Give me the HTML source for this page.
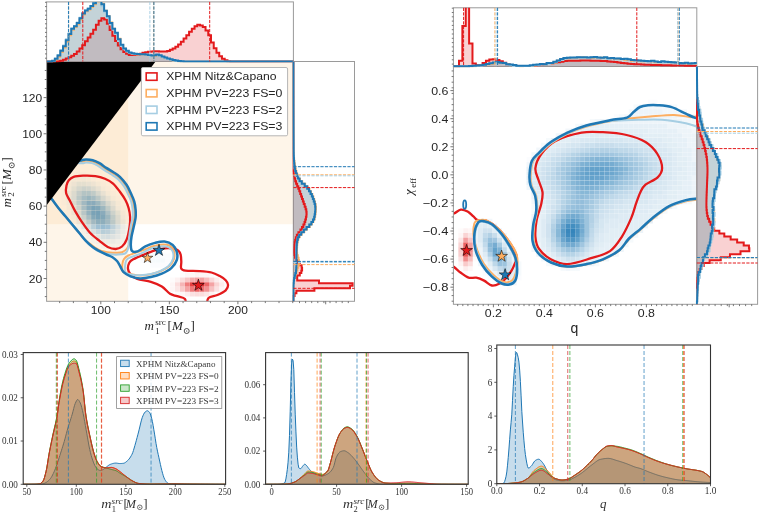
<!DOCTYPE html><html><head><meta charset="utf-8"><style>html,body{margin:0;padding:0;background:#fff;overflow:hidden}svg{display:block;will-change:transform;filter:blur(0.35px)}text{font-family:"Liberation Sans",sans-serif}.sf{font-family:"Liberation Serif",serif}</style></head><body>
<svg width="760" height="514" viewBox="0 0 760 514">
<defs>
<clipPath id="cA"><rect x="46.6" y="61.5" width="246.79999999999998" height="239.8"/></clipPath>
<clipPath id="cAt"><rect x="46.6" y="1.9" width="246.79999999999998" height="60.6"/></clipPath>
<clipPath id="cAr"><rect x="292.4" y="61.5" width="62.10000000000002" height="239.8"/></clipPath>
<clipPath id="cB"><rect x="453.4" y="66.5" width="243.39999999999998" height="237.8"/></clipPath>
<clipPath id="cBt"><rect x="453.4" y="7.8" width="243.39999999999998" height="59.7"/></clipPath>
<clipPath id="cBr"><rect x="695.8" y="66.5" width="61.80000000000007" height="237.8"/></clipPath>
</defs>
<rect clip-path="url(#cA)" x="46.6" y="61.5" width="81.62" height="239.8" fill="#fbb96a" fill-opacity="0.15"/>
<g clip-path="url(#cA)" fill="#1f78b4">
<path fill-opacity="0.02" d="M61.48,181.47h4.8v4.66h-4.8zM61.48,186.27h4.8v4.66h-4.8zM61.48,191.06h4.8v4.66h-4.8zM61.48,195.86h4.8v4.66h-4.8zM61.48,200.65h4.8v4.66h-4.8zM66.41,176.67h4.8v4.66h-4.8zM66.41,210.25h4.8v4.66h-4.8zM66.41,215.04h4.8v4.66h-4.8zM71.35,219.84h4.8v4.66h-4.8zM76.29,171.88h4.8v4.66h-4.8zM76.29,229.43h4.8v4.66h-4.8zM81.22,171.88h4.8v4.66h-4.8zM81.22,234.23h4.8v4.66h-4.8zM86.16,239.02h4.8v4.66h-4.8zM91.09,176.67h4.8v4.66h-4.8zM96.03,243.82h4.8v4.66h-4.8zM100.97,181.47h4.8v4.66h-4.8zM105.9,186.27h4.8v4.66h-4.8zM110.84,191.06h4.8v4.66h-4.8zM110.84,248.61h4.8v4.66h-4.8zM115.77,195.86h4.8v4.66h-4.8zM120.71,205.45h4.8v4.66h-4.8zM120.71,243.82h4.8v4.66h-4.8zM125.65,215.04h4.8v4.66h-4.8zM125.65,219.84h4.8v4.66h-4.8zM125.65,234.23h4.8v4.66h-4.8zM125.65,239.02h4.8v4.66h-4.8zM140.45,248.61h4.8v4.66h-4.8zM140.45,253.41h4.8v4.66h-4.8zM140.45,258.21h4.8v4.66h-4.8zM145.39,248.61h4.8v4.66h-4.8zM150.33,248.61h4.8v4.66h-4.8zM150.33,263h4.8v4.66h-4.8zM155.26,248.61h4.8v4.66h-4.8zM155.26,263h4.8v4.66h-4.8zM160.2,253.41h4.8v4.66h-4.8zM160.2,263h4.8v4.66h-4.8zM165.13,253.41h4.8v4.66h-4.8zM165.13,258.21h4.8v4.66h-4.8zM165.13,263h4.8v4.66h-4.8z"/>
<path fill-opacity="0.04" d="M66.41,181.47h4.8v4.66h-4.8zM66.41,205.45h4.8v4.66h-4.8zM71.35,176.67h4.8v4.66h-4.8zM71.35,215.04h4.8v4.66h-4.8zM76.29,176.67h4.8v4.66h-4.8zM76.29,224.63h4.8v4.66h-4.8zM81.22,229.43h4.8v4.66h-4.8zM86.16,176.67h4.8v4.66h-4.8zM86.16,234.23h4.8v4.66h-4.8zM91.09,239.02h4.8v4.66h-4.8zM96.03,181.47h4.8v4.66h-4.8zM100.97,186.27h4.8v4.66h-4.8zM100.97,243.82h4.8v4.66h-4.8zM105.9,191.06h4.8v4.66h-4.8zM105.9,243.82h4.8v4.66h-4.8zM110.84,195.86h4.8v4.66h-4.8zM110.84,243.82h4.8v4.66h-4.8zM115.77,200.65h4.8v4.66h-4.8zM115.77,243.82h4.8v4.66h-4.8zM120.71,210.25h4.8v4.66h-4.8zM120.71,239.02h4.8v4.66h-4.8zM125.65,224.63h4.8v4.66h-4.8zM125.65,229.43h4.8v4.66h-4.8zM145.39,253.41h4.8v4.66h-4.8zM145.39,258.21h4.8v4.66h-4.8zM150.33,253.41h4.8v4.66h-4.8zM150.33,258.21h4.8v4.66h-4.8zM155.26,253.41h4.8v4.66h-4.8zM155.26,258.21h4.8v4.66h-4.8zM160.2,258.21h4.8v4.66h-4.8z"/>
<path fill-opacity="0.06" d="M66.41,186.27h4.8v4.66h-4.8zM66.41,200.65h4.8v4.66h-4.8zM81.22,176.67h4.8v4.66h-4.8zM96.03,239.02h4.8v4.66h-4.8zM115.77,205.45h4.8v4.66h-4.8zM115.77,239.02h4.8v4.66h-4.8zM120.71,215.04h4.8v4.66h-4.8zM120.71,234.23h4.8v4.66h-4.8z"/>
<path fill-opacity="0.08" d="M66.41,191.06h4.8v4.66h-4.8zM66.41,195.86h4.8v4.66h-4.8zM71.35,181.47h4.8v4.66h-4.8zM71.35,210.25h4.8v4.66h-4.8zM76.29,219.84h4.8v4.66h-4.8zM91.09,181.47h4.8v4.66h-4.8zM91.09,234.23h4.8v4.66h-4.8zM100.97,239.02h4.8v4.66h-4.8zM105.9,239.02h4.8v4.66h-4.8zM110.84,239.02h4.8v4.66h-4.8zM120.71,219.84h4.8v4.66h-4.8zM120.71,224.63h4.8v4.66h-4.8zM120.71,229.43h4.8v4.66h-4.8z"/>
<path fill-opacity="0.11" d="M81.22,224.63h4.8v4.66h-4.8zM86.16,181.47h4.8v4.66h-4.8zM86.16,229.43h4.8v4.66h-4.8zM96.03,186.27h4.8v4.66h-4.8zM100.97,191.06h4.8v4.66h-4.8zM105.9,195.86h4.8v4.66h-4.8zM110.84,200.65h4.8v4.66h-4.8zM115.77,234.23h4.8v4.66h-4.8z"/>
<path fill-opacity="0.13" d="M71.35,186.27h4.8v4.66h-4.8zM71.35,205.45h4.8v4.66h-4.8zM76.29,181.47h4.8v4.66h-4.8zM76.29,215.04h4.8v4.66h-4.8zM81.22,181.47h4.8v4.66h-4.8zM96.03,234.23h4.8v4.66h-4.8zM115.77,210.25h4.8v4.66h-4.8z"/>
<path fill-opacity="0.15" d="M110.84,234.23h4.8v4.66h-4.8zM115.77,229.43h4.8v4.66h-4.8z"/>
<path fill-opacity="0.17" d="M71.35,191.06h4.8v4.66h-4.8zM71.35,200.65h4.8v4.66h-4.8zM81.22,219.84h4.8v4.66h-4.8zM91.09,186.27h4.8v4.66h-4.8zM91.09,229.43h4.8v4.66h-4.8zM100.97,234.23h4.8v4.66h-4.8zM110.84,205.45h4.8v4.66h-4.8zM115.77,215.04h4.8v4.66h-4.8z"/>
<path fill-opacity="0.19" d="M71.35,195.86h4.8v4.66h-4.8zM76.29,210.25h4.8v4.66h-4.8zM86.16,224.63h4.8v4.66h-4.8zM105.9,234.23h4.8v4.66h-4.8zM115.77,219.84h4.8v4.66h-4.8zM115.77,224.63h4.8v4.66h-4.8z"/>
<path fill-opacity="0.21" d="M76.29,186.27h4.8v4.66h-4.8zM96.03,191.06h4.8v4.66h-4.8zM100.97,195.86h4.8v4.66h-4.8zM105.9,200.65h4.8v4.66h-4.8z"/>
<path fill-opacity="0.23" d="M86.16,186.27h4.8v4.66h-4.8zM110.84,229.43h4.8v4.66h-4.8z"/>
<path fill-opacity="0.25" d="M76.29,205.45h4.8v4.66h-4.8zM81.22,186.27h4.8v4.66h-4.8zM96.03,229.43h4.8v4.66h-4.8zM110.84,210.25h4.8v4.66h-4.8z"/>
<path fill-opacity="0.27" d="M81.22,215.04h4.8v4.66h-4.8z"/>
<path fill-opacity="0.29" d="M76.29,191.06h4.8v4.66h-4.8zM105.9,229.43h4.8v4.66h-4.8zM110.84,224.63h4.8v4.66h-4.8z"/>
<path fill-opacity="0.32" d="M76.29,200.65h4.8v4.66h-4.8zM86.16,219.84h4.8v4.66h-4.8zM91.09,191.06h4.8v4.66h-4.8zM91.09,224.63h4.8v4.66h-4.8zM100.97,229.43h4.8v4.66h-4.8zM105.9,205.45h4.8v4.66h-4.8zM110.84,215.04h4.8v4.66h-4.8z"/>
<path fill-opacity="0.34" d="M76.29,195.86h4.8v4.66h-4.8zM96.03,195.86h4.8v4.66h-4.8zM110.84,219.84h4.8v4.66h-4.8z"/>
<path fill-opacity="0.36" d="M81.22,210.25h4.8v4.66h-4.8zM100.97,200.65h4.8v4.66h-4.8z"/>
<path fill-opacity="0.38" d="M81.22,191.06h4.8v4.66h-4.8zM86.16,191.06h4.8v4.66h-4.8z"/>
<path fill-opacity="0.42" d="M96.03,224.63h4.8v4.66h-4.8zM105.9,210.25h4.8v4.66h-4.8zM105.9,224.63h4.8v4.66h-4.8z"/>
<path fill-opacity="0.44" d="M81.22,205.45h4.8v4.66h-4.8zM86.16,215.04h4.8v4.66h-4.8z"/>
<path fill-opacity="0.46" d="M81.22,195.86h4.8v4.66h-4.8zM91.09,195.86h4.8v4.66h-4.8zM100.97,224.63h4.8v4.66h-4.8z"/>
<path fill-opacity="0.48" d="M81.22,200.65h4.8v4.66h-4.8zM91.09,219.84h4.8v4.66h-4.8zM105.9,219.84h4.8v4.66h-4.8z"/>
<path fill-opacity="0.5" d="M96.03,200.65h4.8v4.66h-4.8zM100.97,205.45h4.8v4.66h-4.8zM105.9,215.04h4.8v4.66h-4.8z"/>
<path fill-opacity="0.53" d="M86.16,195.86h4.8v4.66h-4.8z"/>
<path fill-opacity="0.55" d="M86.16,210.25h4.8v4.66h-4.8z"/>
<path fill-opacity="0.59" d="M96.03,219.84h4.8v4.66h-4.8zM100.97,219.84h4.8v4.66h-4.8z"/>
<path fill-opacity="0.61" d="M86.16,200.65h4.8v4.66h-4.8zM86.16,205.45h4.8v4.66h-4.8zM91.09,200.65h4.8v4.66h-4.8zM100.97,210.25h4.8v4.66h-4.8z"/>
<path fill-opacity="0.63" d="M91.09,215.04h4.8v4.66h-4.8z"/>
<path fill-opacity="0.65" d="M96.03,205.45h4.8v4.66h-4.8zM100.97,215.04h4.8v4.66h-4.8z"/>
<path fill-opacity="0.69" d="M91.09,205.45h4.8v4.66h-4.8zM91.09,210.25h4.8v4.66h-4.8zM96.03,215.04h4.8v4.66h-4.8z"/>
<path fill-opacity="0.71" d="M96.03,210.25h4.8v4.66h-4.8z"/>
</g>
<g clip-path="url(#cA)" fill="#e31a1c">
<path fill-opacity="0.02" d="M170.07,277.39h4.8v4.66h-4.8zM175.01,291.78h4.8v4.66h-4.8zM179.94,272.59h4.8v4.66h-4.8zM209.56,272.59h4.8v4.66h-4.8zM214.49,291.78h4.8v4.66h-4.8zM224.37,282.19h4.8v4.66h-4.8zM224.37,286.98h4.8v4.66h-4.8z"/>
<path fill-opacity="0.04" d="M170.07,282.19h4.8v4.66h-4.8zM170.07,286.98h4.8v4.66h-4.8zM179.94,291.78h4.8v4.66h-4.8zM184.88,272.59h4.8v4.66h-4.8zM189.81,272.59h4.8v4.66h-4.8zM199.69,272.59h4.8v4.66h-4.8zM204.62,272.59h4.8v4.66h-4.8zM219.43,277.39h4.8v4.66h-4.8zM219.43,286.98h4.8v4.66h-4.8z"/>
<path fill-opacity="0.06" d="M175.01,277.39h4.8v4.66h-4.8zM194.75,272.59h4.8v4.66h-4.8zM209.56,291.78h4.8v4.66h-4.8z"/>
<path fill-opacity="0.08" d="M184.88,291.78h4.8v4.66h-4.8zM214.49,277.39h4.8v4.66h-4.8zM219.43,282.19h4.8v4.66h-4.8z"/>
<path fill-opacity="0.11" d="M175.01,286.98h4.8v4.66h-4.8zM204.62,291.78h4.8v4.66h-4.8z"/>
<path fill-opacity="0.13" d="M189.81,291.78h4.8v4.66h-4.8zM214.49,286.98h4.8v4.66h-4.8z"/>
<path fill-opacity="0.15" d="M175.01,282.19h4.8v4.66h-4.8zM179.94,277.39h4.8v4.66h-4.8zM194.75,291.78h4.8v4.66h-4.8zM199.69,291.78h4.8v4.66h-4.8z"/>
<path fill-opacity="0.17" d="M209.56,277.39h4.8v4.66h-4.8z"/>
<path fill-opacity="0.19" d="M214.49,282.19h4.8v4.66h-4.8z"/>
<path fill-opacity="0.23" d="M179.94,286.98h4.8v4.66h-4.8z"/>
<path fill-opacity="0.25" d="M184.88,277.39h4.8v4.66h-4.8z"/>
<path fill-opacity="0.27" d="M209.56,286.98h4.8v4.66h-4.8z"/>
<path fill-opacity="0.29" d="M204.62,277.39h4.8v4.66h-4.8z"/>
<path fill-opacity="0.32" d="M179.94,282.19h4.8v4.66h-4.8z"/>
<path fill-opacity="0.36" d="M189.81,277.39h4.8v4.66h-4.8z"/>
<path fill-opacity="0.4" d="M184.88,286.98h4.8v4.66h-4.8zM199.69,277.39h4.8v4.66h-4.8zM209.56,282.19h4.8v4.66h-4.8z"/>
<path fill-opacity="0.42" d="M194.75,277.39h4.8v4.66h-4.8z"/>
<path fill-opacity="0.48" d="M204.62,286.98h4.8v4.66h-4.8z"/>
<path fill-opacity="0.57" d="M184.88,282.19h4.8v4.66h-4.8z"/>
<path fill-opacity="0.59" d="M189.81,286.98h4.8v4.66h-4.8z"/>
<path fill-opacity="0.63" d="M199.69,286.98h4.8v4.66h-4.8z"/>
<path fill-opacity="0.67" d="M204.62,282.19h4.8v4.66h-4.8z"/>
<path fill-opacity="0.69" d="M194.75,286.98h4.8v4.66h-4.8z"/>
<path fill-opacity="0.84" d="M189.81,282.19h4.8v4.66h-4.8z"/>
<path fill-opacity="0.9" d="M199.69,282.19h4.8v4.66h-4.8z"/>
<path fill-opacity="0.97" d="M194.75,282.19h4.8v4.66h-4.8z"/>
</g>
<rect clip-path="url(#cA)" x="46.6" y="61.5" width="246.79999999999998" height="162.73000000000002" fill="#fbb96a" fill-opacity="0.15"/>
<path clip-path="url(#cA)" d="M68.8,180.2C69.98,178.75 71.22,177.55 73.6,176.8C75.98,176.05 79.47,175.82 83.1,175.7C86.73,175.58 91.75,175.58 95.4,176.1C99.05,176.62 102.05,177.55 105,178.8C107.95,180.05 110.62,181.43 113.1,183.6C115.58,185.77 117.85,189.07 119.9,191.8C121.95,194.53 123.95,197.3 125.4,200C126.85,202.7 127.82,205.17 128.6,208C129.38,210.83 129.95,213.8 130.1,217C130.25,220.2 130.07,223.45 129.5,227.2C128.93,230.95 127.95,236.28 126.7,239.5C125.45,242.72 123.82,244.92 122,246.5C120.18,248.08 118.18,248.92 115.8,249C113.42,249.08 110.42,248.35 107.7,247C104.98,245.65 102.45,243.28 99.5,240.9C96.55,238.52 92.95,235.88 90,232.7C87.05,229.52 84.3,225.43 81.8,221.8C79.3,218.17 77.05,214.53 75,210.9C72.95,207.27 70.98,202.98 69.5,200C68.02,197.02 66.6,195.42 66.1,193C65.6,190.58 66.05,187.63 66.5,185.5C66.95,183.37 67.62,181.65 68.8,180.2Z" fill="none" stroke="#e31a1c" stroke-width="2.3" stroke-linejoin="round"/>
<path clip-path="url(#cA)" d="M185.4,306C185.33,304.83 186.38,300.63 185,299C183.62,297.37 179.6,297.07 177.1,296.2C174.6,295.33 172.55,295.42 170,293.8C167.45,292.18 164.98,288.5 161.8,286.5C158.62,284.5 155,283.05 150.9,281.8C146.8,280.55 140.58,280.22 137.2,279C133.82,277.78 132.13,276.17 130.6,274.5C129.07,272.83 128.22,270.97 128,269C127.78,267.03 128.43,264.32 129.3,262.7C130.17,261.08 130.73,260.67 133.2,259.3C135.67,257.93 140.47,255.98 144.1,254.5C147.73,253.02 151.6,251.42 155,250.4C158.4,249.38 161.42,248.7 164.5,248.4C167.58,248.1 171.2,248.23 173.5,248.6C175.8,248.97 177.1,249.58 178.3,250.6C179.5,251.62 180.2,252.83 180.7,254.7C181.2,256.57 181.22,259.5 181.3,261.8C181.38,264.1 180.52,267.02 181.2,268.5C181.88,269.98 182.33,270.27 185.4,270.7C188.47,271.13 195.25,270.8 199.6,271.1C203.95,271.4 208.13,271.67 211.5,272.5C214.87,273.33 217.43,274.82 219.8,276.1C222.17,277.38 224.32,278.72 225.7,280.2C227.08,281.68 228.1,283.32 228.1,285C228.1,286.68 227.48,288.63 225.7,290.3C223.92,291.97 220.27,293.72 217.4,295C214.53,296.28 210.28,296.17 208.5,298C206.72,299.83 207,304.67 206.7,306" fill="none" stroke="#e31a1c" stroke-width="2.3" stroke-linejoin="round"/>
<path clip-path="url(#cA)" d="M81.34,161.68C84.66,161.31 84.09,160.84 85.92,160.8C87.76,160.76 90.2,160.87 92.36,161.45C94.51,162.04 96.65,163.08 98.86,164.33C101.07,165.59 103.34,167.53 105.59,168.99C107.85,170.45 110.15,171.63 112.39,173.09C114.62,174.55 116.8,175.63 119,177.74C121.21,179.85 123.85,183.07 125.62,185.72C127.39,188.37 128.4,190.99 129.62,193.64C130.84,196.3 132.17,199 132.95,201.67C133.73,204.33 134.08,206.96 134.3,209.61C134.53,212.26 134.64,214.67 134.31,217.55C133.98,220.44 133.01,223.77 132.33,226.93C131.65,230.09 130.68,233.93 130.23,236.52C129.78,239.12 130.14,240.5 129.6,242.5C129.06,244.5 128.27,246.88 127,248.5C125.73,250.12 123.83,251.48 122,252.2C120.17,252.92 118,252.73 116,252.8C114,252.87 112,252.82 110,252.6C108,252.38 105.83,251.97 104,251.5C102.17,251.03 100.5,250.47 99,249.8C97.5,249.13 96.33,248.38 95,247.5C93.67,246.62 92.23,245.38 91,244.5C89.77,243.62 88.45,242.8 87.6,242.2C86.75,241.6 87.32,242.48 85.9,240.9C84.48,239.32 81.38,235.43 79.1,232.7C76.82,229.97 74.48,227.23 72.2,224.5C69.92,221.77 67.67,219.02 65.4,216.3C63.13,213.58 60.75,210.92 58.6,208.2C56.45,205.48 54.43,202.7 52.5,200C50.57,197.3 48.42,195.33 47,192C45.58,188.67 43.17,183.67 44,180C44.83,176.33 48.33,172.83 52,170C55.67,167.17 61.11,164.39 66,163C70.89,161.61 78.02,162.04 81.34,161.68Z" fill="none" stroke="#fdae61" stroke-width="2.0" stroke-linejoin="round"/>
<path clip-path="url(#cA)" d="M122.6,271C122.08,269.5 122.17,266 122.4,264C122.63,262 123.02,260.42 124,259C124.98,257.58 126.47,256.5 128.3,255.5C130.13,254.5 132.22,254 135,253C137.78,252 142.17,250.58 145,249.5C147.83,248.42 149.5,247.3 152,246.5C154.5,245.7 157.5,244.98 160,244.7C162.5,244.42 165,244.33 167,244.8C169,245.27 170.78,246.3 172,247.5C173.22,248.7 173.97,250.08 174.3,252C174.63,253.92 174.8,256.67 174,259C173.2,261.33 171.67,264 169.5,266C167.33,268 164.1,269.63 161,271C157.9,272.37 154.4,273.45 150.9,274.2C147.4,274.95 143.32,275.48 140,275.5C136.68,275.52 133.42,274.72 131,274.3C128.58,273.88 126.9,273.55 125.5,273C124.1,272.45 123.12,272.5 122.6,271Z" fill="none" stroke="#fdae61" stroke-width="2.0" stroke-linejoin="round"/>
<path clip-path="url(#cA)" d="M81.65,163.35C84.98,163.27 84.24,162.54 85.95,162.5C87.66,162.46 89.9,162.54 91.91,163.09C93.92,163.65 95.9,164.59 98.02,165.81C100.15,167.03 102.43,168.97 104.67,170.42C106.91,171.87 109.26,173.09 111.46,174.51C113.65,175.94 115.7,176.94 117.83,178.97C119.95,180.99 122.5,184.1 124.21,186.67C125.91,189.23 126.89,191.77 128.07,194.35C129.26,196.93 130.56,199.58 131.32,202.14C132.08,204.71 132.39,207.22 132.61,209.76C132.83,212.29 132.94,214.56 132.62,217.36C132.29,220.17 131.3,222.8 130.67,226.57C130.03,230.34 129.14,236.76 128.8,240C128.46,243.24 128.87,244.17 128.6,246C128.33,247.83 127.88,249.7 127.2,251C126.52,252.3 126.03,253.2 124.5,253.8C122.97,254.4 120.42,254.52 118,254.6C115.58,254.68 112.5,254.57 110,254.3C107.5,254.03 105.17,253.63 103,253C100.83,252.37 98.67,251.37 97,250.5C95.33,249.63 94.3,248.8 93,247.8C91.7,246.8 90.2,245.42 89.2,244.5C88.2,243.58 87.55,242.9 87,242.3C86.45,241.7 87.22,242.5 85.9,240.9C84.58,239.3 81.38,235.43 79.1,232.7C76.82,229.97 74.48,227.23 72.2,224.5C69.92,221.77 67.67,219.02 65.4,216.3C63.13,213.58 60.75,210.92 58.6,208.2C56.45,205.48 54.43,202.7 52.5,200C50.57,197.3 48.42,195.33 47,192C45.58,188.67 43.17,183.67 44,180C44.83,176.33 48.33,172.83 52,170C55.67,167.17 61.06,164.11 66,163C70.94,161.89 78.33,163.43 81.65,163.35Z" fill="none" stroke="#a6cee3" stroke-width="2.0" stroke-linejoin="round"/>
<path clip-path="url(#cA)" d="M125.4,272C124.27,270.37 125.02,267 125.2,265C125.38,263 125.7,261.25 126.5,260C127.3,258.75 128.25,258.33 130,257.5C131.75,256.67 134.5,256 137,255C139.5,254 142.5,252.63 145,251.5C147.5,250.37 149.5,249.05 152,248.2C154.5,247.35 157.58,246.68 160,246.4C162.42,246.12 164.67,246.07 166.5,246.5C168.33,246.93 169.88,247.92 171,249C172.12,250.08 172.88,251.33 173.2,253C173.52,254.67 173.67,256.83 172.9,259C172.13,261.17 170.67,264.03 168.6,266C166.53,267.97 163.45,269.47 160.5,270.8C157.55,272.13 154.32,273.25 150.9,274C147.48,274.75 143.15,275.17 140,275.3C136.85,275.43 134.43,275.35 132,274.8C129.57,274.25 126.53,273.63 125.4,272Z" fill="none" stroke="#a6cee3" stroke-width="2.0" stroke-linejoin="round"/>
<path clip-path="url(#cA)" d="M81.1,160.4C84.42,159.82 83.97,159.53 85.9,159.5C87.83,159.47 90.43,159.58 92.7,160.2C94.97,160.82 97.23,161.92 99.5,163.2C101.77,164.48 104.03,166.43 106.3,167.9C108.57,169.37 110.83,170.52 113.1,172C115.37,173.48 117.63,174.63 119.9,176.8C122.17,178.97 124.88,182.28 126.7,185C128.52,187.72 129.55,190.38 130.8,193.1C132.05,195.82 133.4,198.57 134.2,201.3C135,204.03 135.37,206.77 135.6,209.5C135.83,212.23 135.93,214.75 135.6,217.7C135.27,220.65 134.28,224.02 133.6,227.2C132.92,230.38 131.97,233.83 131.5,236.8C131.03,239.77 130.75,242.67 130.8,245C130.85,247.33 130.95,249.67 131.8,250.8C132.65,251.93 134.47,251.97 135.9,251.8C137.33,251.63 138.82,250.72 140.4,249.8C141.98,248.88 142.97,247.45 145.4,246.3C147.83,245.15 151.82,243.68 155,242.9C158.18,242.12 161.55,241.25 164.5,241.6C167.45,241.95 170.65,243.3 172.7,245C174.75,246.7 176.12,249.3 176.8,251.8C177.48,254.3 177.72,257.28 176.8,260C175.88,262.72 173.8,265.83 171.3,268.1C168.8,270.37 165.2,272.12 161.8,273.6C158.4,275.08 154.53,276.2 150.9,277C147.27,277.8 143.42,278.52 140,278.4C136.58,278.28 133.13,277.33 130.4,276.3C127.67,275.27 125.28,273.83 123.6,272.2C121.92,270.57 121.4,268.37 120.3,266.5C119.2,264.63 118.3,262.55 117,261C115.7,259.45 114.28,258.28 112.5,257.2C110.72,256.12 108.47,255.52 106.3,254.5C104.13,253.48 101.77,252.35 99.5,251.1C97.23,249.85 94.97,248.7 92.7,247C90.43,245.3 88.17,243.28 85.9,240.9C83.63,238.52 81.38,235.43 79.1,232.7C76.82,229.97 74.48,227.23 72.2,224.5C69.92,221.77 67.67,219.02 65.4,216.3C63.13,213.58 60.75,210.92 58.6,208.2C56.45,205.48 54.43,202.7 52.5,200C50.57,197.3 48.42,195.33 47,192C45.58,188.67 43.17,183.67 44,180C44.83,176.33 48.33,172.83 52,170C55.67,167.17 61.15,164.6 66,163C70.85,161.4 77.78,160.98 81.1,160.4Z" fill="none" stroke="#1f78b4" stroke-width="2.5" stroke-linejoin="round"/>
<path d="M147.5,252.4 148.76,256.27 152.83,256.27 149.53,258.66 150.79,262.53 147.5,260.14 144.21,262.53 145.47,258.66 142.17,256.27 146.24,256.27Z" fill="#fdae61" stroke="#000" stroke-width="0.55" stroke-linejoin="miter"/>
<path d="M159,244.2 160.39,248.48 164.9,248.48 161.25,251.13 162.64,255.42 159,252.77 155.36,255.42 156.75,251.13 153.1,248.48 157.61,248.48Z" fill="#1f78b4" stroke="#000" stroke-width="0.55" stroke-linejoin="miter"/>
<path d="M198.4,279.1 199.79,283.38 204.3,283.38 200.65,286.03 202.04,290.32 198.4,287.67 194.76,290.32 196.15,286.03 192.5,283.38 197.01,283.38Z" fill="#e31a1c" stroke="#000" stroke-width="0.55" stroke-linejoin="miter"/>
<path d="M46.6,61.5 L155.58,61.5 L46.6,205.3 Z" fill="#000"/>
<rect x="141.4" y="67.5" width="146.2" height="68.3" rx="1.5" fill="#fff" stroke="#b5b5b5" stroke-width="1"/>
<rect x="146.2" y="72.9" width="10.8" height="7.4" fill="none" stroke="#e31a1c" stroke-width="1.6"/>
<text x="166.2" y="80.4" font-size="10.6" fill="#262626" textLength="110.3" lengthAdjust="spacingAndGlyphs">XPHM Nitz&amp;Capano</text>
<rect x="146.2" y="89.5" width="10.8" height="7.4" fill="none" stroke="#fdae61" stroke-width="1.6"/>
<text x="166.2" y="97" font-size="10.6" fill="#262626" textLength="116.2" lengthAdjust="spacingAndGlyphs">XPHM PV=223 FS=0</text>
<rect x="146.2" y="106.1" width="10.8" height="7.4" fill="none" stroke="#a6cee3" stroke-width="1.6"/>
<text x="166.2" y="113.6" font-size="10.6" fill="#262626" textLength="116.2" lengthAdjust="spacingAndGlyphs">XPHM PV=223 FS=2</text>
<rect x="146.2" y="122.7" width="10.8" height="7.4" fill="none" stroke="#1f78b4" stroke-width="1.6"/>
<text x="166.2" y="130.2" font-size="10.6" fill="#262626" textLength="116.2" lengthAdjust="spacingAndGlyphs">XPHM PV=223 FS=3</text>
<rect x="46.6" y="1.9" width="246.8" height="59.6" fill="none" stroke="#9a9a9a" stroke-width="1.0"/>
<rect x="46.6" y="61.5" width="246.8" height="239.8" fill="none" stroke="#9a9a9a" stroke-width="1.0"/>
<rect x="293.4" y="61.5" width="61.1" height="239.8" fill="none" stroke="#9a9a9a" stroke-width="1.0"/>
<path clip-path="url(#cAt)" d="M46.6,61.5 46.6,61.5 49.34,61.5 49.34,61.5 52.08,61.5 52.08,61.48 54.82,61.48 54.82,61.44 57.56,61.44 57.56,61.34 60.3,61.34 60.3,60.72 63.04,60.72 63.04,59.66 65.78,59.66 65.78,58.44 68.52,58.44 68.52,57.2 71.26,57.2 71.26,55.71 74,55.71 74,53.91 76.74,53.91 76.74,51.62 79.48,51.62 79.48,48.61 82.22,48.61 82.22,45.22 84.96,45.22 84.96,41.29 87.7,41.29 87.7,37.41 90.44,37.41 90.44,33.76 93.18,33.76 93.18,29.81 95.92,29.81 95.92,24.86 98.66,24.86 98.66,20.74 101.4,20.74 101.4,18.3 104.14,18.3 104.14,19.6 106.88,19.6 106.88,23.77 109.62,23.77 109.62,29.98 112.36,29.98 112.36,35.66 115.1,35.66 115.1,40.9 117.84,40.9 117.84,45.6 120.58,45.6 120.58,49.2 123.32,49.2 123.32,51.94 126.06,51.94 126.06,53.78 128.8,53.78 128.8,54.88 131.54,54.88 131.54,54.9 134.28,54.9 134.28,54.9 137.02,54.9 137.02,54.76 139.76,54.76 139.76,53.84 142.5,53.84 142.5,52.78 145.24,52.78 145.24,52.22 147.98,52.22 147.98,51.77 150.72,51.77 150.72,51.44 153.46,51.44 153.46,51.3 156.2,51.3 156.2,51.35 158.94,51.35 158.94,51.46 161.68,51.46 161.68,51.57 164.42,51.57 164.42,51.56 167.16,51.56 167.16,50.9 169.9,50.9 169.9,49.81 172.64,49.81 172.64,48.49 175.38,48.49 175.38,46.65 178.12,46.65 178.12,44.44 180.86,44.44 180.86,41.75 183.6,41.75 183.6,38.45 186.34,38.45 186.34,35.16 189.08,35.16 189.08,31.72 191.82,31.72 191.82,28.84 194.56,28.84 194.56,26.37 197.3,26.37 197.3,24.85 200.04,24.85 200.04,25.39 202.78,25.39 202.78,27.11 205.52,27.11 205.52,30.39 208.26,30.39 208.26,35.3 211,35.3 211,42.54 213.74,42.54 213.74,48.24 216.48,48.24 216.48,52.79 219.22,52.79 219.22,56.3 221.96,56.3 221.96,58.71 224.7,58.71 224.7,60.34 227.44,60.34 227.44,61.26 230.18,61.26 230.18,61.42 232.92,61.42 232.92,61.5 235.66,61.5 235.66,61.5 238.4,61.5 238.4,61.5 241.14,61.5 241.14,61.5 243.88,61.5 243.88,61.5 246.62,61.5 246.62,61.5 249.36,61.5 249.36,61.5 252.1,61.5 252.1,61.5 254.84,61.5 254.84,61.5 257.58,61.5 257.58,61.5 260.32,61.5 260.32,61.5 263.06,61.5 263.06,61.5 265.8,61.5 265.8,61.5 268.54,61.5 268.54,61.5 271.28,61.5 271.28,61.5 274.02,61.5 274.02,61.5 276.76,61.5 276.76,61.5 279.5,61.5 279.5,61.5 282.24,61.5 282.24,61.5 284.98,61.5 284.98,61.5 287.72,61.5 287.72,61.5 290.46,61.5 290.46,61.5 293.2,61.5 293.2,61.5 295.94,61.5 295.94,61.5Z" fill="#e31a1c" fill-opacity="0.2" stroke="none"/>
<path clip-path="url(#cAt)" d="M46.6,61.5 46.6,61.5 49.34,61.5 49.34,61.5 52.08,61.5 52.08,61.32 54.82,61.32 54.82,59.55 57.56,59.55 57.56,56.8 60.3,56.8 60.3,52.05 63.04,52.05 63.04,47.53 65.78,47.53 65.78,41.95 68.52,41.95 68.52,35.5 71.26,35.5 71.26,29.99 74,29.99 74,27.08 76.74,27.08 76.74,24.29 79.48,24.29 79.48,19.65 82.22,19.65 82.22,14.74 84.96,14.74 84.96,11.49 87.7,11.49 87.7,9.58 90.44,9.58 90.44,7.07 93.18,7.07 93.18,4.33 95.92,4.33 95.92,1.76 98.66,1.76 98.66,1.6 101.4,1.6 101.4,3.71 104.14,3.71 104.14,10.68 106.88,10.68 106.88,16.05 109.62,16.05 109.62,22.47 112.36,22.47 112.36,28.6 115.1,28.6 115.1,32.75 117.84,32.75 117.84,38.67 120.58,38.67 120.58,44.84 123.32,44.84 123.32,48.58 126.06,48.58 126.06,51.12 128.8,51.12 128.8,52.91 131.54,52.91 131.54,53.8 134.28,53.8 134.28,54.38 137.02,54.38 137.02,54.66 139.76,54.66 139.76,54.77 142.5,54.77 142.5,54.89 145.24,54.89 145.24,55.14 147.98,55.14 147.98,55.51 150.72,55.51 150.72,55.95 153.46,55.95 153.46,56.09 156.2,56.09 156.2,55.23 158.94,55.23 158.94,55.75 161.68,55.75 161.68,56.97 164.42,56.97 164.42,57.99 167.16,57.99 167.16,59.01 169.9,59.01 169.9,59.85 172.64,59.85 172.64,60.65 175.38,60.65 175.38,61.25 178.12,61.25 178.12,61.43 180.86,61.43 180.86,61.48 183.6,61.48 183.6,61.5 186.34,61.5 186.34,61.5 189.08,61.5 189.08,61.5 191.82,61.5 191.82,61.5 194.56,61.5 194.56,61.5 197.3,61.5 197.3,61.5 200.04,61.5 200.04,61.5 202.78,61.5 202.78,61.5 205.52,61.5 205.52,61.5 208.26,61.5 208.26,61.5 211,61.5 211,61.5 213.74,61.5 213.74,61.5 216.48,61.5 216.48,61.5 219.22,61.5 219.22,61.5 221.96,61.5 221.96,61.5 224.7,61.5 224.7,61.5 227.44,61.5 227.44,61.5 230.18,61.5 230.18,61.5 232.92,61.5 232.92,61.5 235.66,61.5 235.66,61.5 238.4,61.5 238.4,61.5 241.14,61.5 241.14,61.5 243.88,61.5 243.88,61.5 246.62,61.5 246.62,61.5 249.36,61.5 249.36,61.5 252.1,61.5 252.1,61.5 254.84,61.5 254.84,61.5 257.58,61.5 257.58,61.5 260.32,61.5 260.32,61.5 263.06,61.5 263.06,61.5 265.8,61.5 265.8,61.5 268.54,61.5 268.54,61.5 271.28,61.5 271.28,61.5 274.02,61.5 274.02,61.5 276.76,61.5 276.76,61.5 279.5,61.5 279.5,61.5 282.24,61.5 282.24,61.5 284.98,61.5 284.98,61.5 287.72,61.5 287.72,61.5 290.46,61.5 290.46,61.5 293.2,61.5 293.2,61.5 295.94,61.5 295.94,61.5Z" fill="#fdae61" fill-opacity="0.2" stroke="none"/>
<path clip-path="url(#cAt)" d="M46.6,61.5 46.6,61.5 49.34,61.5 49.34,61.5 52.08,61.5 52.08,60.8 54.82,60.8 54.82,58.39 57.56,58.39 57.56,54.94 60.3,54.94 60.3,50.06 63.04,50.06 63.04,45.46 65.78,45.46 65.78,39.18 68.52,39.18 68.52,32.99 71.26,32.99 71.26,28.41 74,28.41 74,25.92 76.74,25.92 76.74,22.43 79.48,22.43 79.48,17.62 82.22,17.62 82.22,12.89 84.96,12.89 84.96,10.47 87.7,10.47 87.7,8.46 90.44,8.46 90.44,5.73 93.18,5.73 93.18,3.04 95.92,3.04 95.92,1.3 98.66,1.3 98.66,1.3 101.4,1.3 101.4,6.33 104.14,6.33 104.14,12.34 106.88,12.34 106.88,17.85 109.62,17.85 109.62,24.77 112.36,24.77 112.36,29.86 115.1,29.86 115.1,34.16 117.84,34.16 117.84,41.13 120.58,41.13 120.58,46.06 123.32,46.06 123.32,49.31 126.06,49.31 126.06,51.58 128.8,51.58 128.8,52.99 131.54,52.99 131.54,53.75 134.28,53.75 134.28,54.22 137.02,54.22 137.02,54.41 139.76,54.41 139.76,54.5 142.5,54.5 142.5,54.66 145.24,54.66 145.24,54.97 147.98,54.97 147.98,55.35 150.72,55.35 150.72,55.83 153.46,55.83 153.46,55.46 156.2,55.46 156.2,54.94 158.94,54.94 158.94,55.89 161.68,55.89 161.68,57.04 164.42,57.04 164.42,58.08 167.16,58.08 167.16,59.04 169.9,59.04 169.9,59.82 172.64,59.82 172.64,60.53 175.38,60.53 175.38,61.03 178.12,61.03 178.12,61.28 180.86,61.28 180.86,61.45 183.6,61.45 183.6,61.5 186.34,61.5 186.34,61.5 189.08,61.5 189.08,61.5 191.82,61.5 191.82,61.5 194.56,61.5 194.56,61.5 197.3,61.5 197.3,61.5 200.04,61.5 200.04,61.5 202.78,61.5 202.78,61.5 205.52,61.5 205.52,61.5 208.26,61.5 208.26,61.5 211,61.5 211,61.5 213.74,61.5 213.74,61.5 216.48,61.5 216.48,61.5 219.22,61.5 219.22,61.5 221.96,61.5 221.96,61.5 224.7,61.5 224.7,61.5 227.44,61.5 227.44,61.5 230.18,61.5 230.18,61.5 232.92,61.5 232.92,61.5 235.66,61.5 235.66,61.5 238.4,61.5 238.4,61.5 241.14,61.5 241.14,61.5 243.88,61.5 243.88,61.5 246.62,61.5 246.62,61.5 249.36,61.5 249.36,61.5 252.1,61.5 252.1,61.5 254.84,61.5 254.84,61.5 257.58,61.5 257.58,61.5 260.32,61.5 260.32,61.5 263.06,61.5 263.06,61.5 265.8,61.5 265.8,61.5 268.54,61.5 268.54,61.5 271.28,61.5 271.28,61.5 274.02,61.5 274.02,61.5 276.76,61.5 276.76,61.5 279.5,61.5 279.5,61.5 282.24,61.5 282.24,61.5 284.98,61.5 284.98,61.5 287.72,61.5 287.72,61.5 290.46,61.5 290.46,61.5 293.2,61.5 293.2,61.5 295.94,61.5 295.94,61.5Z" fill="#a6cee3" fill-opacity="0.2" stroke="none"/>
<path clip-path="url(#cAt)" d="M46.6,61.5 46.6,61.5 49.34,61.5 49.34,61.47 52.08,61.47 52.08,60.79 54.82,60.79 54.82,58.67 57.56,58.67 57.56,55.61 60.3,55.61 60.3,50.75 63.04,50.75 63.04,46.25 65.78,46.25 65.78,40.36 68.52,40.36 68.52,34.01 71.26,34.01 71.26,28.83 74,28.83 74,26.14 76.74,26.14 76.74,23.1 79.48,23.1 79.48,18.35 82.22,18.35 82.22,13.47 84.96,13.47 84.96,10.59 87.7,10.59 87.7,8.67 90.44,8.67 90.44,6.05 93.18,6.05 93.18,3.37 95.92,3.37 95.92,1.02 98.66,1.02 98.66,1 101.4,1 101.4,4.24 104.14,4.24 104.14,10.87 106.88,10.87 106.88,16.27 109.62,16.27 109.62,22.94 112.36,22.94 112.36,28.64 115.1,28.64 115.1,32.8 117.84,32.8 117.84,39.2 120.58,39.2 120.58,44.87 123.32,44.87 123.32,48.42 126.06,48.42 126.06,50.84 128.8,50.84 128.8,52.48 131.54,52.48 131.54,53.3 134.28,53.3 134.28,53.84 137.02,53.84 137.02,54.08 139.76,54.08 139.76,54.18 142.5,54.18 142.5,54.31 145.24,54.31 145.24,54.59 147.98,54.59 147.98,54.97 150.72,54.97 150.72,55.43 153.46,55.43 153.46,55.37 156.2,55.37 156.2,54.6 158.94,54.6 158.94,55.32 161.68,55.32 161.68,56.52 164.42,56.52 164.42,57.55 167.16,57.55 167.16,58.55 169.9,58.55 169.9,59.35 172.64,59.35 172.64,60.04 175.38,60.04 175.38,60.61 178.12,60.61 178.12,61.01 180.86,61.01 180.86,61.35 183.6,61.35 183.6,61.5 186.34,61.5 186.34,61.5 189.08,61.5 189.08,61.5 191.82,61.5 191.82,61.5 194.56,61.5 194.56,61.5 197.3,61.5 197.3,61.5 200.04,61.5 200.04,61.5 202.78,61.5 202.78,61.5 205.52,61.5 205.52,61.5 208.26,61.5 208.26,61.5 211,61.5 211,61.5 213.74,61.5 213.74,61.5 216.48,61.5 216.48,61.5 219.22,61.5 219.22,61.5 221.96,61.5 221.96,61.5 224.7,61.5 224.7,61.5 227.44,61.5 227.44,61.5 230.18,61.5 230.18,61.5 232.92,61.5 232.92,61.5 235.66,61.5 235.66,61.5 238.4,61.5 238.4,61.5 241.14,61.5 241.14,61.5 243.88,61.5 243.88,61.5 246.62,61.5 246.62,61.5 249.36,61.5 249.36,61.5 252.1,61.5 252.1,61.5 254.84,61.5 254.84,61.5 257.58,61.5 257.58,61.5 260.32,61.5 260.32,61.5 263.06,61.5 263.06,61.5 265.8,61.5 265.8,61.5 268.54,61.5 268.54,61.5 271.28,61.5 271.28,61.5 274.02,61.5 274.02,61.5 276.76,61.5 276.76,61.5 279.5,61.5 279.5,61.5 282.24,61.5 282.24,61.5 284.98,61.5 284.98,61.5 287.72,61.5 287.72,61.5 290.46,61.5 290.46,61.5 293.2,61.5 293.2,61.5 295.94,61.5 295.94,61.5Z" fill="#1f78b4" fill-opacity="0.2" stroke="none"/>
<path clip-path="url(#cAt)" d="M46.6,61.5 46.6,61.5 49.34,61.5 49.34,61.5 52.08,61.5 52.08,61.48 54.82,61.48 54.82,61.44 57.56,61.44 57.56,61.34 60.3,61.34 60.3,60.72 63.04,60.72 63.04,59.66 65.78,59.66 65.78,58.44 68.52,58.44 68.52,57.2 71.26,57.2 71.26,55.71 74,55.71 74,53.91 76.74,53.91 76.74,51.62 79.48,51.62 79.48,48.61 82.22,48.61 82.22,45.22 84.96,45.22 84.96,41.29 87.7,41.29 87.7,37.41 90.44,37.41 90.44,33.76 93.18,33.76 93.18,29.81 95.92,29.81 95.92,24.86 98.66,24.86 98.66,20.74 101.4,20.74 101.4,18.3 104.14,18.3 104.14,19.6 106.88,19.6 106.88,23.77 109.62,23.77 109.62,29.98 112.36,29.98 112.36,35.66 115.1,35.66 115.1,40.9 117.84,40.9 117.84,45.6 120.58,45.6 120.58,49.2 123.32,49.2 123.32,51.94 126.06,51.94 126.06,53.78 128.8,53.78 128.8,54.88 131.54,54.88 131.54,54.9 134.28,54.9 134.28,54.9 137.02,54.9 137.02,54.76 139.76,54.76 139.76,53.84 142.5,53.84 142.5,52.78 145.24,52.78 145.24,52.22 147.98,52.22 147.98,51.77 150.72,51.77 150.72,51.44 153.46,51.44 153.46,51.3 156.2,51.3 156.2,51.35 158.94,51.35 158.94,51.46 161.68,51.46 161.68,51.57 164.42,51.57 164.42,51.56 167.16,51.56 167.16,50.9 169.9,50.9 169.9,49.81 172.64,49.81 172.64,48.49 175.38,48.49 175.38,46.65 178.12,46.65 178.12,44.44 180.86,44.44 180.86,41.75 183.6,41.75 183.6,38.45 186.34,38.45 186.34,35.16 189.08,35.16 189.08,31.72 191.82,31.72 191.82,28.84 194.56,28.84 194.56,26.37 197.3,26.37 197.3,24.85 200.04,24.85 200.04,25.39 202.78,25.39 202.78,27.11 205.52,27.11 205.52,30.39 208.26,30.39 208.26,35.3 211,35.3 211,42.54 213.74,42.54 213.74,48.24 216.48,48.24 216.48,52.79 219.22,52.79 219.22,56.3 221.96,56.3 221.96,58.71 224.7,58.71 224.7,60.34 227.44,60.34 227.44,61.26 230.18,61.26 230.18,61.42 232.92,61.42 232.92,61.5 235.66,61.5 235.66,61.5 238.4,61.5 238.4,61.5 241.14,61.5 241.14,61.5 243.88,61.5 243.88,61.5 246.62,61.5 246.62,61.5 249.36,61.5 249.36,61.5 252.1,61.5 252.1,61.5 254.84,61.5 254.84,61.5 257.58,61.5 257.58,61.5 260.32,61.5 260.32,61.5 263.06,61.5 263.06,61.5 265.8,61.5 265.8,61.5 268.54,61.5 268.54,61.5 271.28,61.5 271.28,61.5 274.02,61.5 274.02,61.5 276.76,61.5 276.76,61.5 279.5,61.5 279.5,61.5 282.24,61.5 282.24,61.5 284.98,61.5 284.98,61.5 287.72,61.5 287.72,61.5 290.46,61.5 290.46,61.5 293.2,61.5 293.2,61.5 295.94,61.5 295.94,61.5" fill="none" stroke="#e31a1c" stroke-width="2.0" stroke-linejoin="miter"/>
<path clip-path="url(#cAt)" d="M46.6,61.5 46.6,61.5 49.34,61.5 49.34,61.5 52.08,61.5 52.08,61.32 54.82,61.32 54.82,59.55 57.56,59.55 57.56,56.8 60.3,56.8 60.3,52.05 63.04,52.05 63.04,47.53 65.78,47.53 65.78,41.95 68.52,41.95 68.52,35.5 71.26,35.5 71.26,29.99 74,29.99 74,27.08 76.74,27.08 76.74,24.29 79.48,24.29 79.48,19.65 82.22,19.65 82.22,14.74 84.96,14.74 84.96,11.49 87.7,11.49 87.7,9.58 90.44,9.58 90.44,7.07 93.18,7.07 93.18,4.33 95.92,4.33 95.92,1.76 98.66,1.76 98.66,1.6 101.4,1.6 101.4,3.71 104.14,3.71 104.14,10.68 106.88,10.68 106.88,16.05 109.62,16.05 109.62,22.47 112.36,22.47 112.36,28.6 115.1,28.6 115.1,32.75 117.84,32.75 117.84,38.67 120.58,38.67 120.58,44.84 123.32,44.84 123.32,48.58 126.06,48.58 126.06,51.12 128.8,51.12 128.8,52.91 131.54,52.91 131.54,53.8 134.28,53.8 134.28,54.38 137.02,54.38 137.02,54.66 139.76,54.66 139.76,54.77 142.5,54.77 142.5,54.89 145.24,54.89 145.24,55.14 147.98,55.14 147.98,55.51 150.72,55.51 150.72,55.95 153.46,55.95 153.46,56.09 156.2,56.09 156.2,55.23 158.94,55.23 158.94,55.75 161.68,55.75 161.68,56.97 164.42,56.97 164.42,57.99 167.16,57.99 167.16,59.01 169.9,59.01 169.9,59.85 172.64,59.85 172.64,60.65 175.38,60.65 175.38,61.25 178.12,61.25 178.12,61.43 180.86,61.43 180.86,61.48 183.6,61.48 183.6,61.5 186.34,61.5 186.34,61.5 189.08,61.5 189.08,61.5 191.82,61.5 191.82,61.5 194.56,61.5 194.56,61.5 197.3,61.5 197.3,61.5 200.04,61.5 200.04,61.5 202.78,61.5 202.78,61.5 205.52,61.5 205.52,61.5 208.26,61.5 208.26,61.5 211,61.5 211,61.5 213.74,61.5 213.74,61.5 216.48,61.5 216.48,61.5 219.22,61.5 219.22,61.5 221.96,61.5 221.96,61.5 224.7,61.5 224.7,61.5 227.44,61.5 227.44,61.5 230.18,61.5 230.18,61.5 232.92,61.5 232.92,61.5 235.66,61.5 235.66,61.5 238.4,61.5 238.4,61.5 241.14,61.5 241.14,61.5 243.88,61.5 243.88,61.5 246.62,61.5 246.62,61.5 249.36,61.5 249.36,61.5 252.1,61.5 252.1,61.5 254.84,61.5 254.84,61.5 257.58,61.5 257.58,61.5 260.32,61.5 260.32,61.5 263.06,61.5 263.06,61.5 265.8,61.5 265.8,61.5 268.54,61.5 268.54,61.5 271.28,61.5 271.28,61.5 274.02,61.5 274.02,61.5 276.76,61.5 276.76,61.5 279.5,61.5 279.5,61.5 282.24,61.5 282.24,61.5 284.98,61.5 284.98,61.5 287.72,61.5 287.72,61.5 290.46,61.5 290.46,61.5 293.2,61.5 293.2,61.5 295.94,61.5 295.94,61.5" fill="none" stroke="#fdae61" stroke-width="1.7" stroke-linejoin="miter"/>
<path clip-path="url(#cAt)" d="M46.6,61.5 46.6,61.5 49.34,61.5 49.34,61.5 52.08,61.5 52.08,60.8 54.82,60.8 54.82,58.39 57.56,58.39 57.56,54.94 60.3,54.94 60.3,50.06 63.04,50.06 63.04,45.46 65.78,45.46 65.78,39.18 68.52,39.18 68.52,32.99 71.26,32.99 71.26,28.41 74,28.41 74,25.92 76.74,25.92 76.74,22.43 79.48,22.43 79.48,17.62 82.22,17.62 82.22,12.89 84.96,12.89 84.96,10.47 87.7,10.47 87.7,8.46 90.44,8.46 90.44,5.73 93.18,5.73 93.18,3.04 95.92,3.04 95.92,1.3 98.66,1.3 98.66,1.3 101.4,1.3 101.4,6.33 104.14,6.33 104.14,12.34 106.88,12.34 106.88,17.85 109.62,17.85 109.62,24.77 112.36,24.77 112.36,29.86 115.1,29.86 115.1,34.16 117.84,34.16 117.84,41.13 120.58,41.13 120.58,46.06 123.32,46.06 123.32,49.31 126.06,49.31 126.06,51.58 128.8,51.58 128.8,52.99 131.54,52.99 131.54,53.75 134.28,53.75 134.28,54.22 137.02,54.22 137.02,54.41 139.76,54.41 139.76,54.5 142.5,54.5 142.5,54.66 145.24,54.66 145.24,54.97 147.98,54.97 147.98,55.35 150.72,55.35 150.72,55.83 153.46,55.83 153.46,55.46 156.2,55.46 156.2,54.94 158.94,54.94 158.94,55.89 161.68,55.89 161.68,57.04 164.42,57.04 164.42,58.08 167.16,58.08 167.16,59.04 169.9,59.04 169.9,59.82 172.64,59.82 172.64,60.53 175.38,60.53 175.38,61.03 178.12,61.03 178.12,61.28 180.86,61.28 180.86,61.45 183.6,61.45 183.6,61.5 186.34,61.5 186.34,61.5 189.08,61.5 189.08,61.5 191.82,61.5 191.82,61.5 194.56,61.5 194.56,61.5 197.3,61.5 197.3,61.5 200.04,61.5 200.04,61.5 202.78,61.5 202.78,61.5 205.52,61.5 205.52,61.5 208.26,61.5 208.26,61.5 211,61.5 211,61.5 213.74,61.5 213.74,61.5 216.48,61.5 216.48,61.5 219.22,61.5 219.22,61.5 221.96,61.5 221.96,61.5 224.7,61.5 224.7,61.5 227.44,61.5 227.44,61.5 230.18,61.5 230.18,61.5 232.92,61.5 232.92,61.5 235.66,61.5 235.66,61.5 238.4,61.5 238.4,61.5 241.14,61.5 241.14,61.5 243.88,61.5 243.88,61.5 246.62,61.5 246.62,61.5 249.36,61.5 249.36,61.5 252.1,61.5 252.1,61.5 254.84,61.5 254.84,61.5 257.58,61.5 257.58,61.5 260.32,61.5 260.32,61.5 263.06,61.5 263.06,61.5 265.8,61.5 265.8,61.5 268.54,61.5 268.54,61.5 271.28,61.5 271.28,61.5 274.02,61.5 274.02,61.5 276.76,61.5 276.76,61.5 279.5,61.5 279.5,61.5 282.24,61.5 282.24,61.5 284.98,61.5 284.98,61.5 287.72,61.5 287.72,61.5 290.46,61.5 290.46,61.5 293.2,61.5 293.2,61.5 295.94,61.5 295.94,61.5" fill="none" stroke="#a6cee3" stroke-width="1.7" stroke-linejoin="miter"/>
<path clip-path="url(#cAt)" d="M46.6,61.5 46.6,61.5 49.34,61.5 49.34,61.47 52.08,61.47 52.08,60.79 54.82,60.79 54.82,58.67 57.56,58.67 57.56,55.61 60.3,55.61 60.3,50.75 63.04,50.75 63.04,46.25 65.78,46.25 65.78,40.36 68.52,40.36 68.52,34.01 71.26,34.01 71.26,28.83 74,28.83 74,26.14 76.74,26.14 76.74,23.1 79.48,23.1 79.48,18.35 82.22,18.35 82.22,13.47 84.96,13.47 84.96,10.59 87.7,10.59 87.7,8.67 90.44,8.67 90.44,6.05 93.18,6.05 93.18,3.37 95.92,3.37 95.92,1.02 98.66,1.02 98.66,1 101.4,1 101.4,4.24 104.14,4.24 104.14,10.87 106.88,10.87 106.88,16.27 109.62,16.27 109.62,22.94 112.36,22.94 112.36,28.64 115.1,28.64 115.1,32.8 117.84,32.8 117.84,39.2 120.58,39.2 120.58,44.87 123.32,44.87 123.32,48.42 126.06,48.42 126.06,50.84 128.8,50.84 128.8,52.48 131.54,52.48 131.54,53.3 134.28,53.3 134.28,53.84 137.02,53.84 137.02,54.08 139.76,54.08 139.76,54.18 142.5,54.18 142.5,54.31 145.24,54.31 145.24,54.59 147.98,54.59 147.98,54.97 150.72,54.97 150.72,55.43 153.46,55.43 153.46,55.37 156.2,55.37 156.2,54.6 158.94,54.6 158.94,55.32 161.68,55.32 161.68,56.52 164.42,56.52 164.42,57.55 167.16,57.55 167.16,58.55 169.9,58.55 169.9,59.35 172.64,59.35 172.64,60.04 175.38,60.04 175.38,60.61 178.12,60.61 178.12,61.01 180.86,61.01 180.86,61.35 183.6,61.35 183.6,61.5 186.34,61.5 186.34,61.5 189.08,61.5 189.08,61.5 191.82,61.5 191.82,61.5 194.56,61.5 194.56,61.5 197.3,61.5 197.3,61.5 200.04,61.5 200.04,61.5 202.78,61.5 202.78,61.5 205.52,61.5 205.52,61.5 208.26,61.5 208.26,61.5 211,61.5 211,61.5 213.74,61.5 213.74,61.5 216.48,61.5 216.48,61.5 219.22,61.5 219.22,61.5 221.96,61.5 221.96,61.5 224.7,61.5 224.7,61.5 227.44,61.5 227.44,61.5 230.18,61.5 230.18,61.5 232.92,61.5 232.92,61.5 235.66,61.5 235.66,61.5 238.4,61.5 238.4,61.5 241.14,61.5 241.14,61.5 243.88,61.5 243.88,61.5 246.62,61.5 246.62,61.5 249.36,61.5 249.36,61.5 252.1,61.5 252.1,61.5 254.84,61.5 254.84,61.5 257.58,61.5 257.58,61.5 260.32,61.5 260.32,61.5 263.06,61.5 263.06,61.5 265.8,61.5 265.8,61.5 268.54,61.5 268.54,61.5 271.28,61.5 271.28,61.5 274.02,61.5 274.02,61.5 276.76,61.5 276.76,61.5 279.5,61.5 279.5,61.5 282.24,61.5 282.24,61.5 284.98,61.5 284.98,61.5 287.72,61.5 287.72,61.5 290.46,61.5 290.46,61.5 293.2,61.5 293.2,61.5 295.94,61.5 295.94,61.5" fill="none" stroke="#1f78b4" stroke-width="2.0" stroke-linejoin="miter"/>
<line x1="82.8" y1="1.9" x2="82.8" y2="61.5" stroke="#e31a1c" stroke-width="1.0" stroke-dasharray="3.2,1.3"/>
<line x1="209.7" y1="1.9" x2="209.7" y2="61.5" stroke="#e31a1c" stroke-width="1.0" stroke-dasharray="3.2,1.3"/>
<line x1="68.6" y1="1.9" x2="68.6" y2="61.5" stroke="#fdae61" stroke-width="1.0" stroke-dasharray="3.2,1.3"/>
<line x1="153.7" y1="1.9" x2="153.7" y2="61.5" stroke="#fdae61" stroke-width="1.0" stroke-dasharray="3.2,1.3"/>
<line x1="68.4" y1="1.9" x2="68.4" y2="61.5" stroke="#a6cee3" stroke-width="1.0" stroke-dasharray="3.2,1.3"/>
<line x1="149.9" y1="1.9" x2="149.9" y2="61.5" stroke="#a6cee3" stroke-width="1.0" stroke-dasharray="3.2,1.3"/>
<line x1="68.6" y1="1.9" x2="68.6" y2="61.5" stroke="#1f78b4" stroke-width="1.0" stroke-dasharray="3.2,1.3"/>
<line x1="153.9" y1="1.9" x2="153.9" y2="61.5" stroke="#1f78b4" stroke-width="1.0" stroke-dasharray="3.2,1.3"/>
<path clip-path="url(#cAr)" d="M293.4,61.3 293.4,61.3 293.4,63.85 293.4,63.85 293.4,66.4 293.4,66.4 293.4,68.95 293.4,68.95 293.4,71.5 293.4,71.5 293.4,74.05 293.4,74.05 293.4,76.6 293.4,76.6 293.4,79.15 293.4,79.15 293.4,81.7 293.4,81.7 293.4,84.25 293.4,84.25 293.4,86.8 293.4,86.8 293.4,89.35 293.4,89.35 293.4,91.9 293.4,91.9 293.4,94.45 293.4,94.45 293.4,97 293.41,97 293.41,99.55 293.41,99.55 293.41,102.1 293.41,102.1 293.41,104.65 293.41,104.65 293.41,107.2 293.41,107.2 293.41,109.75 293.41,109.75 293.41,112.3 293.41,112.3 293.41,114.85 293.42,114.85 293.42,117.4 293.42,117.4 293.42,119.95 293.42,119.95 293.42,122.5 293.42,122.5 293.42,125.05 293.42,125.05 293.42,127.6 293.43,127.6 293.43,130.15 293.43,130.15 293.43,132.7 293.43,132.7 293.43,135.25 293.44,135.25 293.44,137.8 293.44,137.8 293.44,140.35 293.44,140.35 293.44,142.9 293.45,142.9 293.45,145.45 293.45,145.45 293.45,148 293.46,148 293.46,150.55 293.46,150.55 293.46,153.1 293.47,153.1 293.47,155.65 293.47,155.65 293.47,158.2 293.48,158.2 293.48,160.75 293.48,160.75 293.48,163.3 293.49,163.3 293.49,165.85 293.49,165.85 293.49,168.4 293.5,168.4 293.5,170.95 293.63,170.95 293.63,173.5 294.04,173.5 294.04,176.05 294.63,176.05 294.63,178.6 295.27,178.6 295.27,181.15 296.09,181.15 296.09,183.7 297.17,183.7 297.17,186.25 298.29,186.25 298.29,188.8 299.28,188.8 299.28,191.35 300.22,191.35 300.22,193.9 301.14,193.9 301.14,196.45 302.03,196.45 302.03,199 302.87,199 302.87,201.55 303.73,201.55 303.73,204.1 304.69,204.1 304.69,206.65 305.6,206.65 305.6,209.2 306.29,209.2 306.29,211.75 306.6,211.75 306.6,214.3 306.44,214.3 306.44,216.85 305.95,216.85 305.95,219.4 305.27,219.4 305.27,221.95 304.5,221.95 304.5,224.5 303.39,224.5 303.39,227.05 302,227.05 302,229.6 300.45,229.6 300.45,232.15 298.4,232.15 298.4,234.7 296.82,234.7 296.82,237.25 295.81,237.25 295.81,239.8 295.16,239.8 295.16,242.35 294.72,242.35 294.72,244.9 294.54,244.9 294.54,247.45 294.45,247.45 294.45,250 294.4,250 294.4,252.55 294.53,252.55 294.53,255.1 295.05,255.1 295.05,257.65 295.9,257.65 295.9,260.2 297.78,260.2 297.78,262.75 299.79,262.75 299.79,265.3 301.65,265.3 301.65,267.85 302.09,267.85 302.09,270.4 301.32,270.4 301.32,272.95 299.78,272.95 299.78,275.5 297.19,275.5 297.19,278.05 297.23,278.05 297.23,280.6 319,280.6 319,283.15 352.6,283.15 352.6,285.7 350,285.7 350,288.25 314.4,288.25 314.4,290.8 296.4,290.8 296.4,293.35 294.6,293.35 294.6,295.9 293.4,295.9 293.4,298.45 293.4,298.45 293.4,301 293.4,301 293.4,303.55 293.4,303.55Z" fill="#e31a1c" fill-opacity="0.2" stroke="none"/>
<path clip-path="url(#cAr)" d="M293.4,61.3 293.4,61.3 293.4,63.85 293.4,63.85 293.4,66.4 293.4,66.4 293.4,68.95 293.4,68.95 293.4,71.5 293.4,71.5 293.4,74.05 293.4,74.05 293.4,76.6 293.4,76.6 293.4,79.15 293.41,79.15 293.41,81.7 293.41,81.7 293.41,84.25 293.41,84.25 293.41,86.8 293.41,86.8 293.41,89.35 293.41,89.35 293.41,91.9 293.42,91.9 293.42,94.45 293.42,94.45 293.42,97 293.42,97 293.42,99.55 293.43,99.55 293.43,102.1 293.43,102.1 293.43,104.65 293.44,104.65 293.44,107.2 293.44,107.2 293.44,109.75 293.45,109.75 293.45,112.3 293.45,112.3 293.45,114.85 293.46,114.85 293.46,117.4 293.47,117.4 293.47,119.95 293.48,119.95 293.48,122.5 293.48,122.5 293.48,125.05 293.49,125.05 293.49,127.6 293.5,127.6 293.5,130.15 293.51,130.15 293.51,132.7 293.52,132.7 293.52,135.25 293.53,135.25 293.53,137.8 293.54,137.8 293.54,140.35 293.56,140.35 293.56,142.9 293.57,142.9 293.57,145.45 293.58,145.45 293.58,148 293.6,148 293.6,150.55 293.64,150.55 293.64,153.1 293.76,153.1 293.76,155.65 293.97,155.65 293.97,158.2 294.24,158.2 294.24,160.75 294.55,160.75 294.55,163.3 294.9,163.3 294.9,165.85 295.28,165.85 295.28,168.4 295.82,168.4 295.82,170.95 296.52,170.95 296.52,173.5 297.38,173.5 297.38,176.05 298.58,176.05 298.58,178.6 300.12,178.6 300.12,181.15 302.39,181.15 302.39,183.7 305.28,183.7 305.28,186.25 307.82,186.25 307.82,188.8 309.6,188.8 309.6,191.35 311.16,191.35 311.16,193.9 312.47,193.9 312.47,196.45 313.48,196.45 313.48,199 314.37,199 314.37,201.55 315.17,201.55 315.17,204.1 315.76,204.1 315.76,206.65 316,206.65 316,209.2 315.91,209.2 315.91,211.75 315.67,211.75 315.67,214.3 315.31,214.3 315.31,216.85 314.76,216.85 314.76,219.4 313.58,219.4 313.58,221.95 311.99,221.95 311.99,224.5 309.87,224.5 309.87,227.05 307.1,227.05 307.1,229.6 304.44,229.6 304.44,232.15 301.85,232.15 301.85,234.7 299.76,234.7 299.76,237.25 298.44,237.25 298.44,239.8 297.79,239.8 297.79,242.35 297.43,242.35 297.43,244.9 297.27,244.9 297.27,247.45 297.16,247.45 297.16,250 297.1,250 297.1,252.55 297.28,252.55 297.28,255.1 297.91,255.1 297.91,257.65 298.65,257.65 298.65,260.2 299.08,260.2 299.08,262.75 298.92,262.75 298.92,265.3 298.33,265.3 298.33,267.85 297.51,267.85 297.51,270.4 296.69,270.4 296.69,272.95 295.93,272.95 295.93,275.5 294.97,275.5 294.97,278.05 294.13,278.05 294.13,280.6 293.74,280.6 293.74,283.15 293.52,283.15 293.52,285.7 293.47,285.7 293.47,288.25 293.45,288.25 293.45,290.8 293.43,290.8 293.43,293.35 293.41,293.35 293.41,295.9 293.4,295.9 293.4,298.45 293.4,298.45 293.4,301 293.4,301 293.4,303.55 293.4,303.55Z" fill="#fdae61" fill-opacity="0.2" stroke="none"/>
<path clip-path="url(#cAr)" d="M293.4,61.3 293.4,61.3 293.4,63.85 293.4,63.85 293.4,66.4 293.4,66.4 293.4,68.95 293.4,68.95 293.4,71.5 293.4,71.5 293.4,74.05 293.4,74.05 293.4,76.6 293.4,76.6 293.4,79.15 293.41,79.15 293.41,81.7 293.41,81.7 293.41,84.25 293.41,84.25 293.41,86.8 293.41,86.8 293.41,89.35 293.42,89.35 293.42,91.9 293.42,91.9 293.42,94.45 293.42,94.45 293.42,97 293.43,97 293.43,99.55 293.43,99.55 293.43,102.1 293.44,102.1 293.44,104.65 293.44,104.65 293.44,107.2 293.45,107.2 293.45,109.75 293.45,109.75 293.45,112.3 293.46,112.3 293.46,114.85 293.46,114.85 293.46,117.4 293.47,117.4 293.47,119.95 293.48,119.95 293.48,122.5 293.49,122.5 293.49,125.05 293.5,125.05 293.5,127.6 293.51,127.6 293.51,130.15 293.51,130.15 293.51,132.7 293.52,132.7 293.52,135.25 293.54,135.25 293.54,137.8 293.55,137.8 293.55,140.35 293.56,140.35 293.56,142.9 293.57,142.9 293.57,145.45 293.58,145.45 293.58,148 293.6,148 293.6,150.55 293.62,150.55 293.62,153.1 293.66,153.1 293.66,155.65 293.73,155.65 293.73,158.2 293.83,158.2 293.83,160.75 293.95,160.75 293.95,163.3 294.1,163.3 294.1,165.85 294.32,165.85 294.32,168.4 294.84,168.4 294.84,170.95 295.6,170.95 295.6,173.5 296.48,173.5 296.48,176.05 297.68,176.05 297.68,178.6 299.22,178.6 299.22,181.15 301.49,181.15 301.49,183.7 304.38,183.7 304.38,186.25 306.92,186.25 306.92,188.8 308.7,188.8 308.7,191.35 310.26,191.35 310.26,193.9 311.57,193.9 311.57,196.45 312.58,196.45 312.58,199 313.47,199 313.47,201.55 314.27,201.55 314.27,204.1 314.86,204.1 314.86,206.65 315.1,206.65 315.1,209.2 315.01,209.2 315.01,211.75 314.77,211.75 314.77,214.3 314.41,214.3 314.41,216.85 313.86,216.85 313.86,219.4 312.68,219.4 312.68,221.95 311.09,221.95 311.09,224.5 308.97,224.5 308.97,227.05 306.2,227.05 306.2,229.6 303.54,229.6 303.54,232.15 300.95,232.15 300.95,234.7 298.86,234.7 298.86,237.25 297.54,237.25 297.54,239.8 296.89,239.8 296.89,242.35 296.53,242.35 296.53,244.9 296.37,244.9 296.37,247.45 296.26,247.45 296.26,250 296.2,250 296.2,252.55 296.2,252.55 296.2,255.1 296.2,255.1 296.2,257.65 296.2,257.65 296.2,260.2 296.2,260.2 296.2,262.75 296.18,262.75 296.18,265.3 296.1,265.3 296.1,267.85 295.95,267.85 295.95,270.4 295.73,270.4 295.73,272.95 295.05,272.95 295.05,275.5 294.51,275.5 294.51,278.05 294.09,278.05 294.09,280.6 293.75,280.6 293.75,283.15 293.52,283.15 293.52,285.7 293.47,285.7 293.47,288.25 293.45,288.25 293.45,290.8 293.43,290.8 293.43,293.35 293.41,293.35 293.41,295.9 293.4,295.9 293.4,298.45 293.4,298.45 293.4,301 293.4,301 293.4,303.55 293.4,303.55Z" fill="#a6cee3" fill-opacity="0.2" stroke="none"/>
<path clip-path="url(#cAr)" d="M293.4,61.3 293.4,61.3 293.4,63.85 293.4,63.85 293.4,66.4 293.4,66.4 293.4,68.95 293.4,68.95 293.4,71.5 293.4,71.5 293.4,74.05 293.4,74.05 293.4,76.6 293.4,76.6 293.4,79.15 293.41,79.15 293.41,81.7 293.41,81.7 293.41,84.25 293.41,84.25 293.41,86.8 293.41,86.8 293.41,89.35 293.41,89.35 293.41,91.9 293.42,91.9 293.42,94.45 293.42,94.45 293.42,97 293.43,97 293.43,99.55 293.43,99.55 293.43,102.1 293.43,102.1 293.43,104.65 293.44,104.65 293.44,107.2 293.44,107.2 293.44,109.75 293.45,109.75 293.45,112.3 293.46,112.3 293.46,114.85 293.46,114.85 293.46,117.4 293.47,117.4 293.47,119.95 293.48,119.95 293.48,122.5 293.49,122.5 293.49,125.05 293.49,125.05 293.49,127.6 293.5,127.6 293.5,130.15 293.51,130.15 293.51,132.7 293.52,132.7 293.52,135.25 293.53,135.25 293.53,137.8 293.55,137.8 293.55,140.35 293.56,140.35 293.56,142.9 293.57,142.9 293.57,145.45 293.58,145.45 293.58,148 293.6,148 293.6,150.55 293.62,150.55 293.62,153.1 293.69,153.1 293.69,155.65 293.8,155.65 293.8,158.2 293.96,158.2 293.96,160.75 294.14,160.75 294.14,163.3 294.36,163.3 294.36,165.85 294.64,165.85 294.64,168.4 295.17,168.4 295.17,170.95 295.91,170.95 295.91,173.5 296.78,173.5 296.78,176.05 297.98,176.05 297.98,178.6 299.52,178.6 299.52,181.15 301.79,181.15 301.79,183.7 304.68,183.7 304.68,186.25 307.22,186.25 307.22,188.8 309,188.8 309,191.35 310.56,191.35 310.56,193.9 311.87,193.9 311.87,196.45 312.88,196.45 312.88,199 313.77,199 313.77,201.55 314.57,201.55 314.57,204.1 315.16,204.1 315.16,206.65 315.4,206.65 315.4,209.2 315.31,209.2 315.31,211.75 315.07,211.75 315.07,214.3 314.71,214.3 314.71,216.85 314.16,216.85 314.16,219.4 312.98,219.4 312.98,221.95 311.39,221.95 311.39,224.5 309.27,224.5 309.27,227.05 306.5,227.05 306.5,229.6 303.84,229.6 303.84,232.15 301.25,232.15 301.25,234.7 299.16,234.7 299.16,237.25 297.84,237.25 297.84,239.8 297.19,239.8 297.19,242.35 296.83,242.35 296.83,244.9 296.67,244.9 296.67,247.45 296.56,247.45 296.56,250 296.5,250 296.5,252.55 296.5,252.55 296.5,255.1 296.5,255.1 296.5,257.65 296.5,257.65 296.5,260.2 296.5,260.2 296.5,262.75 296.48,262.75 296.48,265.3 296.4,265.3 296.4,267.85 296.25,267.85 296.25,270.4 296.03,270.4 296.03,272.95 295.34,272.95 295.34,275.5 294.66,275.5 294.66,278.05 294.1,278.05 294.1,280.6 293.75,280.6 293.75,283.15 293.52,283.15 293.52,285.7 293.47,285.7 293.47,288.25 293.45,288.25 293.45,290.8 293.43,290.8 293.43,293.35 293.41,293.35 293.41,295.9 293.4,295.9 293.4,298.45 293.4,298.45 293.4,301 293.4,301 293.4,303.55 293.4,303.55Z" fill="#1f78b4" fill-opacity="0.2" stroke="none"/>
<path clip-path="url(#cAr)" d="M293.4,61.3 293.4,61.3 293.4,63.85 293.4,63.85 293.4,66.4 293.4,66.4 293.4,68.95 293.4,68.95 293.4,71.5 293.4,71.5 293.4,74.05 293.4,74.05 293.4,76.6 293.4,76.6 293.4,79.15 293.4,79.15 293.4,81.7 293.4,81.7 293.4,84.25 293.4,84.25 293.4,86.8 293.4,86.8 293.4,89.35 293.4,89.35 293.4,91.9 293.4,91.9 293.4,94.45 293.4,94.45 293.4,97 293.41,97 293.41,99.55 293.41,99.55 293.41,102.1 293.41,102.1 293.41,104.65 293.41,104.65 293.41,107.2 293.41,107.2 293.41,109.75 293.41,109.75 293.41,112.3 293.41,112.3 293.41,114.85 293.42,114.85 293.42,117.4 293.42,117.4 293.42,119.95 293.42,119.95 293.42,122.5 293.42,122.5 293.42,125.05 293.42,125.05 293.42,127.6 293.43,127.6 293.43,130.15 293.43,130.15 293.43,132.7 293.43,132.7 293.43,135.25 293.44,135.25 293.44,137.8 293.44,137.8 293.44,140.35 293.44,140.35 293.44,142.9 293.45,142.9 293.45,145.45 293.45,145.45 293.45,148 293.46,148 293.46,150.55 293.46,150.55 293.46,153.1 293.47,153.1 293.47,155.65 293.47,155.65 293.47,158.2 293.48,158.2 293.48,160.75 293.48,160.75 293.48,163.3 293.49,163.3 293.49,165.85 293.49,165.85 293.49,168.4 293.5,168.4 293.5,170.95 293.63,170.95 293.63,173.5 294.04,173.5 294.04,176.05 294.63,176.05 294.63,178.6 295.27,178.6 295.27,181.15 296.09,181.15 296.09,183.7 297.17,183.7 297.17,186.25 298.29,186.25 298.29,188.8 299.28,188.8 299.28,191.35 300.22,191.35 300.22,193.9 301.14,193.9 301.14,196.45 302.03,196.45 302.03,199 302.87,199 302.87,201.55 303.73,201.55 303.73,204.1 304.69,204.1 304.69,206.65 305.6,206.65 305.6,209.2 306.29,209.2 306.29,211.75 306.6,211.75 306.6,214.3 306.44,214.3 306.44,216.85 305.95,216.85 305.95,219.4 305.27,219.4 305.27,221.95 304.5,221.95 304.5,224.5 303.39,224.5 303.39,227.05 302,227.05 302,229.6 300.45,229.6 300.45,232.15 298.4,232.15 298.4,234.7 296.82,234.7 296.82,237.25 295.81,237.25 295.81,239.8 295.16,239.8 295.16,242.35 294.72,242.35 294.72,244.9 294.54,244.9 294.54,247.45 294.45,247.45 294.45,250 294.4,250 294.4,252.55 294.53,252.55 294.53,255.1 295.05,255.1 295.05,257.65 295.9,257.65 295.9,260.2 297.78,260.2 297.78,262.75 299.79,262.75 299.79,265.3 301.65,265.3 301.65,267.85 302.09,267.85 302.09,270.4 301.32,270.4 301.32,272.95 299.78,272.95 299.78,275.5 297.19,275.5 297.19,278.05 297.23,278.05 297.23,280.6 319,280.6 319,283.15 352.6,283.15 352.6,285.7 350,285.7 350,288.25 314.4,288.25 314.4,290.8 296.4,290.8 296.4,293.35 294.6,293.35 294.6,295.9 293.4,295.9 293.4,298.45 293.4,298.45 293.4,301 293.4,301 293.4,303.55 293.4,303.55" fill="none" stroke="#e31a1c" stroke-width="2.0" stroke-linejoin="miter"/>
<path clip-path="url(#cAr)" d="M293.4,61.3 293.4,61.3 293.4,63.85 293.4,63.85 293.4,66.4 293.4,66.4 293.4,68.95 293.4,68.95 293.4,71.5 293.4,71.5 293.4,74.05 293.4,74.05 293.4,76.6 293.4,76.6 293.4,79.15 293.41,79.15 293.41,81.7 293.41,81.7 293.41,84.25 293.41,84.25 293.41,86.8 293.41,86.8 293.41,89.35 293.41,89.35 293.41,91.9 293.42,91.9 293.42,94.45 293.42,94.45 293.42,97 293.42,97 293.42,99.55 293.43,99.55 293.43,102.1 293.43,102.1 293.43,104.65 293.44,104.65 293.44,107.2 293.44,107.2 293.44,109.75 293.45,109.75 293.45,112.3 293.45,112.3 293.45,114.85 293.46,114.85 293.46,117.4 293.47,117.4 293.47,119.95 293.48,119.95 293.48,122.5 293.48,122.5 293.48,125.05 293.49,125.05 293.49,127.6 293.5,127.6 293.5,130.15 293.51,130.15 293.51,132.7 293.52,132.7 293.52,135.25 293.53,135.25 293.53,137.8 293.54,137.8 293.54,140.35 293.56,140.35 293.56,142.9 293.57,142.9 293.57,145.45 293.58,145.45 293.58,148 293.6,148 293.6,150.55 293.64,150.55 293.64,153.1 293.76,153.1 293.76,155.65 293.97,155.65 293.97,158.2 294.24,158.2 294.24,160.75 294.55,160.75 294.55,163.3 294.9,163.3 294.9,165.85 295.28,165.85 295.28,168.4 295.82,168.4 295.82,170.95 296.52,170.95 296.52,173.5 297.38,173.5 297.38,176.05 298.58,176.05 298.58,178.6 300.12,178.6 300.12,181.15 302.39,181.15 302.39,183.7 305.28,183.7 305.28,186.25 307.82,186.25 307.82,188.8 309.6,188.8 309.6,191.35 311.16,191.35 311.16,193.9 312.47,193.9 312.47,196.45 313.48,196.45 313.48,199 314.37,199 314.37,201.55 315.17,201.55 315.17,204.1 315.76,204.1 315.76,206.65 316,206.65 316,209.2 315.91,209.2 315.91,211.75 315.67,211.75 315.67,214.3 315.31,214.3 315.31,216.85 314.76,216.85 314.76,219.4 313.58,219.4 313.58,221.95 311.99,221.95 311.99,224.5 309.87,224.5 309.87,227.05 307.1,227.05 307.1,229.6 304.44,229.6 304.44,232.15 301.85,232.15 301.85,234.7 299.76,234.7 299.76,237.25 298.44,237.25 298.44,239.8 297.79,239.8 297.79,242.35 297.43,242.35 297.43,244.9 297.27,244.9 297.27,247.45 297.16,247.45 297.16,250 297.1,250 297.1,252.55 297.28,252.55 297.28,255.1 297.91,255.1 297.91,257.65 298.65,257.65 298.65,260.2 299.08,260.2 299.08,262.75 298.92,262.75 298.92,265.3 298.33,265.3 298.33,267.85 297.51,267.85 297.51,270.4 296.69,270.4 296.69,272.95 295.93,272.95 295.93,275.5 294.97,275.5 294.97,278.05 294.13,278.05 294.13,280.6 293.74,280.6 293.74,283.15 293.52,283.15 293.52,285.7 293.47,285.7 293.47,288.25 293.45,288.25 293.45,290.8 293.43,290.8 293.43,293.35 293.41,293.35 293.41,295.9 293.4,295.9 293.4,298.45 293.4,298.45 293.4,301 293.4,301 293.4,303.55 293.4,303.55" fill="none" stroke="#fdae61" stroke-width="1.7" stroke-linejoin="miter"/>
<path clip-path="url(#cAr)" d="M293.4,61.3 293.4,61.3 293.4,63.85 293.4,63.85 293.4,66.4 293.4,66.4 293.4,68.95 293.4,68.95 293.4,71.5 293.4,71.5 293.4,74.05 293.4,74.05 293.4,76.6 293.4,76.6 293.4,79.15 293.41,79.15 293.41,81.7 293.41,81.7 293.41,84.25 293.41,84.25 293.41,86.8 293.41,86.8 293.41,89.35 293.42,89.35 293.42,91.9 293.42,91.9 293.42,94.45 293.42,94.45 293.42,97 293.43,97 293.43,99.55 293.43,99.55 293.43,102.1 293.44,102.1 293.44,104.65 293.44,104.65 293.44,107.2 293.45,107.2 293.45,109.75 293.45,109.75 293.45,112.3 293.46,112.3 293.46,114.85 293.46,114.85 293.46,117.4 293.47,117.4 293.47,119.95 293.48,119.95 293.48,122.5 293.49,122.5 293.49,125.05 293.5,125.05 293.5,127.6 293.51,127.6 293.51,130.15 293.51,130.15 293.51,132.7 293.52,132.7 293.52,135.25 293.54,135.25 293.54,137.8 293.55,137.8 293.55,140.35 293.56,140.35 293.56,142.9 293.57,142.9 293.57,145.45 293.58,145.45 293.58,148 293.6,148 293.6,150.55 293.62,150.55 293.62,153.1 293.66,153.1 293.66,155.65 293.73,155.65 293.73,158.2 293.83,158.2 293.83,160.75 293.95,160.75 293.95,163.3 294.1,163.3 294.1,165.85 294.32,165.85 294.32,168.4 294.84,168.4 294.84,170.95 295.6,170.95 295.6,173.5 296.48,173.5 296.48,176.05 297.68,176.05 297.68,178.6 299.22,178.6 299.22,181.15 301.49,181.15 301.49,183.7 304.38,183.7 304.38,186.25 306.92,186.25 306.92,188.8 308.7,188.8 308.7,191.35 310.26,191.35 310.26,193.9 311.57,193.9 311.57,196.45 312.58,196.45 312.58,199 313.47,199 313.47,201.55 314.27,201.55 314.27,204.1 314.86,204.1 314.86,206.65 315.1,206.65 315.1,209.2 315.01,209.2 315.01,211.75 314.77,211.75 314.77,214.3 314.41,214.3 314.41,216.85 313.86,216.85 313.86,219.4 312.68,219.4 312.68,221.95 311.09,221.95 311.09,224.5 308.97,224.5 308.97,227.05 306.2,227.05 306.2,229.6 303.54,229.6 303.54,232.15 300.95,232.15 300.95,234.7 298.86,234.7 298.86,237.25 297.54,237.25 297.54,239.8 296.89,239.8 296.89,242.35 296.53,242.35 296.53,244.9 296.37,244.9 296.37,247.45 296.26,247.45 296.26,250 296.2,250 296.2,252.55 296.2,252.55 296.2,255.1 296.2,255.1 296.2,257.65 296.2,257.65 296.2,260.2 296.2,260.2 296.2,262.75 296.18,262.75 296.18,265.3 296.1,265.3 296.1,267.85 295.95,267.85 295.95,270.4 295.73,270.4 295.73,272.95 295.05,272.95 295.05,275.5 294.51,275.5 294.51,278.05 294.09,278.05 294.09,280.6 293.75,280.6 293.75,283.15 293.52,283.15 293.52,285.7 293.47,285.7 293.47,288.25 293.45,288.25 293.45,290.8 293.43,290.8 293.43,293.35 293.41,293.35 293.41,295.9 293.4,295.9 293.4,298.45 293.4,298.45 293.4,301 293.4,301 293.4,303.55 293.4,303.55" fill="none" stroke="#a6cee3" stroke-width="1.7" stroke-linejoin="miter"/>
<path clip-path="url(#cAr)" d="M293.4,61.3 293.4,61.3 293.4,63.85 293.4,63.85 293.4,66.4 293.4,66.4 293.4,68.95 293.4,68.95 293.4,71.5 293.4,71.5 293.4,74.05 293.4,74.05 293.4,76.6 293.4,76.6 293.4,79.15 293.41,79.15 293.41,81.7 293.41,81.7 293.41,84.25 293.41,84.25 293.41,86.8 293.41,86.8 293.41,89.35 293.41,89.35 293.41,91.9 293.42,91.9 293.42,94.45 293.42,94.45 293.42,97 293.43,97 293.43,99.55 293.43,99.55 293.43,102.1 293.43,102.1 293.43,104.65 293.44,104.65 293.44,107.2 293.44,107.2 293.44,109.75 293.45,109.75 293.45,112.3 293.46,112.3 293.46,114.85 293.46,114.85 293.46,117.4 293.47,117.4 293.47,119.95 293.48,119.95 293.48,122.5 293.49,122.5 293.49,125.05 293.49,125.05 293.49,127.6 293.5,127.6 293.5,130.15 293.51,130.15 293.51,132.7 293.52,132.7 293.52,135.25 293.53,135.25 293.53,137.8 293.55,137.8 293.55,140.35 293.56,140.35 293.56,142.9 293.57,142.9 293.57,145.45 293.58,145.45 293.58,148 293.6,148 293.6,150.55 293.62,150.55 293.62,153.1 293.69,153.1 293.69,155.65 293.8,155.65 293.8,158.2 293.96,158.2 293.96,160.75 294.14,160.75 294.14,163.3 294.36,163.3 294.36,165.85 294.64,165.85 294.64,168.4 295.17,168.4 295.17,170.95 295.91,170.95 295.91,173.5 296.78,173.5 296.78,176.05 297.98,176.05 297.98,178.6 299.52,178.6 299.52,181.15 301.79,181.15 301.79,183.7 304.68,183.7 304.68,186.25 307.22,186.25 307.22,188.8 309,188.8 309,191.35 310.56,191.35 310.56,193.9 311.87,193.9 311.87,196.45 312.88,196.45 312.88,199 313.77,199 313.77,201.55 314.57,201.55 314.57,204.1 315.16,204.1 315.16,206.65 315.4,206.65 315.4,209.2 315.31,209.2 315.31,211.75 315.07,211.75 315.07,214.3 314.71,214.3 314.71,216.85 314.16,216.85 314.16,219.4 312.98,219.4 312.98,221.95 311.39,221.95 311.39,224.5 309.27,224.5 309.27,227.05 306.5,227.05 306.5,229.6 303.84,229.6 303.84,232.15 301.25,232.15 301.25,234.7 299.16,234.7 299.16,237.25 297.84,237.25 297.84,239.8 297.19,239.8 297.19,242.35 296.83,242.35 296.83,244.9 296.67,244.9 296.67,247.45 296.56,247.45 296.56,250 296.5,250 296.5,252.55 296.5,252.55 296.5,255.1 296.5,255.1 296.5,257.65 296.5,257.65 296.5,260.2 296.5,260.2 296.5,262.75 296.48,262.75 296.48,265.3 296.4,265.3 296.4,267.85 296.25,267.85 296.25,270.4 296.03,270.4 296.03,272.95 295.34,272.95 295.34,275.5 294.66,275.5 294.66,278.05 294.1,278.05 294.1,280.6 293.75,280.6 293.75,283.15 293.52,283.15 293.52,285.7 293.47,285.7 293.47,288.25 293.45,288.25 293.45,290.8 293.43,290.8 293.43,293.35 293.41,293.35 293.41,295.9 293.4,295.9 293.4,298.45 293.4,298.45 293.4,301 293.4,301 293.4,303.55 293.4,303.55" fill="none" stroke="#1f78b4" stroke-width="2.0" stroke-linejoin="miter"/>
<line x1="293.4" y1="187.6" x2="354.5" y2="187.6" stroke="#e31a1c" stroke-width="1.0" stroke-dasharray="3.2,1.3"/>
<line x1="293.4" y1="288.3" x2="354.5" y2="288.3" stroke="#e31a1c" stroke-width="1.0" stroke-dasharray="3.2,1.3"/>
<line x1="293.4" y1="174.8" x2="354.5" y2="174.8" stroke="#fdae61" stroke-width="1.0" stroke-dasharray="3.2,1.3"/>
<line x1="293.4" y1="264.6" x2="354.5" y2="264.6" stroke="#fdae61" stroke-width="1.0" stroke-dasharray="3.2,1.3"/>
<line x1="293.4" y1="175.8" x2="354.5" y2="175.8" stroke="#a6cee3" stroke-width="1.0" stroke-dasharray="3.2,1.3"/>
<line x1="293.4" y1="262.5" x2="354.5" y2="262.5" stroke="#a6cee3" stroke-width="1.0" stroke-dasharray="3.2,1.3"/>
<line x1="293.4" y1="166.7" x2="354.5" y2="166.7" stroke="#1f78b4" stroke-width="1.0" stroke-dasharray="3.2,1.3"/>
<line x1="293.4" y1="261.4" x2="354.5" y2="261.4" stroke="#1f78b4" stroke-width="1.0" stroke-dasharray="3.2,1.3"/>
<path d="M59.67,301.3v1.8M73.38,301.3v1.8M87.09,301.3v1.8M114.51,301.3v1.8M128.22,301.3v1.8M141.93,301.3v1.8M155.64,301.3v1.8M183.06,301.3v1.8M196.77,301.3v1.8M210.48,301.3v1.8M224.19,301.3v1.8M251.61,301.3v1.8M265.32,301.3v1.8M279.03,301.3v1.8M292.74,301.3v1.8" stroke="#555" stroke-width="0.8"/>
<path d="M100.8,301.3v3M169.35,301.3v3M237.9,301.3v3" stroke="#555" stroke-width="0.8"/>
<path d="M46.6,296.59h-1.8M46.6,287.55h-1.8M46.6,269.45h-1.8M46.6,260.41h-1.8M46.6,251.37h-1.8M46.6,233.28h-1.8M46.6,224.23h-1.8M46.6,215.19h-1.8M46.6,197.09h-1.8M46.6,188.05h-1.8M46.6,179h-1.8M46.6,160.92h-1.8M46.6,151.87h-1.8M46.6,142.83h-1.8M46.6,124.74h-1.8M46.6,115.69h-1.8M46.6,106.65h-1.8M46.6,88.56h-1.8M46.6,79.51h-1.8M46.6,70.47h-1.8" stroke="#555" stroke-width="0.8"/>
<path d="M46.6,278.5h-3M46.6,242.32h-3M46.6,206.14h-3M46.6,169.96h-3M46.6,133.78h-3M46.6,97.6h-3" stroke="#555" stroke-width="0.8"/>
<path d="M46.6,2.3h-1.6M46.6,6.6h-1.6M46.6,10.9h-1.6M46.6,15.2h-1.6M46.6,19.5h-1.6M46.6,23.8h-1.6M46.6,28.1h-1.6M46.6,32.4h-1.6M46.6,36.7h-1.6M46.6,41h-1.6M46.6,45.3h-1.6M46.6,49.6h-1.6M46.6,53.9h-1.6M46.6,58.2h-1.6" stroke="#555" stroke-width="0.8"/>
<path d="M299.5,301.3v1.8M305.6,301.3v1.8M311.7,301.3v1.8M317.8,301.3v1.8M323.9,301.3v1.8M330,301.3v1.8M336.1,301.3v1.8M342.2,301.3v1.8M348.3,301.3v1.8" stroke="#555" stroke-width="0.8"/>
<path d="M325.7,301.3v3" stroke="#555" stroke-width="0.8"/>
<text x="100.8" y="313.7" font-size="11.2" fill="#262626" text-anchor="middle" textLength="20" lengthAdjust="spacingAndGlyphs">100</text>
<text x="169.35" y="313.7" font-size="11.2" fill="#262626" text-anchor="middle" textLength="20" lengthAdjust="spacingAndGlyphs">150</text>
<text x="237.9" y="313.7" font-size="11.2" fill="#262626" text-anchor="middle" textLength="20" lengthAdjust="spacingAndGlyphs">200</text>
<text x="42.2" y="282.5" font-size="11.2" fill="#262626" text-anchor="end" textLength="13.5" lengthAdjust="spacingAndGlyphs">20</text>
<text x="42.2" y="246.32" font-size="11.2" fill="#262626" text-anchor="end" textLength="13.5" lengthAdjust="spacingAndGlyphs">40</text>
<text x="42.2" y="210.14" font-size="11.2" fill="#262626" text-anchor="end" textLength="13.5" lengthAdjust="spacingAndGlyphs">60</text>
<text x="42.2" y="173.96" font-size="11.2" fill="#262626" text-anchor="end" textLength="13.5" lengthAdjust="spacingAndGlyphs">80</text>
<text x="42.2" y="137.78" font-size="11.2" fill="#262626" text-anchor="end" textLength="20" lengthAdjust="spacingAndGlyphs">100</text>
<text x="42.2" y="101.6" font-size="11.2" fill="#262626" text-anchor="end" textLength="20" lengthAdjust="spacingAndGlyphs">120</text>
<text class="sf" x="144.6" y="330" font-size="13" fill="#262626" font-style="italic">m</text>
<text class="sf" x="155.2" y="333.5" font-size="9" fill="#262626">1</text>
<text class="sf" x="155.2" y="324.8" font-size="9" fill="#262626">src</text>
<text class="sf" x="167.6" y="330" font-size="13" fill="#262626">[<tspan font-style="italic">M</tspan></text>
<circle cx="186.7" cy="331" r="2.5" fill="none" stroke="#262626" stroke-width="0.8"/><circle cx="186.7" cy="331" r="0.6" fill="#262626"/>
<text class="sf" x="190.4" y="330" font-size="13" fill="#262626">]</text>
<g transform="translate(10.8,182) rotate(-90)"><text class="sf" x="-25.4" y="0" font-size="13" fill="#262626" font-style="italic">m</text><text class="sf" x="-14.8" y="3.5" font-size="9" fill="#262626">2</text><text class="sf" x="-14.8" y="-5.2" font-size="9" fill="#262626">src</text><text class="sf" x="-2.4" y="0" font-size="13" fill="#262626">[<tspan font-style="italic">M</tspan></text><circle cx="16.7" cy="1" r="2.5" fill="none" stroke="#262626" stroke-width="0.8"/><circle cx="16.7" cy="1" r="0.6" fill="#262626"/><text class="sf" x="20.4" y="0" font-size="13" fill="#262626">]</text></g>
<g clip-path="url(#cB)" fill="#1f78b4">
<path fill-opacity="0.02" d="M472.94,218.76h4.73v4.62h-4.73zM482.68,271.08h4.73v4.62h-4.73zM487.55,275.83h4.73v4.62h-4.73zM492.41,280.59h4.73v4.62h-4.73zM507.02,237.79h4.73v4.62h-4.73zM507.02,285.35h4.73v4.62h-4.73zM516.75,275.83h4.73v4.62h-4.73zM526.49,156.93h4.73v4.62h-4.73zM614.11,114.13h4.73v4.62h-4.73zM648.19,99.86h4.73v4.62h-4.73zM653.06,99.86h4.73v4.62h-4.73zM657.93,214.01h4.73v4.62h-4.73z"/>
<path fill-opacity="0.04" d="M472.94,252.05h4.73v4.62h-4.73zM511.89,247.3h4.73v4.62h-4.73zM516.75,261.57h4.73v4.62h-4.73zM516.75,266.32h4.73v4.62h-4.73zM516.75,271.08h4.73v4.62h-4.73zM531.36,204.49h4.73v4.62h-4.73zM531.36,209.25h4.73v4.62h-4.73zM541.09,142.67h4.73v4.62h-4.73zM545.96,137.91h4.73v4.62h-4.73zM545.96,261.57h4.73v4.62h-4.73zM560.57,266.32h4.73v4.62h-4.73zM570.3,266.32h4.73v4.62h-4.73zM575.17,123.64h4.73v4.62h-4.73zM575.17,266.32h4.73v4.62h-4.73zM589.77,118.89h4.73v4.62h-4.73zM594.64,261.57h4.73v4.62h-4.73zM618.98,114.13h4.73v4.62h-4.73zM628.72,109.37h4.73v4.62h-4.73zM628.72,237.79h4.73v4.62h-4.73zM633.59,104.62h4.73v4.62h-4.73zM662.79,209.25h4.73v4.62h-4.73zM672.53,104.62h4.73v4.62h-4.73zM672.53,204.49h4.73v4.62h-4.73zM682.27,109.37h4.73v4.62h-4.73zM687.13,199.74h4.73v4.62h-4.73z"/>
<path fill-opacity="0.06" d="M472.94,223.52h4.73v4.62h-4.73zM472.94,242.54h4.73v4.62h-4.73zM472.94,247.3h4.73v4.62h-4.73zM477.81,256.81h4.73v4.62h-4.73zM477.81,261.57h4.73v4.62h-4.73zM482.68,261.57h4.73v4.62h-4.73zM482.68,266.32h4.73v4.62h-4.73zM487.55,218.76h4.73v4.62h-4.73zM487.55,271.08h4.73v4.62h-4.73zM492.41,275.83h4.73v4.62h-4.73zM497.28,280.59h4.73v4.62h-4.73zM502.15,233.03h4.73v4.62h-4.73zM526.49,161.69h4.73v4.62h-4.73zM526.49,185.47h4.73v4.62h-4.73zM531.36,152.18h4.73v4.62h-4.73zM531.36,199.74h4.73v4.62h-4.73zM531.36,247.3h4.73v4.62h-4.73zM536.23,147.42h4.73v4.62h-4.73zM541.09,256.81h4.73v4.62h-4.73zM555.7,133.15h4.73v4.62h-4.73zM565.43,128.4h4.73v4.62h-4.73zM565.43,266.32h4.73v4.62h-4.73zM594.64,118.89h4.73v4.62h-4.73zM604.38,256.81h4.73v4.62h-4.73zM614.11,252.05h4.73v4.62h-4.73zM623.85,114.13h4.73v4.62h-4.73zM623.85,242.54h4.73v4.62h-4.73zM633.59,233.03h4.73v4.62h-4.73zM638.45,104.62h4.73v4.62h-4.73zM643.32,104.62h4.73v4.62h-4.73zM648.19,104.62h4.73v4.62h-4.73zM653.06,104.62h4.73v4.62h-4.73zM657.93,104.62h4.73v4.62h-4.73zM662.79,104.62h4.73v4.62h-4.73zM662.79,109.37h4.73v4.62h-4.73zM667.66,104.62h4.73v4.62h-4.73zM667.66,109.37h4.73v4.62h-4.73zM672.53,109.37h4.73v4.62h-4.73zM677.4,109.37h4.73v4.62h-4.73zM677.4,114.13h4.73v4.62h-4.73zM682.27,114.13h4.73v4.62h-4.73zM682.27,118.89h4.73v4.62h-4.73zM682.27,199.74h4.73v4.62h-4.73zM687.13,114.13h4.73v4.62h-4.73zM687.13,118.89h4.73v4.62h-4.73zM687.13,123.64h4.73v4.62h-4.73zM692,114.13h4.73v4.62h-4.73zM692,118.89h4.73v4.62h-4.73zM692,123.64h4.73v4.62h-4.73zM692,128.4h4.73v4.62h-4.73z"/>
<path fill-opacity="0.08" d="M472.94,228.27h4.73v4.62h-4.73zM472.94,233.03h4.73v4.62h-4.73zM472.94,237.79h4.73v4.62h-4.73zM477.81,218.76h4.73v4.62h-4.73zM477.81,247.3h4.73v4.62h-4.73zM477.81,252.05h4.73v4.62h-4.73zM482.68,218.76h4.73v4.62h-4.73zM487.55,266.32h4.73v4.62h-4.73zM492.41,223.52h4.73v4.62h-4.73zM492.41,271.08h4.73v4.62h-4.73zM497.28,228.27h4.73v4.62h-4.73zM497.28,275.83h4.73v4.62h-4.73zM502.15,280.59h4.73v4.62h-4.73zM507.02,242.54h4.73v4.62h-4.73zM511.89,252.05h4.73v4.62h-4.73zM511.89,256.81h4.73v4.62h-4.73zM511.89,280.59h4.73v4.62h-4.73zM531.36,194.98h4.73v4.62h-4.73zM531.36,214.01h4.73v4.62h-4.73zM531.36,228.27h4.73v4.62h-4.73zM531.36,233.03h4.73v4.62h-4.73zM531.36,237.79h4.73v4.62h-4.73zM531.36,242.54h4.73v4.62h-4.73zM536.23,242.54h4.73v4.62h-4.73zM536.23,247.3h4.73v4.62h-4.73zM536.23,252.05h4.73v4.62h-4.73zM541.09,252.05h4.73v4.62h-4.73zM545.96,256.81h4.73v4.62h-4.73zM550.83,261.57h4.73v4.62h-4.73zM580.04,123.64h4.73v4.62h-4.73zM589.77,261.57h4.73v4.62h-4.73zM599.51,118.89h4.73v4.62h-4.73zM599.51,256.81h4.73v4.62h-4.73zM604.38,118.89h4.73v4.62h-4.73zM604.38,252.05h4.73v4.62h-4.73zM609.25,118.89h4.73v4.62h-4.73zM609.25,252.05h4.73v4.62h-4.73zM614.11,118.89h4.73v4.62h-4.73zM618.98,118.89h4.73v4.62h-4.73zM618.98,247.3h4.73v4.62h-4.73zM623.85,118.89h4.73v4.62h-4.73zM628.72,114.13h4.73v4.62h-4.73zM628.72,118.89h4.73v4.62h-4.73zM633.59,109.37h4.73v4.62h-4.73zM633.59,114.13h4.73v4.62h-4.73zM633.59,118.89h4.73v4.62h-4.73zM638.45,109.37h4.73v4.62h-4.73zM638.45,114.13h4.73v4.62h-4.73zM638.45,118.89h4.73v4.62h-4.73zM638.45,228.27h4.73v4.62h-4.73zM643.32,109.37h4.73v4.62h-4.73zM643.32,114.13h4.73v4.62h-4.73zM643.32,118.89h4.73v4.62h-4.73zM643.32,223.52h4.73v4.62h-4.73zM648.19,109.37h4.73v4.62h-4.73zM648.19,114.13h4.73v4.62h-4.73zM648.19,118.89h4.73v4.62h-4.73zM653.06,109.37h4.73v4.62h-4.73zM653.06,114.13h4.73v4.62h-4.73zM653.06,118.89h4.73v4.62h-4.73zM657.93,109.37h4.73v4.62h-4.73zM657.93,114.13h4.73v4.62h-4.73zM657.93,118.89h4.73v4.62h-4.73zM662.79,114.13h4.73v4.62h-4.73zM662.79,118.89h4.73v4.62h-4.73zM667.66,114.13h4.73v4.62h-4.73zM667.66,118.89h4.73v4.62h-4.73zM667.66,123.64h4.73v4.62h-4.73zM672.53,114.13h4.73v4.62h-4.73zM672.53,118.89h4.73v4.62h-4.73zM672.53,123.64h4.73v4.62h-4.73zM677.4,118.89h4.73v4.62h-4.73zM677.4,123.64h4.73v4.62h-4.73zM677.4,128.4h4.73v4.62h-4.73zM682.27,123.64h4.73v4.62h-4.73zM682.27,128.4h4.73v4.62h-4.73zM682.27,133.15h4.73v4.62h-4.73zM687.13,128.4h4.73v4.62h-4.73zM687.13,133.15h4.73v4.62h-4.73zM687.13,137.91h4.73v4.62h-4.73zM687.13,142.67h4.73v4.62h-4.73zM687.13,194.98h4.73v4.62h-4.73zM692,133.15h4.73v4.62h-4.73zM692,137.91h4.73v4.62h-4.73zM692,142.67h4.73v4.62h-4.73zM692,147.42h4.73v4.62h-4.73zM692,152.18h4.73v4.62h-4.73zM692,156.93h4.73v4.62h-4.73zM692,175.96h4.73v4.62h-4.73zM692,180.71h4.73v4.62h-4.73zM692,185.47h4.73v4.62h-4.73zM692,190.23h4.73v4.62h-4.73zM692,194.98h4.73v4.62h-4.73z"/>
<path fill-opacity="0.11" d="M477.81,242.54h4.73v4.62h-4.73zM482.68,256.81h4.73v4.62h-4.73zM502.15,237.79h4.73v4.62h-4.73zM507.02,247.3h4.73v4.62h-4.73zM507.02,280.59h4.73v4.62h-4.73zM511.89,261.57h4.73v4.62h-4.73zM511.89,275.83h4.73v4.62h-4.73zM526.49,166.45h4.73v4.62h-4.73zM526.49,180.71h4.73v4.62h-4.73zM531.36,218.76h4.73v4.62h-4.73zM531.36,223.52h4.73v4.62h-4.73zM536.23,214.01h4.73v4.62h-4.73zM536.23,218.76h4.73v4.62h-4.73zM536.23,223.52h4.73v4.62h-4.73zM536.23,228.27h4.73v4.62h-4.73zM536.23,233.03h4.73v4.62h-4.73zM536.23,237.79h4.73v4.62h-4.73zM541.09,247.3h4.73v4.62h-4.73zM545.96,252.05h4.73v4.62h-4.73zM550.83,137.91h4.73v4.62h-4.73zM550.83,256.81h4.73v4.62h-4.73zM555.7,261.57h4.73v4.62h-4.73zM560.57,133.15h4.73v4.62h-4.73zM565.43,133.15h4.73v4.62h-4.73zM570.3,128.4h4.73v4.62h-4.73zM575.17,128.4h4.73v4.62h-4.73zM580.04,128.4h4.73v4.62h-4.73zM580.04,261.57h4.73v4.62h-4.73zM584.91,123.64h4.73v4.62h-4.73zM584.91,128.4h4.73v4.62h-4.73zM584.91,261.57h4.73v4.62h-4.73zM589.77,123.64h4.73v4.62h-4.73zM589.77,128.4h4.73v4.62h-4.73zM589.77,256.81h4.73v4.62h-4.73zM594.64,123.64h4.73v4.62h-4.73zM594.64,128.4h4.73v4.62h-4.73zM594.64,252.05h4.73v4.62h-4.73zM594.64,256.81h4.73v4.62h-4.73zM599.51,123.64h4.73v4.62h-4.73zM599.51,247.3h4.73v4.62h-4.73zM599.51,252.05h4.73v4.62h-4.73zM604.38,123.64h4.73v4.62h-4.73zM604.38,242.54h4.73v4.62h-4.73zM604.38,247.3h4.73v4.62h-4.73zM609.25,123.64h4.73v4.62h-4.73zM609.25,242.54h4.73v4.62h-4.73zM609.25,247.3h4.73v4.62h-4.73zM614.11,123.64h4.73v4.62h-4.73zM614.11,237.79h4.73v4.62h-4.73zM614.11,242.54h4.73v4.62h-4.73zM614.11,247.3h4.73v4.62h-4.73zM618.98,123.64h4.73v4.62h-4.73zM618.98,237.79h4.73v4.62h-4.73zM618.98,242.54h4.73v4.62h-4.73zM623.85,123.64h4.73v4.62h-4.73zM623.85,237.79h4.73v4.62h-4.73zM628.72,123.64h4.73v4.62h-4.73zM628.72,233.03h4.73v4.62h-4.73zM633.59,123.64h4.73v4.62h-4.73zM638.45,123.64h4.73v4.62h-4.73zM643.32,123.64h4.73v4.62h-4.73zM648.19,123.64h4.73v4.62h-4.73zM648.19,128.4h4.73v4.62h-4.73zM648.19,218.76h4.73v4.62h-4.73zM653.06,123.64h4.73v4.62h-4.73zM653.06,128.4h4.73v4.62h-4.73zM653.06,214.01h4.73v4.62h-4.73zM657.93,123.64h4.73v4.62h-4.73zM657.93,128.4h4.73v4.62h-4.73zM662.79,123.64h4.73v4.62h-4.73zM662.79,128.4h4.73v4.62h-4.73zM667.66,128.4h4.73v4.62h-4.73zM667.66,133.15h4.73v4.62h-4.73zM667.66,204.49h4.73v4.62h-4.73zM672.53,128.4h4.73v4.62h-4.73zM672.53,133.15h4.73v4.62h-4.73zM672.53,137.91h4.73v4.62h-4.73zM672.53,199.74h4.73v4.62h-4.73zM677.4,133.15h4.73v4.62h-4.73zM677.4,137.91h4.73v4.62h-4.73zM677.4,142.67h4.73v4.62h-4.73zM677.4,190.23h4.73v4.62h-4.73zM677.4,194.98h4.73v4.62h-4.73zM677.4,199.74h4.73v4.62h-4.73zM682.27,137.91h4.73v4.62h-4.73zM682.27,142.67h4.73v4.62h-4.73zM682.27,147.42h4.73v4.62h-4.73zM682.27,152.18h4.73v4.62h-4.73zM682.27,180.71h4.73v4.62h-4.73zM682.27,185.47h4.73v4.62h-4.73zM682.27,190.23h4.73v4.62h-4.73zM682.27,194.98h4.73v4.62h-4.73zM687.13,147.42h4.73v4.62h-4.73zM687.13,152.18h4.73v4.62h-4.73zM687.13,156.93h4.73v4.62h-4.73zM687.13,161.69h4.73v4.62h-4.73zM687.13,166.45h4.73v4.62h-4.73zM687.13,171.2h4.73v4.62h-4.73zM687.13,175.96h4.73v4.62h-4.73zM687.13,180.71h4.73v4.62h-4.73zM687.13,185.47h4.73v4.62h-4.73zM687.13,190.23h4.73v4.62h-4.73zM692,161.69h4.73v4.62h-4.73zM692,166.45h4.73v4.62h-4.73zM692,171.2h4.73v4.62h-4.73z"/>
<path fill-opacity="0.13" d="M477.81,223.52h4.73v4.62h-4.73zM487.55,223.52h4.73v4.62h-4.73zM487.55,261.57h4.73v4.62h-4.73zM492.41,228.27h4.73v4.62h-4.73zM497.28,233.03h4.73v4.62h-4.73zM502.15,275.83h4.73v4.62h-4.73zM511.89,266.32h4.73v4.62h-4.73zM511.89,271.08h4.73v4.62h-4.73zM526.49,171.2h4.73v4.62h-4.73zM526.49,175.96h4.73v4.62h-4.73zM531.36,156.93h4.73v4.62h-4.73zM531.36,190.23h4.73v4.62h-4.73zM536.23,152.18h4.73v4.62h-4.73zM536.23,194.98h4.73v4.62h-4.73zM536.23,199.74h4.73v4.62h-4.73zM536.23,204.49h4.73v4.62h-4.73zM536.23,209.25h4.73v4.62h-4.73zM541.09,147.42h4.73v4.62h-4.73zM541.09,204.49h4.73v4.62h-4.73zM541.09,209.25h4.73v4.62h-4.73zM541.09,214.01h4.73v4.62h-4.73zM541.09,237.79h4.73v4.62h-4.73zM541.09,242.54h4.73v4.62h-4.73zM545.96,142.67h4.73v4.62h-4.73zM550.83,142.67h4.73v4.62h-4.73zM555.7,137.91h4.73v4.62h-4.73zM560.57,137.91h4.73v4.62h-4.73zM560.57,261.57h4.73v4.62h-4.73zM565.43,137.91h4.73v4.62h-4.73zM565.43,261.57h4.73v4.62h-4.73zM570.3,133.15h4.73v4.62h-4.73zM570.3,261.57h4.73v4.62h-4.73zM575.17,133.15h4.73v4.62h-4.73zM575.17,261.57h4.73v4.62h-4.73zM580.04,133.15h4.73v4.62h-4.73zM584.91,133.15h4.73v4.62h-4.73zM584.91,256.81h4.73v4.62h-4.73zM589.77,252.05h4.73v4.62h-4.73zM594.64,247.3h4.73v4.62h-4.73zM599.51,128.4h4.73v4.62h-4.73zM599.51,242.54h4.73v4.62h-4.73zM604.38,128.4h4.73v4.62h-4.73zM604.38,233.03h4.73v4.62h-4.73zM604.38,237.79h4.73v4.62h-4.73zM609.25,128.4h4.73v4.62h-4.73zM609.25,228.27h4.73v4.62h-4.73zM609.25,233.03h4.73v4.62h-4.73zM609.25,237.79h4.73v4.62h-4.73zM614.11,128.4h4.73v4.62h-4.73zM614.11,228.27h4.73v4.62h-4.73zM614.11,233.03h4.73v4.62h-4.73zM618.98,128.4h4.73v4.62h-4.73zM618.98,223.52h4.73v4.62h-4.73zM618.98,228.27h4.73v4.62h-4.73zM618.98,233.03h4.73v4.62h-4.73zM623.85,128.4h4.73v4.62h-4.73zM623.85,223.52h4.73v4.62h-4.73zM623.85,228.27h4.73v4.62h-4.73zM623.85,233.03h4.73v4.62h-4.73zM628.72,128.4h4.73v4.62h-4.73zM628.72,218.76h4.73v4.62h-4.73zM628.72,223.52h4.73v4.62h-4.73zM628.72,228.27h4.73v4.62h-4.73zM633.59,128.4h4.73v4.62h-4.73zM633.59,218.76h4.73v4.62h-4.73zM633.59,223.52h4.73v4.62h-4.73zM633.59,228.27h4.73v4.62h-4.73zM638.45,128.4h4.73v4.62h-4.73zM638.45,214.01h4.73v4.62h-4.73zM638.45,218.76h4.73v4.62h-4.73zM638.45,223.52h4.73v4.62h-4.73zM643.32,128.4h4.73v4.62h-4.73zM643.32,133.15h4.73v4.62h-4.73zM643.32,214.01h4.73v4.62h-4.73zM643.32,218.76h4.73v4.62h-4.73zM648.19,133.15h4.73v4.62h-4.73zM648.19,209.25h4.73v4.62h-4.73zM648.19,214.01h4.73v4.62h-4.73zM653.06,133.15h4.73v4.62h-4.73zM653.06,204.49h4.73v4.62h-4.73zM653.06,209.25h4.73v4.62h-4.73zM657.93,133.15h4.73v4.62h-4.73zM657.93,199.74h4.73v4.62h-4.73zM657.93,204.49h4.73v4.62h-4.73zM657.93,209.25h4.73v4.62h-4.73zM662.79,133.15h4.73v4.62h-4.73zM662.79,137.91h4.73v4.62h-4.73zM662.79,199.74h4.73v4.62h-4.73zM662.79,204.49h4.73v4.62h-4.73zM667.66,137.91h4.73v4.62h-4.73zM667.66,142.67h4.73v4.62h-4.73zM667.66,190.23h4.73v4.62h-4.73zM667.66,194.98h4.73v4.62h-4.73zM667.66,199.74h4.73v4.62h-4.73zM672.53,142.67h4.73v4.62h-4.73zM672.53,147.42h4.73v4.62h-4.73zM672.53,185.47h4.73v4.62h-4.73zM672.53,190.23h4.73v4.62h-4.73zM672.53,194.98h4.73v4.62h-4.73zM677.4,147.42h4.73v4.62h-4.73zM677.4,152.18h4.73v4.62h-4.73zM677.4,156.93h4.73v4.62h-4.73zM677.4,161.69h4.73v4.62h-4.73zM677.4,171.2h4.73v4.62h-4.73zM677.4,175.96h4.73v4.62h-4.73zM677.4,180.71h4.73v4.62h-4.73zM677.4,185.47h4.73v4.62h-4.73zM682.27,156.93h4.73v4.62h-4.73zM682.27,161.69h4.73v4.62h-4.73zM682.27,166.45h4.73v4.62h-4.73zM682.27,171.2h4.73v4.62h-4.73zM682.27,175.96h4.73v4.62h-4.73z"/>
<path fill-opacity="0.15" d="M477.81,228.27h4.73v4.62h-4.73zM477.81,233.03h4.73v4.62h-4.73zM477.81,237.79h4.73v4.62h-4.73zM482.68,223.52h4.73v4.62h-4.73zM482.68,252.05h4.73v4.62h-4.73zM507.02,275.83h4.73v4.62h-4.73zM531.36,161.69h4.73v4.62h-4.73zM531.36,166.45h4.73v4.62h-4.73zM531.36,171.2h4.73v4.62h-4.73zM531.36,175.96h4.73v4.62h-4.73zM531.36,180.71h4.73v4.62h-4.73zM531.36,185.47h4.73v4.62h-4.73zM536.23,156.93h4.73v4.62h-4.73zM536.23,190.23h4.73v4.62h-4.73zM541.09,152.18h4.73v4.62h-4.73zM541.09,194.98h4.73v4.62h-4.73zM541.09,199.74h4.73v4.62h-4.73zM541.09,218.76h4.73v4.62h-4.73zM541.09,223.52h4.73v4.62h-4.73zM541.09,228.27h4.73v4.62h-4.73zM541.09,233.03h4.73v4.62h-4.73zM545.96,147.42h4.73v4.62h-4.73zM545.96,247.3h4.73v4.62h-4.73zM550.83,147.42h4.73v4.62h-4.73zM550.83,252.05h4.73v4.62h-4.73zM555.7,142.67h4.73v4.62h-4.73zM555.7,256.81h4.73v4.62h-4.73zM560.57,142.67h4.73v4.62h-4.73zM570.3,137.91h4.73v4.62h-4.73zM575.17,137.91h4.73v4.62h-4.73zM580.04,256.81h4.73v4.62h-4.73zM589.77,133.15h4.73v4.62h-4.73zM594.64,133.15h4.73v4.62h-4.73zM594.64,242.54h4.73v4.62h-4.73zM599.51,133.15h4.73v4.62h-4.73zM599.51,233.03h4.73v4.62h-4.73zM599.51,237.79h4.73v4.62h-4.73zM604.38,133.15h4.73v4.62h-4.73zM604.38,223.52h4.73v4.62h-4.73zM604.38,228.27h4.73v4.62h-4.73zM609.25,133.15h4.73v4.62h-4.73zM609.25,218.76h4.73v4.62h-4.73zM609.25,223.52h4.73v4.62h-4.73zM614.11,133.15h4.73v4.62h-4.73zM614.11,218.76h4.73v4.62h-4.73zM614.11,223.52h4.73v4.62h-4.73zM618.98,133.15h4.73v4.62h-4.73zM618.98,214.01h4.73v4.62h-4.73zM618.98,218.76h4.73v4.62h-4.73zM623.85,133.15h4.73v4.62h-4.73zM623.85,214.01h4.73v4.62h-4.73zM623.85,218.76h4.73v4.62h-4.73zM628.72,133.15h4.73v4.62h-4.73zM628.72,209.25h4.73v4.62h-4.73zM628.72,214.01h4.73v4.62h-4.73zM633.59,133.15h4.73v4.62h-4.73zM633.59,209.25h4.73v4.62h-4.73zM633.59,214.01h4.73v4.62h-4.73zM638.45,133.15h4.73v4.62h-4.73zM638.45,204.49h4.73v4.62h-4.73zM638.45,209.25h4.73v4.62h-4.73zM643.32,137.91h4.73v4.62h-4.73zM643.32,204.49h4.73v4.62h-4.73zM643.32,209.25h4.73v4.62h-4.73zM648.19,137.91h4.73v4.62h-4.73zM648.19,199.74h4.73v4.62h-4.73zM648.19,204.49h4.73v4.62h-4.73zM653.06,137.91h4.73v4.62h-4.73zM653.06,194.98h4.73v4.62h-4.73zM653.06,199.74h4.73v4.62h-4.73zM657.93,137.91h4.73v4.62h-4.73zM657.93,142.67h4.73v4.62h-4.73zM657.93,194.98h4.73v4.62h-4.73zM662.79,142.67h4.73v4.62h-4.73zM662.79,190.23h4.73v4.62h-4.73zM662.79,194.98h4.73v4.62h-4.73zM667.66,147.42h4.73v4.62h-4.73zM667.66,180.71h4.73v4.62h-4.73zM667.66,185.47h4.73v4.62h-4.73zM672.53,152.18h4.73v4.62h-4.73zM672.53,156.93h4.73v4.62h-4.73zM672.53,161.69h4.73v4.62h-4.73zM672.53,166.45h4.73v4.62h-4.73zM672.53,171.2h4.73v4.62h-4.73zM672.53,175.96h4.73v4.62h-4.73zM672.53,180.71h4.73v4.62h-4.73zM677.4,166.45h4.73v4.62h-4.73z"/>
<path fill-opacity="0.17" d="M492.41,266.32h4.73v4.62h-4.73zM497.28,271.08h4.73v4.62h-4.73zM502.15,242.54h4.73v4.62h-4.73zM507.02,252.05h4.73v4.62h-4.73zM536.23,161.69h4.73v4.62h-4.73zM536.23,166.45h4.73v4.62h-4.73zM536.23,180.71h4.73v4.62h-4.73zM536.23,185.47h4.73v4.62h-4.73zM541.09,156.93h4.73v4.62h-4.73zM541.09,190.23h4.73v4.62h-4.73zM545.96,152.18h4.73v4.62h-4.73zM545.96,194.98h4.73v4.62h-4.73zM545.96,199.74h4.73v4.62h-4.73zM545.96,204.49h4.73v4.62h-4.73zM545.96,209.25h4.73v4.62h-4.73zM545.96,242.54h4.73v4.62h-4.73zM555.7,147.42h4.73v4.62h-4.73zM560.57,256.81h4.73v4.62h-4.73zM565.43,142.67h4.73v4.62h-4.73zM580.04,137.91h4.73v4.62h-4.73zM584.91,137.91h4.73v4.62h-4.73zM584.91,252.05h4.73v4.62h-4.73zM589.77,137.91h4.73v4.62h-4.73zM589.77,247.3h4.73v4.62h-4.73zM594.64,237.79h4.73v4.62h-4.73zM599.51,228.27h4.73v4.62h-4.73zM604.38,218.76h4.73v4.62h-4.73zM609.25,214.01h4.73v4.62h-4.73zM614.11,209.25h4.73v4.62h-4.73zM614.11,214.01h4.73v4.62h-4.73zM618.98,209.25h4.73v4.62h-4.73zM623.85,137.91h4.73v4.62h-4.73zM623.85,204.49h4.73v4.62h-4.73zM623.85,209.25h4.73v4.62h-4.73zM628.72,137.91h4.73v4.62h-4.73zM628.72,204.49h4.73v4.62h-4.73zM633.59,137.91h4.73v4.62h-4.73zM633.59,199.74h4.73v4.62h-4.73zM633.59,204.49h4.73v4.62h-4.73zM638.45,137.91h4.73v4.62h-4.73zM638.45,199.74h4.73v4.62h-4.73zM643.32,199.74h4.73v4.62h-4.73zM648.19,142.67h4.73v4.62h-4.73zM648.19,194.98h4.73v4.62h-4.73zM653.06,142.67h4.73v4.62h-4.73zM653.06,190.23h4.73v4.62h-4.73zM657.93,147.42h4.73v4.62h-4.73zM657.93,185.47h4.73v4.62h-4.73zM657.93,190.23h4.73v4.62h-4.73zM662.79,147.42h4.73v4.62h-4.73zM662.79,152.18h4.73v4.62h-4.73zM662.79,180.71h4.73v4.62h-4.73zM662.79,185.47h4.73v4.62h-4.73zM667.66,152.18h4.73v4.62h-4.73zM667.66,156.93h4.73v4.62h-4.73zM667.66,161.69h4.73v4.62h-4.73zM667.66,166.45h4.73v4.62h-4.73zM667.66,171.2h4.73v4.62h-4.73zM667.66,175.96h4.73v4.62h-4.73z"/>
<path fill-opacity="0.19" d="M507.02,271.08h4.73v4.62h-4.73zM536.23,171.2h4.73v4.62h-4.73zM536.23,175.96h4.73v4.62h-4.73zM541.09,161.69h4.73v4.62h-4.73zM541.09,185.47h4.73v4.62h-4.73zM545.96,156.93h4.73v4.62h-4.73zM545.96,190.23h4.73v4.62h-4.73zM545.96,214.01h4.73v4.62h-4.73zM545.96,218.76h4.73v4.62h-4.73zM545.96,237.79h4.73v4.62h-4.73zM550.83,152.18h4.73v4.62h-4.73zM550.83,199.74h4.73v4.62h-4.73zM560.57,147.42h4.73v4.62h-4.73zM570.3,142.67h4.73v4.62h-4.73zM575.17,142.67h4.73v4.62h-4.73zM575.17,256.81h4.73v4.62h-4.73zM594.64,137.91h4.73v4.62h-4.73zM594.64,233.03h4.73v4.62h-4.73zM599.51,137.91h4.73v4.62h-4.73zM599.51,218.76h4.73v4.62h-4.73zM599.51,223.52h4.73v4.62h-4.73zM604.38,137.91h4.73v4.62h-4.73zM604.38,214.01h4.73v4.62h-4.73zM609.25,137.91h4.73v4.62h-4.73zM609.25,209.25h4.73v4.62h-4.73zM614.11,137.91h4.73v4.62h-4.73zM614.11,204.49h4.73v4.62h-4.73zM618.98,137.91h4.73v4.62h-4.73zM618.98,204.49h4.73v4.62h-4.73zM623.85,199.74h4.73v4.62h-4.73zM628.72,199.74h4.73v4.62h-4.73zM638.45,142.67h4.73v4.62h-4.73zM638.45,194.98h4.73v4.62h-4.73zM643.32,142.67h4.73v4.62h-4.73zM643.32,194.98h4.73v4.62h-4.73zM648.19,190.23h4.73v4.62h-4.73zM653.06,147.42h4.73v4.62h-4.73zM653.06,185.47h4.73v4.62h-4.73zM657.93,152.18h4.73v4.62h-4.73zM657.93,180.71h4.73v4.62h-4.73zM662.79,156.93h4.73v4.62h-4.73zM662.79,161.69h4.73v4.62h-4.73zM662.79,166.45h4.73v4.62h-4.73zM662.79,171.2h4.73v4.62h-4.73zM662.79,175.96h4.73v4.62h-4.73z"/>
<path fill-opacity="0.21" d="M482.68,228.27h4.73v4.62h-4.73zM482.68,247.3h4.73v4.62h-4.73zM487.55,228.27h4.73v4.62h-4.73zM502.15,271.08h4.73v4.62h-4.73zM507.02,256.81h4.73v4.62h-4.73zM541.09,166.45h4.73v4.62h-4.73zM541.09,171.2h4.73v4.62h-4.73zM541.09,175.96h4.73v4.62h-4.73zM541.09,180.71h4.73v4.62h-4.73zM545.96,161.69h4.73v4.62h-4.73zM545.96,185.47h4.73v4.62h-4.73zM545.96,223.52h4.73v4.62h-4.73zM545.96,228.27h4.73v4.62h-4.73zM545.96,233.03h4.73v4.62h-4.73zM550.83,194.98h4.73v4.62h-4.73zM550.83,204.49h4.73v4.62h-4.73zM550.83,209.25h4.73v4.62h-4.73zM550.83,247.3h4.73v4.62h-4.73zM555.7,152.18h4.73v4.62h-4.73zM555.7,252.05h4.73v4.62h-4.73zM565.43,147.42h4.73v4.62h-4.73zM565.43,256.81h4.73v4.62h-4.73zM570.3,256.81h4.73v4.62h-4.73zM580.04,142.67h4.73v4.62h-4.73zM589.77,242.54h4.73v4.62h-4.73zM594.64,228.27h4.73v4.62h-4.73zM599.51,214.01h4.73v4.62h-4.73zM604.38,209.25h4.73v4.62h-4.73zM609.25,204.49h4.73v4.62h-4.73zM614.11,199.74h4.73v4.62h-4.73zM618.98,199.74h4.73v4.62h-4.73zM628.72,142.67h4.73v4.62h-4.73zM628.72,194.98h4.73v4.62h-4.73zM633.59,142.67h4.73v4.62h-4.73zM633.59,194.98h4.73v4.62h-4.73zM638.45,190.23h4.73v4.62h-4.73zM643.32,147.42h4.73v4.62h-4.73zM643.32,190.23h4.73v4.62h-4.73zM648.19,147.42h4.73v4.62h-4.73zM648.19,185.47h4.73v4.62h-4.73zM653.06,152.18h4.73v4.62h-4.73zM653.06,180.71h4.73v4.62h-4.73zM657.93,156.93h4.73v4.62h-4.73zM657.93,161.69h4.73v4.62h-4.73zM657.93,171.2h4.73v4.62h-4.73zM657.93,175.96h4.73v4.62h-4.73z"/>
<path fill-opacity="0.23" d="M487.55,256.81h4.73v4.62h-4.73zM497.28,237.79h4.73v4.62h-4.73zM507.02,266.32h4.73v4.62h-4.73zM545.96,166.45h4.73v4.62h-4.73zM545.96,180.71h4.73v4.62h-4.73zM550.83,156.93h4.73v4.62h-4.73zM550.83,190.23h4.73v4.62h-4.73zM570.3,147.42h4.73v4.62h-4.73zM580.04,252.05h4.73v4.62h-4.73zM584.91,142.67h4.73v4.62h-4.73zM584.91,247.3h4.73v4.62h-4.73zM589.77,142.67h4.73v4.62h-4.73zM594.64,223.52h4.73v4.62h-4.73zM599.51,209.25h4.73v4.62h-4.73zM604.38,204.49h4.73v4.62h-4.73zM609.25,199.74h4.73v4.62h-4.73zM614.11,142.67h4.73v4.62h-4.73zM618.98,142.67h4.73v4.62h-4.73zM623.85,142.67h4.73v4.62h-4.73zM623.85,194.98h4.73v4.62h-4.73zM633.59,190.23h4.73v4.62h-4.73zM638.45,147.42h4.73v4.62h-4.73zM643.32,185.47h4.73v4.62h-4.73zM648.19,152.18h4.73v4.62h-4.73zM648.19,180.71h4.73v4.62h-4.73zM653.06,156.93h4.73v4.62h-4.73zM653.06,175.96h4.73v4.62h-4.73zM657.93,166.45h4.73v4.62h-4.73z"/>
<path fill-opacity="0.25" d="M492.41,233.03h4.73v4.62h-4.73zM507.02,261.57h4.73v4.62h-4.73zM545.96,171.2h4.73v4.62h-4.73zM545.96,175.96h4.73v4.62h-4.73zM550.83,161.69h4.73v4.62h-4.73zM550.83,185.47h4.73v4.62h-4.73zM550.83,214.01h4.73v4.62h-4.73zM550.83,242.54h4.73v4.62h-4.73zM555.7,156.93h4.73v4.62h-4.73zM555.7,194.98h4.73v4.62h-4.73zM555.7,199.74h4.73v4.62h-4.73zM555.7,204.49h4.73v4.62h-4.73zM560.57,152.18h4.73v4.62h-4.73zM575.17,147.42h4.73v4.62h-4.73zM589.77,237.79h4.73v4.62h-4.73zM594.64,142.67h4.73v4.62h-4.73zM594.64,218.76h4.73v4.62h-4.73zM599.51,142.67h4.73v4.62h-4.73zM599.51,204.49h4.73v4.62h-4.73zM604.38,142.67h4.73v4.62h-4.73zM604.38,199.74h4.73v4.62h-4.73zM609.25,142.67h4.73v4.62h-4.73zM618.98,194.98h4.73v4.62h-4.73zM628.72,190.23h4.73v4.62h-4.73zM633.59,147.42h4.73v4.62h-4.73zM638.45,185.47h4.73v4.62h-4.73zM643.32,152.18h4.73v4.62h-4.73zM648.19,156.93h4.73v4.62h-4.73zM648.19,175.96h4.73v4.62h-4.73zM653.06,161.69h4.73v4.62h-4.73zM653.06,166.45h4.73v4.62h-4.73zM653.06,171.2h4.73v4.62h-4.73z"/>
<path fill-opacity="0.27" d="M482.68,233.03h4.73v4.62h-4.73zM482.68,242.54h4.73v4.62h-4.73zM497.28,266.32h4.73v4.62h-4.73zM502.15,247.3h4.73v4.62h-4.73zM550.83,166.45h4.73v4.62h-4.73zM550.83,180.71h4.73v4.62h-4.73zM555.7,190.23h4.73v4.62h-4.73zM560.57,252.05h4.73v4.62h-4.73zM565.43,152.18h4.73v4.62h-4.73zM575.17,252.05h4.73v4.62h-4.73zM580.04,147.42h4.73v4.62h-4.73zM589.77,233.03h4.73v4.62h-4.73zM594.64,214.01h4.73v4.62h-4.73zM614.11,194.98h4.73v4.62h-4.73zM623.85,190.23h4.73v4.62h-4.73zM628.72,147.42h4.73v4.62h-4.73zM633.59,185.47h4.73v4.62h-4.73zM638.45,152.18h4.73v4.62h-4.73zM643.32,180.71h4.73v4.62h-4.73zM648.19,161.69h4.73v4.62h-4.73zM648.19,171.2h4.73v4.62h-4.73z"/>
<path fill-opacity="0.29" d="M492.41,261.57h4.73v4.62h-4.73zM550.83,171.2h4.73v4.62h-4.73zM550.83,175.96h4.73v4.62h-4.73zM550.83,218.76h4.73v4.62h-4.73zM555.7,161.69h4.73v4.62h-4.73zM555.7,185.47h4.73v4.62h-4.73zM555.7,209.25h4.73v4.62h-4.73zM555.7,247.3h4.73v4.62h-4.73zM560.57,156.93h4.73v4.62h-4.73zM584.91,147.42h4.73v4.62h-4.73zM584.91,242.54h4.73v4.62h-4.73zM589.77,228.27h4.73v4.62h-4.73zM594.64,209.25h4.73v4.62h-4.73zM599.51,199.74h4.73v4.62h-4.73zM609.25,194.98h4.73v4.62h-4.73zM618.98,147.42h4.73v4.62h-4.73zM618.98,190.23h4.73v4.62h-4.73zM623.85,147.42h4.73v4.62h-4.73zM638.45,180.71h4.73v4.62h-4.73zM643.32,156.93h4.73v4.62h-4.73zM643.32,175.96h4.73v4.62h-4.73zM648.19,166.45h4.73v4.62h-4.73z"/>
<path fill-opacity="0.32" d="M482.68,237.79h4.73v4.62h-4.73zM550.83,237.79h4.73v4.62h-4.73zM555.7,180.71h4.73v4.62h-4.73zM560.57,190.23h4.73v4.62h-4.73zM560.57,194.98h4.73v4.62h-4.73zM560.57,199.74h4.73v4.62h-4.73zM565.43,252.05h4.73v4.62h-4.73zM570.3,152.18h4.73v4.62h-4.73zM570.3,252.05h4.73v4.62h-4.73zM580.04,247.3h4.73v4.62h-4.73zM589.77,147.42h4.73v4.62h-4.73zM589.77,223.52h4.73v4.62h-4.73zM594.64,147.42h4.73v4.62h-4.73zM594.64,204.49h4.73v4.62h-4.73zM604.38,194.98h4.73v4.62h-4.73zM609.25,147.42h4.73v4.62h-4.73zM614.11,147.42h4.73v4.62h-4.73zM614.11,190.23h4.73v4.62h-4.73zM628.72,185.47h4.73v4.62h-4.73zM633.59,152.18h4.73v4.62h-4.73zM638.45,156.93h4.73v4.62h-4.73zM643.32,161.69h4.73v4.62h-4.73zM643.32,166.45h4.73v4.62h-4.73zM643.32,171.2h4.73v4.62h-4.73z"/>
<path fill-opacity="0.34" d="M487.55,233.03h4.73v4.62h-4.73zM502.15,266.32h4.73v4.62h-4.73zM550.83,223.52h4.73v4.62h-4.73zM550.83,233.03h4.73v4.62h-4.73zM555.7,166.45h4.73v4.62h-4.73zM555.7,175.96h4.73v4.62h-4.73zM560.57,204.49h4.73v4.62h-4.73zM565.43,156.93h4.73v4.62h-4.73zM575.17,152.18h4.73v4.62h-4.73zM589.77,214.01h4.73v4.62h-4.73zM589.77,218.76h4.73v4.62h-4.73zM594.64,199.74h4.73v4.62h-4.73zM599.51,147.42h4.73v4.62h-4.73zM604.38,147.42h4.73v4.62h-4.73zM623.85,185.47h4.73v4.62h-4.73zM628.72,152.18h4.73v4.62h-4.73zM633.59,180.71h4.73v4.62h-4.73zM638.45,175.96h4.73v4.62h-4.73z"/>
<path fill-opacity="0.36" d="M487.55,252.05h4.73v4.62h-4.73zM550.83,228.27h4.73v4.62h-4.73zM555.7,171.2h4.73v4.62h-4.73zM555.7,214.01h4.73v4.62h-4.73zM560.57,161.69h4.73v4.62h-4.73zM560.57,185.47h4.73v4.62h-4.73zM584.91,237.79h4.73v4.62h-4.73zM589.77,209.25h4.73v4.62h-4.73zM599.51,194.98h4.73v4.62h-4.73zM609.25,190.23h4.73v4.62h-4.73zM623.85,152.18h4.73v4.62h-4.73zM633.59,156.93h4.73v4.62h-4.73zM638.45,161.69h4.73v4.62h-4.73zM638.45,171.2h4.73v4.62h-4.73z"/>
<path fill-opacity="0.38" d="M555.7,242.54h4.73v4.62h-4.73zM560.57,180.71h4.73v4.62h-4.73zM560.57,247.3h4.73v4.62h-4.73zM565.43,190.23h4.73v4.62h-4.73zM565.43,194.98h4.73v4.62h-4.73zM565.43,199.74h4.73v4.62h-4.73zM570.3,156.93h4.73v4.62h-4.73zM580.04,152.18h4.73v4.62h-4.73zM589.77,204.49h4.73v4.62h-4.73zM604.38,190.23h4.73v4.62h-4.73zM618.98,152.18h4.73v4.62h-4.73zM618.98,185.47h4.73v4.62h-4.73zM628.72,180.71h4.73v4.62h-4.73zM633.59,175.96h4.73v4.62h-4.73zM638.45,166.45h4.73v4.62h-4.73z"/>
<path fill-opacity="0.4" d="M497.28,242.54h4.73v4.62h-4.73zM502.15,252.05h4.73v4.62h-4.73zM560.57,166.45h4.73v4.62h-4.73zM560.57,171.2h4.73v4.62h-4.73zM560.57,175.96h4.73v4.62h-4.73zM560.57,209.25h4.73v4.62h-4.73zM565.43,161.69h4.73v4.62h-4.73zM575.17,247.3h4.73v4.62h-4.73zM584.91,152.18h4.73v4.62h-4.73zM589.77,199.74h4.73v4.62h-4.73zM594.64,194.98h4.73v4.62h-4.73zM614.11,152.18h4.73v4.62h-4.73zM614.11,185.47h4.73v4.62h-4.73zM623.85,180.71h4.73v4.62h-4.73zM628.72,156.93h4.73v4.62h-4.73zM633.59,161.69h4.73v4.62h-4.73zM633.59,171.2h4.73v4.62h-4.73z"/>
<path fill-opacity="0.42" d="M492.41,237.79h4.73v4.62h-4.73zM555.7,218.76h4.73v4.62h-4.73zM565.43,185.47h4.73v4.62h-4.73zM565.43,204.49h4.73v4.62h-4.73zM575.17,156.93h4.73v4.62h-4.73zM580.04,242.54h4.73v4.62h-4.73zM584.91,209.25h4.73v4.62h-4.73zM584.91,233.03h4.73v4.62h-4.73zM589.77,152.18h4.73v4.62h-4.73zM594.64,152.18h4.73v4.62h-4.73zM599.51,190.23h4.73v4.62h-4.73zM609.25,152.18h4.73v4.62h-4.73zM628.72,175.96h4.73v4.62h-4.73zM633.59,166.45h4.73v4.62h-4.73z"/>
<path fill-opacity="0.44" d="M502.15,261.57h4.73v4.62h-4.73zM565.43,166.45h4.73v4.62h-4.73zM565.43,180.71h4.73v4.62h-4.73zM565.43,247.3h4.73v4.62h-4.73zM570.3,190.23h4.73v4.62h-4.73zM570.3,194.98h4.73v4.62h-4.73zM570.3,199.74h4.73v4.62h-4.73zM584.91,199.74h4.73v4.62h-4.73zM584.91,204.49h4.73v4.62h-4.73zM584.91,214.01h4.73v4.62h-4.73zM584.91,218.76h4.73v4.62h-4.73zM584.91,223.52h4.73v4.62h-4.73zM584.91,228.27h4.73v4.62h-4.73zM589.77,194.98h4.73v4.62h-4.73zM599.51,152.18h4.73v4.62h-4.73zM604.38,152.18h4.73v4.62h-4.73zM609.25,185.47h4.73v4.62h-4.73zM618.98,180.71h4.73v4.62h-4.73zM623.85,156.93h4.73v4.62h-4.73zM628.72,161.69h4.73v4.62h-4.73z"/>
<path fill-opacity="0.46" d="M487.55,237.79h4.73v4.62h-4.73zM492.41,256.81h4.73v4.62h-4.73zM497.28,261.57h4.73v4.62h-4.73zM502.15,256.81h4.73v4.62h-4.73zM555.7,237.79h4.73v4.62h-4.73zM565.43,175.96h4.73v4.62h-4.73zM570.3,161.69h4.73v4.62h-4.73zM570.3,204.49h4.73v4.62h-4.73zM570.3,247.3h4.73v4.62h-4.73zM580.04,156.93h4.73v4.62h-4.73zM594.64,190.23h4.73v4.62h-4.73zM604.38,185.47h4.73v4.62h-4.73zM618.98,156.93h4.73v4.62h-4.73zM623.85,175.96h4.73v4.62h-4.73zM628.72,166.45h4.73v4.62h-4.73zM628.72,171.2h4.73v4.62h-4.73z"/>
<path fill-opacity="0.48" d="M487.55,247.3h4.73v4.62h-4.73zM560.57,214.01h4.73v4.62h-4.73zM565.43,171.2h4.73v4.62h-4.73zM565.43,209.25h4.73v4.62h-4.73zM570.3,185.47h4.73v4.62h-4.73zM575.17,194.98h4.73v4.62h-4.73zM575.17,199.74h4.73v4.62h-4.73zM575.17,204.49h4.73v4.62h-4.73zM580.04,199.74h4.73v4.62h-4.73zM580.04,204.49h4.73v4.62h-4.73zM584.91,194.98h4.73v4.62h-4.73zM614.11,180.71h4.73v4.62h-4.73zM623.85,161.69h4.73v4.62h-4.73z"/>
<path fill-opacity="0.5" d="M555.7,223.52h4.73v4.62h-4.73zM570.3,166.45h4.73v4.62h-4.73zM575.17,161.69h4.73v4.62h-4.73zM575.17,190.23h4.73v4.62h-4.73zM580.04,194.98h4.73v4.62h-4.73zM580.04,209.25h4.73v4.62h-4.73zM584.91,156.93h4.73v4.62h-4.73zM589.77,190.23h4.73v4.62h-4.73zM599.51,185.47h4.73v4.62h-4.73zM614.11,156.93h4.73v4.62h-4.73zM618.98,175.96h4.73v4.62h-4.73zM623.85,171.2h4.73v4.62h-4.73z"/>
<path fill-opacity="0.53" d="M487.55,242.54h4.73v4.62h-4.73zM555.7,228.27h4.73v4.62h-4.73zM555.7,233.03h4.73v4.62h-4.73zM560.57,242.54h4.73v4.62h-4.73zM570.3,180.71h4.73v4.62h-4.73zM570.3,209.25h4.73v4.62h-4.73zM580.04,190.23h4.73v4.62h-4.73zM580.04,214.01h4.73v4.62h-4.73zM580.04,237.79h4.73v4.62h-4.73zM584.91,190.23h4.73v4.62h-4.73zM589.77,156.93h4.73v4.62h-4.73zM609.25,156.93h4.73v4.62h-4.73zM609.25,180.71h4.73v4.62h-4.73zM618.98,161.69h4.73v4.62h-4.73zM623.85,166.45h4.73v4.62h-4.73z"/>
<path fill-opacity="0.55" d="M570.3,171.2h4.73v4.62h-4.73zM570.3,175.96h4.73v4.62h-4.73zM575.17,185.47h4.73v4.62h-4.73zM575.17,209.25h4.73v4.62h-4.73zM575.17,242.54h4.73v4.62h-4.73zM594.64,156.93h4.73v4.62h-4.73zM594.64,185.47h4.73v4.62h-4.73zM599.51,156.93h4.73v4.62h-4.73zM604.38,156.93h4.73v4.62h-4.73zM604.38,180.71h4.73v4.62h-4.73z"/>
<path fill-opacity="0.57" d="M497.28,247.3h4.73v4.62h-4.73zM575.17,166.45h4.73v4.62h-4.73zM575.17,180.71h4.73v4.62h-4.73zM580.04,161.69h4.73v4.62h-4.73zM580.04,185.47h4.73v4.62h-4.73zM580.04,218.76h4.73v4.62h-4.73zM589.77,185.47h4.73v4.62h-4.73zM614.11,161.69h4.73v4.62h-4.73zM614.11,175.96h4.73v4.62h-4.73zM618.98,166.45h4.73v4.62h-4.73zM618.98,171.2h4.73v4.62h-4.73z"/>
<path fill-opacity="0.59" d="M560.57,218.76h4.73v4.62h-4.73zM565.43,214.01h4.73v4.62h-4.73zM580.04,233.03h4.73v4.62h-4.73zM584.91,161.69h4.73v4.62h-4.73zM584.91,185.47h4.73v4.62h-4.73zM599.51,180.71h4.73v4.62h-4.73zM609.25,175.96h4.73v4.62h-4.73z"/>
<path fill-opacity="0.61" d="M492.41,242.54h4.73v4.62h-4.73zM497.28,256.81h4.73v4.62h-4.73zM565.43,242.54h4.73v4.62h-4.73zM575.17,171.2h4.73v4.62h-4.73zM575.17,175.96h4.73v4.62h-4.73zM575.17,214.01h4.73v4.62h-4.73zM580.04,180.71h4.73v4.62h-4.73zM580.04,223.52h4.73v4.62h-4.73zM594.64,180.71h4.73v4.62h-4.73zM609.25,161.69h4.73v4.62h-4.73zM614.11,166.45h4.73v4.62h-4.73zM614.11,171.2h4.73v4.62h-4.73z"/>
<path fill-opacity="0.63" d="M570.3,214.01h4.73v4.62h-4.73zM570.3,242.54h4.73v4.62h-4.73zM580.04,166.45h4.73v4.62h-4.73zM580.04,228.27h4.73v4.62h-4.73zM584.91,180.71h4.73v4.62h-4.73zM589.77,161.69h4.73v4.62h-4.73zM589.77,180.71h4.73v4.62h-4.73zM594.64,161.69h4.73v4.62h-4.73zM599.51,161.69h4.73v4.62h-4.73zM604.38,161.69h4.73v4.62h-4.73zM604.38,175.96h4.73v4.62h-4.73z"/>
<path fill-opacity="0.65" d="M492.41,252.05h4.73v4.62h-4.73zM560.57,237.79h4.73v4.62h-4.73zM580.04,171.2h4.73v4.62h-4.73zM580.04,175.96h4.73v4.62h-4.73zM609.25,166.45h4.73v4.62h-4.73zM609.25,171.2h4.73v4.62h-4.73z"/>
<path fill-opacity="0.67" d="M497.28,252.05h4.73v4.62h-4.73zM560.57,223.52h4.73v4.62h-4.73zM584.91,166.45h4.73v4.62h-4.73zM584.91,175.96h4.73v4.62h-4.73zM594.64,175.96h4.73v4.62h-4.73zM599.51,175.96h4.73v4.62h-4.73zM604.38,166.45h4.73v4.62h-4.73zM604.38,171.2h4.73v4.62h-4.73z"/>
<path fill-opacity="0.69" d="M492.41,247.3h4.73v4.62h-4.73zM565.43,218.76h4.73v4.62h-4.73zM575.17,218.76h4.73v4.62h-4.73zM575.17,237.79h4.73v4.62h-4.73zM584.91,171.2h4.73v4.62h-4.73zM589.77,166.45h4.73v4.62h-4.73zM589.77,175.96h4.73v4.62h-4.73zM594.64,166.45h4.73v4.62h-4.73zM599.51,166.45h4.73v4.62h-4.73zM599.51,171.2h4.73v4.62h-4.73z"/>
<path fill-opacity="0.71" d="M560.57,233.03h4.73v4.62h-4.73zM589.77,171.2h4.73v4.62h-4.73zM594.64,171.2h4.73v4.62h-4.73z"/>
<path fill-opacity="0.74" d="M560.57,228.27h4.73v4.62h-4.73zM570.3,218.76h4.73v4.62h-4.73z"/>
<path fill-opacity="0.76" d="M565.43,237.79h4.73v4.62h-4.73z"/>
<path fill-opacity="0.78" d="M570.3,237.79h4.73v4.62h-4.73zM575.17,223.52h4.73v4.62h-4.73zM575.17,233.03h4.73v4.62h-4.73z"/>
<path fill-opacity="0.8" d="M575.17,228.27h4.73v4.62h-4.73z"/>
<path fill-opacity="0.82" d="M565.43,223.52h4.73v4.62h-4.73z"/>
<path fill-opacity="0.84" d="M570.3,223.52h4.73v4.62h-4.73z"/>
<path fill-opacity="0.86" d="M565.43,233.03h4.73v4.62h-4.73z"/>
<path fill-opacity="0.88" d="M565.43,228.27h4.73v4.62h-4.73zM570.3,233.03h4.73v4.62h-4.73z"/>
<path fill-opacity="0.9" d="M570.3,228.27h4.73v4.62h-4.73z"/>
</g>
<g clip-path="url(#cB)" fill="#e31a1c">
<path fill-opacity="0.02" d="M458.34,228.27h4.73v4.62h-4.73zM458.34,266.32h4.73v4.62h-4.73zM463.21,271.08h4.73v4.62h-4.73zM472.94,237.79h4.73v4.62h-4.73zM472.94,256.81h4.73v4.62h-4.73z"/>
<path fill-opacity="0.04" d="M458.34,233.03h4.73v4.62h-4.73zM468.07,228.27h4.73v4.62h-4.73zM468.07,266.32h4.73v4.62h-4.73zM472.94,242.54h4.73v4.62h-4.73zM472.94,247.3h4.73v4.62h-4.73zM472.94,252.05h4.73v4.62h-4.73z"/>
<path fill-opacity="0.06" d="M458.34,261.57h4.73v4.62h-4.73zM463.21,228.27h4.73v4.62h-4.73z"/>
<path fill-opacity="0.08" d="M463.21,266.32h4.73v4.62h-4.73z"/>
<path fill-opacity="0.11" d="M458.34,237.79h4.73v4.62h-4.73zM468.07,233.03h4.73v4.62h-4.73z"/>
<path fill-opacity="0.13" d="M458.34,256.81h4.73v4.62h-4.73z"/>
<path fill-opacity="0.15" d="M468.07,261.57h4.73v4.62h-4.73z"/>
<path fill-opacity="0.19" d="M458.34,242.54h4.73v4.62h-4.73zM463.21,233.03h4.73v4.62h-4.73z"/>
<path fill-opacity="0.21" d="M458.34,252.05h4.73v4.62h-4.73z"/>
<path fill-opacity="0.23" d="M458.34,247.3h4.73v4.62h-4.73zM463.21,261.57h4.73v4.62h-4.73z"/>
<path fill-opacity="0.25" d="M468.07,237.79h4.73v4.62h-4.73z"/>
<path fill-opacity="0.29" d="M468.07,256.81h4.73v4.62h-4.73z"/>
<path fill-opacity="0.42" d="M463.21,237.79h4.73v4.62h-4.73zM468.07,242.54h4.73v4.62h-4.73z"/>
<path fill-opacity="0.44" d="M468.07,252.05h4.73v4.62h-4.73z"/>
<path fill-opacity="0.5" d="M463.21,256.81h4.73v4.62h-4.73zM468.07,247.3h4.73v4.62h-4.73z"/>
<path fill-opacity="0.69" d="M463.21,242.54h4.73v4.62h-4.73z"/>
<path fill-opacity="0.76" d="M463.21,252.05h4.73v4.62h-4.73z"/>
<path fill-opacity="0.86" d="M463.21,247.3h4.73v4.62h-4.73z"/>
</g>
<path clip-path="url(#cB)" d="M535.4,168.2C535.87,163.87 537.95,158.55 541.3,154C544.65,149.45 548.78,144.47 555.5,140.9C562.22,137.33 573.7,134.05 581.6,132.6C589.5,131.15 595.4,131.8 602.9,132.2C610.4,132.6 619.5,133.35 626.6,135C633.7,136.65 640.37,138.93 645.5,142.1C650.63,145.27 654.63,149.65 657.4,154C660.17,158.35 662.1,164.27 662.1,168.2C662.1,172.13 660.17,174.85 657.4,177.6C654.63,180.35 648.32,182.3 645.5,184.7C642.68,187.1 642.08,188.83 640.5,192C638.92,195.17 637.53,199.38 636,203.7C634.47,208.02 633.67,212.38 631.3,217.9C628.93,223.42 625.35,231.27 621.8,236.8C618.25,242.33 615.13,247.53 610,251.1C604.87,254.67 598.1,256.03 591,258.2C583.9,260.37 574.1,263.92 567.4,264.1C560.7,264.28 555.55,261.87 550.8,259.3C546.05,256.73 541.47,252.45 538.9,248.7C536.33,244.95 535.78,241.53 535.4,236.8C535.02,232.07 535.62,225.82 536.6,220.3C537.58,214.78 540.32,208.42 541.3,203.7C542.28,198.98 542.97,195.95 542.5,192C542.03,188.05 539.68,183.97 538.5,180C537.32,176.03 534.93,172.53 535.4,168.2Z" fill="none" stroke="#e31a1c" stroke-width="2.3" stroke-linejoin="round"/>
<path clip-path="url(#cB)" d="M448,214.5C449,214.33 451.87,214.32 454,213.5C456.13,212.68 458.53,209.93 460.8,209.6C463.07,209.27 465.5,210.37 467.6,211.5C469.7,212.63 471.7,214.95 473.4,216.4C475.1,217.85 475.68,219.5 477.8,220.2C479.92,220.9 482.78,219.25 486.1,220.6C489.42,221.95 493.85,224.77 497.7,228.3C501.55,231.83 506.18,237.62 509.2,241.8C512.22,245.98 514.63,250.45 515.8,253.4C516.97,256.35 516.5,257.48 516.2,259.5C515.9,261.52 514.8,263.6 514,265.5C513.2,267.4 512.82,268.7 511.4,270.9C509.98,273.1 507.45,276.6 505.5,278.7C503.55,280.8 501.97,282.37 499.7,283.5C497.43,284.63 494.5,285.98 491.9,285.5C489.3,285.02 486.7,281.9 484.1,280.6C481.5,279.3 478.88,278.18 476.3,277.7C473.72,277.22 471.18,278.52 468.6,277.7C466.02,276.88 463.23,274.58 460.8,272.8C458.37,271.02 456.13,268.63 454,267C451.87,265.37 449,263.67 448,263" fill="none" stroke="#e31a1c" stroke-width="2.3" stroke-linejoin="round"/>
<path clip-path="url(#cB)" d="M530.7,175.3C530.93,171.3 531.48,165.08 533,161.5C534.52,157.92 536.73,156.85 539.8,153.8C542.87,150.75 546.73,146.55 551.4,143.2C556.07,139.85 561.93,136.48 567.8,133.7C573.67,130.92 579.57,128.58 586.6,126.5C593.63,124.42 602.93,122.52 610,121.2C617.07,119.88 622.28,119.38 629,118.6C635.72,117.82 642.8,117.12 650.3,116.5C657.8,115.88 667.3,114.78 674,114.9C680.7,115.02 685.33,116.43 690.5,117.2C695.67,117.97 701.75,112.37 705,119.5C708.25,126.63 710,146.67 710,160C710,173.33 707.13,192.87 705,199.5C702.87,206.13 700.4,199.5 697.2,199.8C694,200.1 690.47,200.07 685.8,201.3C681.13,202.53 674.73,204.27 669.2,207.2C663.67,210.13 657.33,215.2 652.6,218.9C647.87,222.6 644.73,226.02 640.8,229.4C636.87,232.78 632.55,235.68 629,239.2C625.45,242.72 623.85,247.07 619.5,250.5C615.15,253.93 608.43,257.45 602.9,259.8C597.37,262.15 592.22,263.43 586.3,264.6C580.38,265.77 573.2,267.15 567.4,266.8C561.6,266.45 556.23,264.8 551.5,262.5C546.77,260.2 541.95,256.62 539,253C536.05,249.38 534.6,245.47 533.8,240.8C533,236.13 533.63,230 534.2,225C534.77,220 536.87,215.63 537.2,210.8C537.53,205.97 537.13,200.22 536.2,196C535.27,191.78 532.52,188.95 531.6,185.5C530.68,182.05 530.47,179.3 530.7,175.3Z" fill="none" stroke="#fdae61" stroke-width="2.0" stroke-linejoin="round"/>
<path clip-path="url(#cB)" d="M474.4,223.2C475.18,220.58 476.35,220.78 478.3,220.3C480.25,219.82 482.87,219 486.1,220.3C489.33,221.6 493.82,224.53 497.7,228.1C501.58,231.67 506.32,237.48 509.4,241.7C512.48,245.92 514.83,249.83 516.2,253.4C517.57,256.97 517.67,259.87 517.6,263.1C517.53,266.33 516.73,269.9 515.8,272.8C514.87,275.7 513.97,278.97 512,280.5C510.03,282.03 507,282.83 504,282C501,281.17 497.33,278.5 494,275.5C490.67,272.5 486.83,268.33 484,264C481.17,259.67 478.73,254.17 477,249.5C475.27,244.83 474.03,240.38 473.6,236C473.17,231.62 473.62,225.82 474.4,223.2Z" fill="none" stroke="#fdae61" stroke-width="2.0" stroke-linejoin="round"/>
<path clip-path="url(#cB)" d="M530.2,175.3C530.43,171.3 530.97,165.13 532.5,161.5C534.03,157.87 536.28,156.62 539.4,153.5C542.52,150.38 546.5,146.17 551.2,142.8C555.9,139.43 561.72,136.08 567.6,133.3C573.48,130.52 579.43,128.17 586.5,126.1C593.57,124.03 601.35,121.95 610,120.9C618.65,119.85 629.73,120 638.4,119.8C647.07,119.6 654.1,119.13 662,119.7C669.9,120.27 679.93,122.03 685.8,123.2C691.67,124.37 694,125.9 697.2,126.7C700.4,127.5 702.87,122.45 705,128C707.13,133.55 710,148.17 710,160C710,171.83 707.13,192.47 705,199C702.87,205.53 700.4,198.92 697.2,199.2C694,199.48 690.47,199.45 685.8,200.7C681.13,201.95 674.73,203.75 669.2,206.7C663.67,209.65 657.33,214.68 652.6,218.4C647.87,222.12 644.73,225.58 640.8,229C636.87,232.42 632.55,235.37 629,238.9C625.45,242.43 623.85,246.75 619.5,250.2C615.15,253.65 608.43,257.23 602.9,259.6C597.37,261.97 592.22,263.22 586.3,264.4C580.38,265.58 573.25,267.02 567.4,266.7C561.55,266.38 556.02,264.78 551.2,262.5C546.38,260.22 541.5,256.62 538.5,253C535.5,249.38 533.98,245.47 533.2,240.8C532.42,236.13 533.2,230 533.8,225C534.4,220 536.47,215.63 536.8,210.8C537.13,205.97 536.75,200.22 535.8,196C534.85,191.78 532.03,188.95 531.1,185.5C530.17,182.05 529.97,179.3 530.2,175.3Z" fill="none" stroke="#a6cee3" stroke-width="2.0" stroke-linejoin="round"/>
<path clip-path="url(#cB)" d="M478.85,222.63C480.34,220.63 481.89,221.64 484,221.99C486.1,222.35 488.65,222.71 491.49,224.77C494.33,226.83 498.17,230.81 501.06,234.34C503.94,237.87 506.53,242.09 508.8,245.95C511.06,249.82 513.35,253.7 514.64,257.52C515.92,261.35 516.49,265.11 516.5,268.9C516.51,272.69 515.88,277.8 514.67,280.29C513.47,282.77 511.39,283.39 509.26,283.82C507.12,284.24 504.7,284.13 501.88,282.86C499.07,281.59 495.56,279.23 492.38,276.19C489.2,273.16 485.52,269.11 482.8,264.64C480.08,260.16 477.36,254.44 476.08,249.33C474.8,244.22 474.63,238.42 475.1,233.97C475.56,229.52 477.37,224.62 478.85,222.63Z" fill="none" stroke="#a6cee3" stroke-width="2.0" stroke-linejoin="round"/>
<path clip-path="url(#cB)" d="M529.5,175.3C529.72,171.23 530.23,164.85 531.8,161.1C533.37,157.35 535.73,155.97 538.9,152.8C542.07,149.63 546.05,145.47 550.8,142.1C555.55,138.73 561.48,135.37 567.4,132.6C573.32,129.83 579.2,127.55 586.3,125.5C593.4,123.45 603.22,121.62 610,120.3C616.78,118.98 623.08,118.98 627,117.6C630.92,116.22 631.33,113.77 633.5,112C635.67,110.23 637.58,108.12 640,107C642.42,105.88 645.1,105.6 648,105.3C650.9,105 653.47,104.9 657.4,105.2C661.33,105.5 666.87,105.68 671.6,107.1C676.33,108.52 681.85,111.9 685.8,113.7C689.75,115.5 692.1,116.85 695.3,117.9C698.5,118.95 702.55,112.98 705,120C707.45,127.02 710,146.95 710,160C710,173.05 707.13,191.88 705,198.3C702.87,204.72 700.4,198.2 697.2,198.5C694,198.8 690.47,198.83 685.8,200.1C681.13,201.37 674.73,203.13 669.2,206.1C663.67,209.07 657.33,214.15 652.6,217.9C647.87,221.65 644.73,225.17 640.8,228.6C636.87,232.03 632.55,234.95 629,238.5C625.45,242.05 623.85,246.43 619.5,249.9C615.15,253.37 608.43,256.93 602.9,259.3C597.37,261.67 592.22,262.9 586.3,264.1C580.38,265.3 573.28,266.77 567.4,266.5C561.52,266.23 555.9,264.75 551,262.5C546.1,260.25 541.08,256.62 538,253C534.92,249.38 533.3,245.47 532.5,240.8C531.7,236.13 532.58,230 533.2,225C533.82,220 535.87,215.63 536.2,210.8C536.53,205.97 536.15,200.22 535.2,196C534.25,191.78 531.45,188.95 530.5,185.5C529.55,182.05 529.28,179.37 529.5,175.3Z" fill="none" stroke="#1f78b4" stroke-width="2.5" stroke-linejoin="round"/>
<path clip-path="url(#cB)" d="M478.3,222.2C479.92,220.1 481.83,220.97 484.1,221.3C486.37,221.63 488.98,222.1 491.9,224.2C494.82,226.3 498.68,230.33 501.6,233.9C504.52,237.47 507.12,241.7 509.4,245.6C511.68,249.5 514,253.42 515.3,257.3C516.6,261.18 517.2,265.02 517.2,268.9C517.2,272.78 516.6,278 515.3,280.6C514,283.2 511.68,284.02 509.4,284.5C507.12,284.98 504.52,284.8 501.6,283.5C498.68,282.2 495.13,279.78 491.9,276.7C488.67,273.62 484.95,269.53 482.2,265C479.45,260.47 476.7,254.68 475.4,249.5C474.1,244.32 473.92,238.45 474.4,233.9C474.88,229.35 476.68,224.3 478.3,222.2Z" fill="none" stroke="#1f78b4" stroke-width="2.5" stroke-linejoin="round"/>
<ellipse cx="464.7" cy="204.6" rx="1.5" ry="4.3" fill="none" stroke="#1f78b4" stroke-width="1.8"/>
<path d="M466.6,244.3 467.99,248.58 472.5,248.58 468.85,251.23 470.24,255.52 466.6,252.87 462.96,255.52 464.35,251.23 460.7,248.58 465.21,248.58Z" fill="#e31a1c" stroke="#000" stroke-width="0.55" stroke-linejoin="miter"/>
<path d="M501.6,250.1 502.99,254.38 507.5,254.38 503.85,257.03 505.24,261.32 501.6,258.67 497.96,261.32 499.35,257.03 495.7,254.38 500.21,254.38Z" fill="#fdae61" stroke="#000" stroke-width="0.55" stroke-linejoin="miter"/>
<path d="M505.1,268.6 506.49,272.88 511,272.88 507.35,275.53 508.74,279.82 505.1,277.17 501.46,279.82 502.85,275.53 499.2,272.88 503.71,272.88Z" fill="#1f78b4" stroke="#000" stroke-width="0.55" stroke-linejoin="miter"/>
<rect x="453.4" y="7.8" width="243.4" height="58.7" fill="none" stroke="#9a9a9a" stroke-width="1.0"/>
<rect x="453.4" y="66.5" width="243.4" height="237.8" fill="none" stroke="#9a9a9a" stroke-width="1.0"/>
<rect x="696.8" y="66.5" width="60.8" height="237.8" fill="none" stroke="#9a9a9a" stroke-width="1.0"/>
<path clip-path="url(#cBt)" d="M452.26,66.5 452.26,66.2 455.63,66.2 455.63,66.2 459,66.2 459,60.7 462.37,60.7 462.37,26 465.74,26 465.74,0 469.11,0 469.11,43.4 472.48,43.4 472.48,63.6 475.85,63.6 475.85,65.28 479.22,65.28 479.22,65.14 482.59,65.14 482.59,62.97 485.96,62.97 485.96,60.64 489.33,60.64 489.33,59.54 492.7,59.54 492.7,59.35 496.07,59.35 496.07,59.94 499.44,59.94 499.44,61.31 502.81,61.31 502.81,62.83 506.18,62.83 506.18,64.21 509.55,64.21 509.55,65.03 512.92,65.03 512.92,65.58 516.29,65.58 516.29,65.93 519.66,65.93 519.66,66 523.03,66 523.03,66 526.4,66 526.4,66 529.77,66 529.77,65.96 533.14,65.96 533.14,65.67 536.51,65.67 536.51,65.23 539.88,65.23 539.88,64.8 543.25,64.8 543.25,64.3 546.62,64.3 546.62,63.76 549.99,63.76 549.99,63.25 553.36,63.25 553.36,62.75 556.73,62.75 556.73,62.24 560.1,62.24 560.1,61.68 563.47,61.68 563.47,61.07 566.84,61.07 566.84,60.85 570.21,60.85 570.21,60.76 573.58,60.76 573.58,60.69 576.95,60.69 576.95,60.64 580.32,60.64 580.32,60.61 583.69,60.61 583.69,60.6 587.06,60.6 587.06,60.62 590.43,60.62 590.43,60.65 593.8,60.65 593.8,60.71 597.17,60.71 597.17,60.77 600.54,60.77 600.54,60.88 603.91,60.88 603.91,61.1 607.28,61.1 607.28,61.4 610.65,61.4 610.65,61.74 614.02,61.74 614.02,62.07 617.39,62.07 617.39,62.47 620.76,62.47 620.76,62.93 624.13,62.93 624.13,63.37 627.5,63.37 627.5,63.73 630.87,63.73 630.87,63.99 634.24,63.99 634.24,64.19 637.61,64.19 637.61,64.37 640.98,64.37 640.98,64.52 644.35,64.52 644.35,64.65 647.72,64.65 647.72,64.78 651.09,64.78 651.09,64.89 654.46,64.89 654.46,65 657.83,65 657.83,65.09 661.2,65.09 661.2,65.17 664.57,65.17 664.57,65.26 667.94,65.26 667.94,65.34 671.31,65.34 671.31,65.41 674.68,65.41 674.68,65.48 678.05,65.48 678.05,65.55 681.42,65.55 681.42,65.61 684.79,65.61 684.79,65.67 688.16,65.67 688.16,65.72 691.53,65.72 691.53,65.76 694.9,65.76 694.9,65.8 698.27,65.8 698.27,66.5Z" fill="#e31a1c" fill-opacity="0.2" stroke="none"/>
<path clip-path="url(#cBt)" d="M452.26,66.5 452.26,66.5 455.63,66.5 455.63,66.5 459,66.5 459,66.5 462.37,66.5 462.37,66.5 465.74,66.5 465.74,66.5 469.11,66.5 469.11,66.5 472.48,66.5 472.48,66.37 475.85,66.37 475.85,66.01 479.22,66.01 479.22,65.3 482.59,65.3 482.59,65.15 485.96,65.15 485.96,64.3 489.33,64.3 489.33,63.86 492.7,63.86 492.7,62.59 496.07,62.59 496.07,63.17 499.44,63.17 499.44,62.88 502.81,62.88 502.81,63.35 506.18,63.35 506.18,64.03 509.55,64.03 509.55,64.98 512.92,64.98 512.92,65.87 516.29,65.87 516.29,66.23 519.66,66.23 519.66,66.3 523.03,66.3 523.03,66.25 526.4,66.25 526.4,66.16 529.77,66.16 529.77,66.03 533.14,66.03 533.14,65.72 536.51,65.72 536.51,65 539.88,65 539.88,64.45 543.25,64.45 543.25,64.74 546.62,64.74 546.62,63.68 549.99,63.68 549.99,63.43 553.36,63.43 553.36,62.64 556.73,62.64 556.73,60.66 560.1,60.66 560.1,59.41 563.47,59.41 563.47,58.08 566.84,58.08 566.84,58.31 570.21,58.31 570.21,58.13 573.58,58.13 573.58,57.98 576.95,57.98 576.95,57.48 580.32,57.48 580.32,57.42 583.69,57.42 583.69,57.72 587.06,57.72 587.06,57.77 590.43,57.77 590.43,58 593.8,58 593.8,57.74 597.17,57.74 597.17,57.75 600.54,57.75 600.54,57.72 603.91,57.72 603.91,57.91 607.28,57.91 607.28,58.15 610.65,58.15 610.65,58.52 614.02,58.52 614.02,58.81 617.39,58.81 617.39,58.96 620.76,58.96 620.76,59.2 624.13,59.2 624.13,60.11 627.5,60.11 627.5,59.76 630.87,59.76 630.87,60.78 634.24,60.78 634.24,60.36 637.61,60.36 637.61,61.15 640.98,61.15 640.98,61.41 644.35,61.41 644.35,61.15 647.72,61.15 647.72,61.08 651.09,61.08 651.09,61.92 654.46,61.92 654.46,62.39 657.83,62.39 657.83,62.46 661.2,62.46 661.2,62.01 664.57,62.01 664.57,61.93 667.94,61.93 667.94,62.48 671.31,62.48 671.31,62.3 674.68,62.3 674.68,62.67 678.05,62.67 678.05,62.94 681.42,62.94 681.42,62.89 684.79,62.89 684.79,63.6 688.16,63.6 688.16,63.65 691.53,63.65 691.53,63.74 694.9,63.74 694.9,63.84 698.27,63.84 698.27,66.5Z" fill="#fdae61" fill-opacity="0.2" stroke="none"/>
<path clip-path="url(#cBt)" d="M452.26,66.5 452.26,66.5 455.63,66.5 455.63,66.49 459,66.49 459,66.48 462.37,66.48 462.37,66.46 465.74,66.46 465.74,66.43 469.11,66.43 469.11,66.38 472.48,66.38 472.48,66.17 475.85,66.17 475.85,65.81 479.22,65.81 479.22,65.8 482.59,65.8 482.59,65.07 485.96,65.07 485.96,64.08 489.33,64.08 489.33,62.93 492.7,62.93 492.7,62.38 496.07,62.38 496.07,62.6 499.44,62.6 499.44,63 502.81,63 502.81,63.53 506.18,63.53 506.18,64.56 509.55,64.56 509.55,65.35 512.92,65.35 512.92,66.12 516.29,66.12 516.29,66.03 519.66,66.03 519.66,66.1 523.03,66.1 523.03,66.05 526.4,66.05 526.4,65.96 529.77,65.96 529.77,65.83 533.14,65.83 533.14,65.28 536.51,65.28 536.51,65.41 539.88,65.41 539.88,64.63 543.25,64.63 543.25,64.56 546.62,64.56 546.62,64.12 549.99,64.12 549.99,63 553.36,63 553.36,62.47 556.73,62.47 556.73,60.6 560.1,60.6 560.1,60.04 563.47,60.04 563.47,58.66 566.84,58.66 566.84,57.56 570.21,57.56 570.21,57.8 573.58,57.8 573.58,57.6 576.95,57.6 576.95,57.17 580.32,57.17 580.32,57.85 583.69,57.85 583.69,57.5 587.06,57.5 587.06,57.78 590.43,57.78 590.43,57.13 593.8,57.13 593.8,57.35 597.17,57.35 597.17,57.75 600.54,57.75 600.54,57.5 603.91,57.5 603.91,57.54 607.28,57.54 607.28,58.29 610.65,58.29 610.65,58.03 614.02,58.03 614.02,58.62 617.39,58.62 617.39,58.45 620.76,58.45 620.76,58.99 624.13,58.99 624.13,59.41 627.5,59.41 627.5,59.46 630.87,59.46 630.87,59.92 634.24,59.92 634.24,60.58 637.61,60.58 637.61,60.38 640.98,60.38 640.98,60.79 644.35,60.79 644.35,60.87 647.72,60.87 647.72,60.88 651.09,60.88 651.09,61.64 654.46,61.64 654.46,61.66 657.83,61.66 657.83,61.93 661.2,61.93 661.2,62.54 664.57,62.54 664.57,62.13 667.94,62.13 667.94,62.42 671.31,62.42 671.31,62.88 674.68,62.88 674.68,62.55 678.05,62.55 678.05,62.88 681.42,62.88 681.42,63.48 684.79,63.48 684.79,62.84 688.16,62.84 688.16,63.25 691.53,63.25 691.53,63.6 694.9,63.6 694.9,63.65 698.27,63.65 698.27,66.5Z" fill="#a6cee3" fill-opacity="0.2" stroke="none"/>
<path clip-path="url(#cBt)" d="M452.26,66.5 452.26,66.2 455.63,66.2 455.63,66.19 459,66.19 459,66.18 462.37,66.18 462.37,66.16 465.74,66.16 465.74,66.13 469.11,66.13 469.11,66.08 472.48,66.08 472.48,65.87 475.85,65.87 475.85,65.49 479.22,65.49 479.22,65.19 482.59,65.19 482.59,64.65 485.96,64.65 485.96,63.92 489.33,63.92 489.33,63.25 492.7,63.25 492.7,62.6 496.07,62.6 496.07,62.04 499.44,62.04 499.44,62.82 502.81,62.82 502.81,62.92 506.18,62.92 506.18,64.33 509.55,64.33 509.55,64.49 512.92,64.49 512.92,65.07 516.29,65.07 516.29,65.73 519.66,65.73 519.66,65.8 523.03,65.8 523.03,65.75 526.4,65.75 526.4,65.68 529.77,65.68 529.77,65.26 533.14,65.26 533.14,64.73 536.51,64.73 536.51,64.52 539.88,64.52 539.88,63.96 543.25,63.96 543.25,64.23 546.62,64.23 546.62,63.07 549.99,63.07 549.99,62.89 553.36,62.89 553.36,61.74 556.73,61.74 556.73,60.55 560.1,60.55 560.1,58.88 563.47,58.88 563.47,58.08 566.84,58.08 566.84,57.86 570.21,57.86 570.21,57.38 573.58,57.38 573.58,57.48 576.95,57.48 576.95,57.2 580.32,57.2 580.32,57.23 583.69,57.23 583.69,57.26 587.06,57.26 587.06,57.58 590.43,57.58 590.43,57.24 593.8,57.24 593.8,57.09 597.17,57.09 597.17,57.49 600.54,57.49 600.54,57.76 603.91,57.76 603.91,57.27 607.28,57.27 607.28,58.21 610.65,58.21 610.65,57.94 614.02,57.94 614.02,58.55 617.39,58.55 617.39,58.53 620.76,58.53 620.76,59.07 624.13,59.07 624.13,58.67 627.5,58.67 627.5,59.26 630.87,59.26 630.87,60.01 634.24,60.01 634.24,60.14 637.61,60.14 637.61,60.42 640.98,60.42 640.98,60.72 644.35,60.72 644.35,61.03 647.72,61.03 647.72,61.2 651.09,61.2 651.09,60.83 654.46,60.83 654.46,61.57 657.83,61.57 657.83,61.94 661.2,61.94 661.2,61.35 664.57,61.35 664.57,61.77 667.94,61.77 667.94,62.04 671.31,62.04 671.31,62.33 674.68,62.33 674.68,62.47 678.05,62.47 678.05,62.92 681.42,62.92 681.42,63.14 684.79,63.14 684.79,62.67 688.16,62.67 688.16,63.47 691.53,63.47 691.53,63.28 694.9,63.28 694.9,62.97 698.27,62.97 698.27,66.5Z" fill="#1f78b4" fill-opacity="0.2" stroke="none"/>
<path clip-path="url(#cBt)" d="M452.26,66.5 452.26,66.2 455.63,66.2 455.63,66.2 459,66.2 459,60.7 462.37,60.7 462.37,26 465.74,26 465.74,0 469.11,0 469.11,43.4 472.48,43.4 472.48,63.6 475.85,63.6 475.85,65.28 479.22,65.28 479.22,65.14 482.59,65.14 482.59,62.97 485.96,62.97 485.96,60.64 489.33,60.64 489.33,59.54 492.7,59.54 492.7,59.35 496.07,59.35 496.07,59.94 499.44,59.94 499.44,61.31 502.81,61.31 502.81,62.83 506.18,62.83 506.18,64.21 509.55,64.21 509.55,65.03 512.92,65.03 512.92,65.58 516.29,65.58 516.29,65.93 519.66,65.93 519.66,66 523.03,66 523.03,66 526.4,66 526.4,66 529.77,66 529.77,65.96 533.14,65.96 533.14,65.67 536.51,65.67 536.51,65.23 539.88,65.23 539.88,64.8 543.25,64.8 543.25,64.3 546.62,64.3 546.62,63.76 549.99,63.76 549.99,63.25 553.36,63.25 553.36,62.75 556.73,62.75 556.73,62.24 560.1,62.24 560.1,61.68 563.47,61.68 563.47,61.07 566.84,61.07 566.84,60.85 570.21,60.85 570.21,60.76 573.58,60.76 573.58,60.69 576.95,60.69 576.95,60.64 580.32,60.64 580.32,60.61 583.69,60.61 583.69,60.6 587.06,60.6 587.06,60.62 590.43,60.62 590.43,60.65 593.8,60.65 593.8,60.71 597.17,60.71 597.17,60.77 600.54,60.77 600.54,60.88 603.91,60.88 603.91,61.1 607.28,61.1 607.28,61.4 610.65,61.4 610.65,61.74 614.02,61.74 614.02,62.07 617.39,62.07 617.39,62.47 620.76,62.47 620.76,62.93 624.13,62.93 624.13,63.37 627.5,63.37 627.5,63.73 630.87,63.73 630.87,63.99 634.24,63.99 634.24,64.19 637.61,64.19 637.61,64.37 640.98,64.37 640.98,64.52 644.35,64.52 644.35,64.65 647.72,64.65 647.72,64.78 651.09,64.78 651.09,64.89 654.46,64.89 654.46,65 657.83,65 657.83,65.09 661.2,65.09 661.2,65.17 664.57,65.17 664.57,65.26 667.94,65.26 667.94,65.34 671.31,65.34 671.31,65.41 674.68,65.41 674.68,65.48 678.05,65.48 678.05,65.55 681.42,65.55 681.42,65.61 684.79,65.61 684.79,65.67 688.16,65.67 688.16,65.72 691.53,65.72 691.53,65.76 694.9,65.76 694.9,65.8 698.27,65.8 698.27,66.5" fill="none" stroke="#e31a1c" stroke-width="2.0" stroke-linejoin="miter"/>
<path clip-path="url(#cBt)" d="M452.26,66.5 452.26,66.5 455.63,66.5 455.63,66.5 459,66.5 459,66.5 462.37,66.5 462.37,66.5 465.74,66.5 465.74,66.5 469.11,66.5 469.11,66.5 472.48,66.5 472.48,66.37 475.85,66.37 475.85,66.01 479.22,66.01 479.22,65.3 482.59,65.3 482.59,65.15 485.96,65.15 485.96,64.3 489.33,64.3 489.33,63.86 492.7,63.86 492.7,62.59 496.07,62.59 496.07,63.17 499.44,63.17 499.44,62.88 502.81,62.88 502.81,63.35 506.18,63.35 506.18,64.03 509.55,64.03 509.55,64.98 512.92,64.98 512.92,65.87 516.29,65.87 516.29,66.23 519.66,66.23 519.66,66.3 523.03,66.3 523.03,66.25 526.4,66.25 526.4,66.16 529.77,66.16 529.77,66.03 533.14,66.03 533.14,65.72 536.51,65.72 536.51,65 539.88,65 539.88,64.45 543.25,64.45 543.25,64.74 546.62,64.74 546.62,63.68 549.99,63.68 549.99,63.43 553.36,63.43 553.36,62.64 556.73,62.64 556.73,60.66 560.1,60.66 560.1,59.41 563.47,59.41 563.47,58.08 566.84,58.08 566.84,58.31 570.21,58.31 570.21,58.13 573.58,58.13 573.58,57.98 576.95,57.98 576.95,57.48 580.32,57.48 580.32,57.42 583.69,57.42 583.69,57.72 587.06,57.72 587.06,57.77 590.43,57.77 590.43,58 593.8,58 593.8,57.74 597.17,57.74 597.17,57.75 600.54,57.75 600.54,57.72 603.91,57.72 603.91,57.91 607.28,57.91 607.28,58.15 610.65,58.15 610.65,58.52 614.02,58.52 614.02,58.81 617.39,58.81 617.39,58.96 620.76,58.96 620.76,59.2 624.13,59.2 624.13,60.11 627.5,60.11 627.5,59.76 630.87,59.76 630.87,60.78 634.24,60.78 634.24,60.36 637.61,60.36 637.61,61.15 640.98,61.15 640.98,61.41 644.35,61.41 644.35,61.15 647.72,61.15 647.72,61.08 651.09,61.08 651.09,61.92 654.46,61.92 654.46,62.39 657.83,62.39 657.83,62.46 661.2,62.46 661.2,62.01 664.57,62.01 664.57,61.93 667.94,61.93 667.94,62.48 671.31,62.48 671.31,62.3 674.68,62.3 674.68,62.67 678.05,62.67 678.05,62.94 681.42,62.94 681.42,62.89 684.79,62.89 684.79,63.6 688.16,63.6 688.16,63.65 691.53,63.65 691.53,63.74 694.9,63.74 694.9,63.84 698.27,63.84 698.27,66.5" fill="none" stroke="#fdae61" stroke-width="1.7" stroke-linejoin="miter"/>
<path clip-path="url(#cBt)" d="M452.26,66.5 452.26,66.5 455.63,66.5 455.63,66.49 459,66.49 459,66.48 462.37,66.48 462.37,66.46 465.74,66.46 465.74,66.43 469.11,66.43 469.11,66.38 472.48,66.38 472.48,66.17 475.85,66.17 475.85,65.81 479.22,65.81 479.22,65.8 482.59,65.8 482.59,65.07 485.96,65.07 485.96,64.08 489.33,64.08 489.33,62.93 492.7,62.93 492.7,62.38 496.07,62.38 496.07,62.6 499.44,62.6 499.44,63 502.81,63 502.81,63.53 506.18,63.53 506.18,64.56 509.55,64.56 509.55,65.35 512.92,65.35 512.92,66.12 516.29,66.12 516.29,66.03 519.66,66.03 519.66,66.1 523.03,66.1 523.03,66.05 526.4,66.05 526.4,65.96 529.77,65.96 529.77,65.83 533.14,65.83 533.14,65.28 536.51,65.28 536.51,65.41 539.88,65.41 539.88,64.63 543.25,64.63 543.25,64.56 546.62,64.56 546.62,64.12 549.99,64.12 549.99,63 553.36,63 553.36,62.47 556.73,62.47 556.73,60.6 560.1,60.6 560.1,60.04 563.47,60.04 563.47,58.66 566.84,58.66 566.84,57.56 570.21,57.56 570.21,57.8 573.58,57.8 573.58,57.6 576.95,57.6 576.95,57.17 580.32,57.17 580.32,57.85 583.69,57.85 583.69,57.5 587.06,57.5 587.06,57.78 590.43,57.78 590.43,57.13 593.8,57.13 593.8,57.35 597.17,57.35 597.17,57.75 600.54,57.75 600.54,57.5 603.91,57.5 603.91,57.54 607.28,57.54 607.28,58.29 610.65,58.29 610.65,58.03 614.02,58.03 614.02,58.62 617.39,58.62 617.39,58.45 620.76,58.45 620.76,58.99 624.13,58.99 624.13,59.41 627.5,59.41 627.5,59.46 630.87,59.46 630.87,59.92 634.24,59.92 634.24,60.58 637.61,60.58 637.61,60.38 640.98,60.38 640.98,60.79 644.35,60.79 644.35,60.87 647.72,60.87 647.72,60.88 651.09,60.88 651.09,61.64 654.46,61.64 654.46,61.66 657.83,61.66 657.83,61.93 661.2,61.93 661.2,62.54 664.57,62.54 664.57,62.13 667.94,62.13 667.94,62.42 671.31,62.42 671.31,62.88 674.68,62.88 674.68,62.55 678.05,62.55 678.05,62.88 681.42,62.88 681.42,63.48 684.79,63.48 684.79,62.84 688.16,62.84 688.16,63.25 691.53,63.25 691.53,63.6 694.9,63.6 694.9,63.65 698.27,63.65 698.27,66.5" fill="none" stroke="#a6cee3" stroke-width="1.7" stroke-linejoin="miter"/>
<path clip-path="url(#cBt)" d="M452.26,66.5 452.26,66.2 455.63,66.2 455.63,66.19 459,66.19 459,66.18 462.37,66.18 462.37,66.16 465.74,66.16 465.74,66.13 469.11,66.13 469.11,66.08 472.48,66.08 472.48,65.87 475.85,65.87 475.85,65.49 479.22,65.49 479.22,65.19 482.59,65.19 482.59,64.65 485.96,64.65 485.96,63.92 489.33,63.92 489.33,63.25 492.7,63.25 492.7,62.6 496.07,62.6 496.07,62.04 499.44,62.04 499.44,62.82 502.81,62.82 502.81,62.92 506.18,62.92 506.18,64.33 509.55,64.33 509.55,64.49 512.92,64.49 512.92,65.07 516.29,65.07 516.29,65.73 519.66,65.73 519.66,65.8 523.03,65.8 523.03,65.75 526.4,65.75 526.4,65.68 529.77,65.68 529.77,65.26 533.14,65.26 533.14,64.73 536.51,64.73 536.51,64.52 539.88,64.52 539.88,63.96 543.25,63.96 543.25,64.23 546.62,64.23 546.62,63.07 549.99,63.07 549.99,62.89 553.36,62.89 553.36,61.74 556.73,61.74 556.73,60.55 560.1,60.55 560.1,58.88 563.47,58.88 563.47,58.08 566.84,58.08 566.84,57.86 570.21,57.86 570.21,57.38 573.58,57.38 573.58,57.48 576.95,57.48 576.95,57.2 580.32,57.2 580.32,57.23 583.69,57.23 583.69,57.26 587.06,57.26 587.06,57.58 590.43,57.58 590.43,57.24 593.8,57.24 593.8,57.09 597.17,57.09 597.17,57.49 600.54,57.49 600.54,57.76 603.91,57.76 603.91,57.27 607.28,57.27 607.28,58.21 610.65,58.21 610.65,57.94 614.02,57.94 614.02,58.55 617.39,58.55 617.39,58.53 620.76,58.53 620.76,59.07 624.13,59.07 624.13,58.67 627.5,58.67 627.5,59.26 630.87,59.26 630.87,60.01 634.24,60.01 634.24,60.14 637.61,60.14 637.61,60.42 640.98,60.42 640.98,60.72 644.35,60.72 644.35,61.03 647.72,61.03 647.72,61.2 651.09,61.2 651.09,60.83 654.46,60.83 654.46,61.57 657.83,61.57 657.83,61.94 661.2,61.94 661.2,61.35 664.57,61.35 664.57,61.77 667.94,61.77 667.94,62.04 671.31,62.04 671.31,62.33 674.68,62.33 674.68,62.47 678.05,62.47 678.05,62.92 681.42,62.92 681.42,63.14 684.79,63.14 684.79,62.67 688.16,62.67 688.16,63.47 691.53,63.47 691.53,63.28 694.9,63.28 694.9,62.97 698.27,62.97 698.27,66.5" fill="none" stroke="#1f78b4" stroke-width="2.0" stroke-linejoin="miter"/>
<line x1="463.6" y1="7.8" x2="463.6" y2="66.5" stroke="#e31a1c" stroke-width="1.0" stroke-dasharray="3.2,1.3"/>
<line x1="636.8" y1="7.8" x2="636.8" y2="66.5" stroke="#e31a1c" stroke-width="1.0" stroke-dasharray="3.2,1.3"/>
<line x1="494.9" y1="7.8" x2="494.9" y2="66.5" stroke="#fdae61" stroke-width="1.0" stroke-dasharray="3.2,1.3"/>
<line x1="678" y1="7.8" x2="678" y2="66.5" stroke="#fdae61" stroke-width="1.0" stroke-dasharray="3.2,1.3"/>
<line x1="496.2" y1="7.8" x2="496.2" y2="66.5" stroke="#a6cee3" stroke-width="1.0" stroke-dasharray="3.2,1.3"/>
<line x1="677.6" y1="7.8" x2="677.6" y2="66.5" stroke="#a6cee3" stroke-width="1.0" stroke-dasharray="3.2,1.3"/>
<line x1="497.6" y1="7.8" x2="497.6" y2="66.5" stroke="#1f78b4" stroke-width="1.0" stroke-dasharray="3.2,1.3"/>
<line x1="679.3" y1="7.8" x2="679.3" y2="66.5" stroke="#1f78b4" stroke-width="1.0" stroke-dasharray="3.2,1.3"/>
<path clip-path="url(#cBr)" d="M696.8,65.45 696.8,65.45 696.8,68.4 697,68.4 697,71.35 697,71.35 697,74.3 697,74.3 697,77.25 697,77.25 697,80.2 697,80.2 697,83.15 697,83.15 697,86.1 697,86.1 697,89.05 697,89.05 697,92 697,92 697,94.95 697,94.95 697,97.9 697,97.9 697,100.85 697,100.85 697,103.8 697,103.8 697,106.75 697,106.75 697,109.7 697,109.7 697,112.65 697,112.65 697,115.6 697,115.6 697,118.55 697.09,118.55 697.09,121.5 697.47,121.5 697.47,124.45 698.06,124.45 698.06,127.4 698.74,127.4 698.74,130.35 699.5,130.35 699.5,133.3 700.57,133.3 700.57,136.25 701.72,136.25 701.72,139.2 702.7,139.2 702.7,142.15 703.58,142.15 703.58,145.1 704.38,145.1 704.38,148.05 705.1,148.05 705.1,151 705.74,151 705.74,153.95 706.35,153.95 706.35,156.9 706.83,156.9 706.83,159.85 707.1,159.85 707.1,162.8 707.31,162.8 707.31,165.75 707.45,165.75 707.45,168.7 707.5,168.7 707.5,171.65 707.46,171.65 707.46,174.6 707.37,174.6 707.37,177.55 707.24,177.55 707.24,180.5 707.11,180.5 707.11,183.45 707,183.45 707,186.4 706.9,186.4 706.9,189.35 706.79,189.35 706.79,192.3 706.67,192.3 706.67,195.25 706.56,195.25 706.56,198.2 706.48,198.2 706.48,201.15 706.42,201.15 706.42,204.1 706.4,204.1 706.4,207.05 706.52,207.05 706.52,210 706.81,210 706.81,212.95 707.24,212.95 707.24,215.9 707.87,215.9 707.87,218.85 709.19,218.85 709.19,221.8 710.58,221.8 710.58,224.75 712.04,224.75 712.04,227.7 714.2,227.7 714.2,230.65 719.36,230.65 719.36,233.6 724.3,233.6 724.3,236.55 730.66,236.55 730.66,239.5 737.15,239.5 737.15,242.45 743.71,242.45 743.71,245.4 748.96,245.4 748.96,248.35 749.34,248.35 749.34,251.3 740.5,251.3 740.5,254.25 729.96,254.25 729.96,257.2 720.78,257.2 720.78,260.15 709.62,260.15 709.62,263.1 703.72,263.1 703.72,266.05 701.4,266.05 701.4,269 699.63,269 699.63,271.95 698.4,271.95 698.4,274.9 697.87,274.9 697.87,277.85 697.55,277.85 697.55,280.8 697.36,280.8 697.36,283.75 697.23,283.75 697.23,286.7 697.13,286.7 697.13,289.65 697.09,289.65 697.09,292.6 697.06,292.6 697.06,295.55 697.03,295.55 697.03,298.5 697.01,298.5 697.01,301.45 697,301.45 697,304.4 696.8,304.4Z" fill="#e31a1c" fill-opacity="0.2" stroke="none"/>
<path clip-path="url(#cBr)" d="M696.8,65.45 696.8,65.45 696.8,68.4 697,68.4 697,71.35 697.01,71.35 697.01,74.3 697.02,74.3 697.02,77.25 697.03,77.25 697.03,80.2 697.05,80.2 697.05,83.15 697.07,83.15 697.07,86.1 697.1,86.1 697.1,89.05 697.14,89.05 697.14,92 697.18,92 697.18,94.95 697.26,94.95 697.26,97.9 697.59,97.9 697.59,100.85 698.02,100.85 698.02,103.8 698.34,103.8 698.34,106.75 698.79,106.75 698.79,109.7 699.82,109.7 699.82,112.65 700.1,112.65 700.1,115.6 700.44,115.6 700.44,118.55 700.73,118.55 700.73,121.5 701.99,121.5 701.99,124.45 703.23,124.45 703.23,127.4 703.4,127.4 703.4,130.35 704.97,130.35 704.97,133.3 706.01,133.3 706.01,136.25 708.08,136.25 708.08,139.2 709.26,139.2 709.26,142.15 710.43,142.15 710.43,145.1 711.68,145.1 711.68,148.05 713.79,148.05 713.79,151 715.18,151 715.18,153.95 717.17,153.95 717.17,156.9 717.14,156.9 717.14,159.85 719.04,159.85 719.04,162.8 720.28,162.8 720.28,165.75 720.11,165.75 720.11,168.7 719.53,168.7 719.53,171.65 719.38,171.65 719.38,174.6 719.16,174.6 719.16,177.55 719.33,177.55 719.33,180.5 718.34,180.5 718.34,183.45 716.9,183.45 716.9,186.4 716.78,186.4 716.78,189.35 715.25,189.35 715.25,192.3 714.97,192.3 714.97,195.25 714.69,195.25 714.69,198.2 713.94,198.2 713.94,201.15 713.19,201.15 713.19,204.1 713.31,204.1 713.31,207.05 713.3,207.05 713.3,210 714.3,210 714.3,212.95 713.4,212.95 713.4,215.9 713.74,215.9 713.74,218.85 714.44,218.85 714.44,221.8 713.84,221.8 713.84,224.75 713.6,224.75 713.6,227.7 713.61,227.7 713.61,230.65 712.11,230.65 712.11,233.6 712.04,233.6 712.04,236.55 711.57,236.55 711.57,239.5 710.93,239.5 710.93,242.45 709.89,242.45 709.89,245.4 709.51,245.4 709.51,248.35 709.1,248.35 709.1,251.3 707.42,251.3 707.42,254.25 706.37,254.25 706.37,257.2 703.91,257.2 703.91,260.15 703.25,260.15 703.25,263.1 702.17,263.1 702.17,266.05 701.51,266.05 701.51,269 700.14,269 700.14,271.95 700.09,271.95 700.09,274.9 699.12,274.9 699.12,277.85 698.56,277.85 698.56,280.8 698.15,280.8 698.15,283.75 698.07,283.75 698.07,286.7 698.19,286.7 698.19,289.65 697.45,289.65 697.45,292.6 697.32,292.6 697.32,295.55 697.23,295.55 697.23,298.5 697.2,298.5 697.2,301.45 696.8,301.45 696.8,304.4 696.8,304.4Z" fill="#fdae61" fill-opacity="0.2" stroke="none"/>
<path clip-path="url(#cBr)" d="M696.8,65.45 696.8,65.45 696.8,68.4 697,68.4 697,71.35 697.01,71.35 697.01,74.3 697.02,74.3 697.02,77.25 697.03,77.25 697.03,80.2 697.05,80.2 697.05,83.15 697.07,83.15 697.07,86.1 697.1,86.1 697.1,89.05 697.14,89.05 697.14,92 697.18,92 697.18,94.95 697.27,94.95 697.27,97.9 698.01,97.9 698.01,100.85 698.93,100.85 698.93,103.8 699.06,103.8 699.06,106.75 699.51,106.75 699.51,109.7 700.5,109.7 700.5,112.65 700.87,112.65 700.87,115.6 700.67,115.6 700.67,118.55 702.23,118.55 702.23,121.5 702.45,121.5 702.45,124.45 702.66,124.45 702.66,127.4 703.62,127.4 703.62,130.35 705.17,130.35 705.17,133.3 707.21,133.3 707.21,136.25 707.7,136.25 707.7,139.2 709.81,139.2 709.81,142.15 710.79,142.15 710.79,145.1 712.64,145.1 712.64,148.05 713.95,148.05 713.95,151 715.11,151 715.11,153.95 717.38,153.95 717.38,156.9 718.23,156.9 718.23,159.85 719.89,159.85 719.89,162.8 720.75,162.8 720.75,165.75 720.93,165.75 720.93,168.7 720.34,168.7 720.34,171.65 720.62,171.65 720.62,174.6 719.59,174.6 719.59,177.55 719.5,177.55 719.5,180.5 718.59,180.5 718.59,183.45 717.45,183.45 717.45,186.4 717.18,186.4 717.18,189.35 715.78,189.35 715.78,192.3 715.09,192.3 715.09,195.25 715.08,195.25 715.08,198.2 714.77,198.2 714.77,201.15 714.04,201.15 714.04,204.1 713.66,204.1 713.66,207.05 714.31,207.05 714.31,210 713.7,210 713.7,212.95 714.77,212.95 714.77,215.9 713.97,215.9 713.97,218.85 713.9,218.85 713.9,221.8 714.6,221.8 714.6,224.75 713.83,224.75 713.83,227.7 712.99,227.7 712.99,230.65 712.99,230.65 712.99,233.6 712.96,233.6 712.96,236.55 712.36,236.55 712.36,239.5 711.44,239.5 711.44,242.45 710.59,242.45 710.59,245.4 709.84,245.4 709.84,248.35 709.72,248.35 709.72,251.3 708.16,251.3 708.16,254.25 706.9,254.25 706.9,257.2 704.24,257.2 704.24,260.15 703.31,260.15 703.31,263.1 702.87,263.1 702.87,266.05 701.53,266.05 701.53,269 700.7,269 700.7,271.95 700.11,271.95 700.11,274.9 700.02,274.9 700.02,277.85 699.07,277.85 699.07,280.8 698.62,280.8 698.62,283.75 697.81,283.75 697.81,286.7 698.21,286.7 698.21,289.65 697.45,289.65 697.45,292.6 697.32,292.6 697.32,295.55 697.23,295.55 697.23,298.5 697.2,298.5 697.2,301.45 696.8,301.45 696.8,304.4 696.8,304.4Z" fill="#a6cee3" fill-opacity="0.2" stroke="none"/>
<path clip-path="url(#cBr)" d="M696.8,65.45 696.8,65.45 696.8,68.4 697,68.4 697,71.35 697.01,71.35 697.01,74.3 697.02,74.3 697.02,77.25 697.03,77.25 697.03,80.2 697.05,80.2 697.05,83.15 697.08,83.15 697.08,86.1 697.11,86.1 697.11,89.05 697.14,89.05 697.14,92 697.18,92 697.18,94.95 697.24,94.95 697.24,97.9 697.45,97.9 697.45,100.85 697.49,100.85 697.49,103.8 697.89,103.8 697.89,106.75 697.99,106.75 697.99,109.7 699.06,109.7 699.06,112.65 699.2,112.65 699.2,115.6 700.12,115.6 700.12,118.55 700.37,118.55 700.37,121.5 701.35,121.5 701.35,124.45 702.18,124.45 702.18,127.4 702.38,127.4 702.38,130.35 704.47,130.35 704.47,133.3 705.78,133.3 705.78,136.25 707.15,136.25 707.15,139.2 708.56,139.2 708.56,142.15 709.49,142.15 709.49,145.1 711.13,145.1 711.13,148.05 712.89,148.05 712.89,151 714.84,151 714.84,153.95 715.86,153.95 715.86,156.9 717.31,156.9 717.31,159.85 718.5,159.85 718.5,162.8 719.58,162.8 719.58,165.75 719.22,165.75 719.22,168.7 719.03,168.7 719.03,171.65 719.22,171.65 719.22,174.6 719.28,174.6 719.28,177.55 717.54,177.55 717.54,180.5 717.02,180.5 717.02,183.45 716.89,183.45 716.89,186.4 715.93,186.4 715.93,189.35 714.36,189.35 714.36,192.3 714.25,192.3 714.25,195.25 714.06,195.25 714.06,198.2 712.92,198.2 712.92,201.15 712.58,201.15 712.58,204.1 712.49,204.1 712.49,207.05 713.44,207.05 713.44,210 712.58,210 712.58,212.95 713.13,212.95 713.13,215.9 712.85,215.9 712.85,218.85 713.16,218.85 713.16,221.8 713.14,221.8 713.14,224.75 712.1,224.75 712.1,227.7 712.58,227.7 712.58,230.65 711.77,230.65 711.77,233.6 710.78,233.6 710.78,236.55 710.58,236.55 710.58,239.5 710.25,239.5 710.25,242.45 709.68,242.45 709.68,245.4 708.39,245.4 708.39,248.35 707.65,248.35 707.65,251.3 706.99,251.3 706.99,254.25 704.88,254.25 704.88,257.2 703.14,257.2 703.14,260.15 702.9,260.15 702.9,263.1 701.4,263.1 701.4,266.05 700.62,266.05 700.62,269 700.11,269 700.11,271.95 698.69,271.95 698.69,274.9 698.05,274.9 698.05,277.85 698.11,277.85 698.11,280.8 698.07,280.8 698.07,283.75 697.65,283.75 697.65,286.7 697.57,286.7 697.57,289.65 697.46,289.65 697.46,292.6 697.35,292.6 697.35,295.55 697.26,295.55 697.26,298.5 697.2,298.5 697.2,301.45 696.8,301.45 696.8,304.4 696.8,304.4Z" fill="#1f78b4" fill-opacity="0.2" stroke="none"/>
<path clip-path="url(#cBr)" d="M696.8,65.45 696.8,65.45 696.8,68.4 697,68.4 697,71.35 697,71.35 697,74.3 697,74.3 697,77.25 697,77.25 697,80.2 697,80.2 697,83.15 697,83.15 697,86.1 697,86.1 697,89.05 697,89.05 697,92 697,92 697,94.95 697,94.95 697,97.9 697,97.9 697,100.85 697,100.85 697,103.8 697,103.8 697,106.75 697,106.75 697,109.7 697,109.7 697,112.65 697,112.65 697,115.6 697,115.6 697,118.55 697.09,118.55 697.09,121.5 697.47,121.5 697.47,124.45 698.06,124.45 698.06,127.4 698.74,127.4 698.74,130.35 699.5,130.35 699.5,133.3 700.57,133.3 700.57,136.25 701.72,136.25 701.72,139.2 702.7,139.2 702.7,142.15 703.58,142.15 703.58,145.1 704.38,145.1 704.38,148.05 705.1,148.05 705.1,151 705.74,151 705.74,153.95 706.35,153.95 706.35,156.9 706.83,156.9 706.83,159.85 707.1,159.85 707.1,162.8 707.31,162.8 707.31,165.75 707.45,165.75 707.45,168.7 707.5,168.7 707.5,171.65 707.46,171.65 707.46,174.6 707.37,174.6 707.37,177.55 707.24,177.55 707.24,180.5 707.11,180.5 707.11,183.45 707,183.45 707,186.4 706.9,186.4 706.9,189.35 706.79,189.35 706.79,192.3 706.67,192.3 706.67,195.25 706.56,195.25 706.56,198.2 706.48,198.2 706.48,201.15 706.42,201.15 706.42,204.1 706.4,204.1 706.4,207.05 706.52,207.05 706.52,210 706.81,210 706.81,212.95 707.24,212.95 707.24,215.9 707.87,215.9 707.87,218.85 709.19,218.85 709.19,221.8 710.58,221.8 710.58,224.75 712.04,224.75 712.04,227.7 714.2,227.7 714.2,230.65 719.36,230.65 719.36,233.6 724.3,233.6 724.3,236.55 730.66,236.55 730.66,239.5 737.15,239.5 737.15,242.45 743.71,242.45 743.71,245.4 748.96,245.4 748.96,248.35 749.34,248.35 749.34,251.3 740.5,251.3 740.5,254.25 729.96,254.25 729.96,257.2 720.78,257.2 720.78,260.15 709.62,260.15 709.62,263.1 703.72,263.1 703.72,266.05 701.4,266.05 701.4,269 699.63,269 699.63,271.95 698.4,271.95 698.4,274.9 697.87,274.9 697.87,277.85 697.55,277.85 697.55,280.8 697.36,280.8 697.36,283.75 697.23,283.75 697.23,286.7 697.13,286.7 697.13,289.65 697.09,289.65 697.09,292.6 697.06,292.6 697.06,295.55 697.03,295.55 697.03,298.5 697.01,298.5 697.01,301.45 697,301.45 697,304.4 696.8,304.4" fill="none" stroke="#e31a1c" stroke-width="2.0" stroke-linejoin="miter"/>
<path clip-path="url(#cBr)" d="M696.8,65.45 696.8,65.45 696.8,68.4 697,68.4 697,71.35 697.01,71.35 697.01,74.3 697.02,74.3 697.02,77.25 697.03,77.25 697.03,80.2 697.05,80.2 697.05,83.15 697.07,83.15 697.07,86.1 697.1,86.1 697.1,89.05 697.14,89.05 697.14,92 697.18,92 697.18,94.95 697.26,94.95 697.26,97.9 697.59,97.9 697.59,100.85 698.02,100.85 698.02,103.8 698.34,103.8 698.34,106.75 698.79,106.75 698.79,109.7 699.82,109.7 699.82,112.65 700.1,112.65 700.1,115.6 700.44,115.6 700.44,118.55 700.73,118.55 700.73,121.5 701.99,121.5 701.99,124.45 703.23,124.45 703.23,127.4 703.4,127.4 703.4,130.35 704.97,130.35 704.97,133.3 706.01,133.3 706.01,136.25 708.08,136.25 708.08,139.2 709.26,139.2 709.26,142.15 710.43,142.15 710.43,145.1 711.68,145.1 711.68,148.05 713.79,148.05 713.79,151 715.18,151 715.18,153.95 717.17,153.95 717.17,156.9 717.14,156.9 717.14,159.85 719.04,159.85 719.04,162.8 720.28,162.8 720.28,165.75 720.11,165.75 720.11,168.7 719.53,168.7 719.53,171.65 719.38,171.65 719.38,174.6 719.16,174.6 719.16,177.55 719.33,177.55 719.33,180.5 718.34,180.5 718.34,183.45 716.9,183.45 716.9,186.4 716.78,186.4 716.78,189.35 715.25,189.35 715.25,192.3 714.97,192.3 714.97,195.25 714.69,195.25 714.69,198.2 713.94,198.2 713.94,201.15 713.19,201.15 713.19,204.1 713.31,204.1 713.31,207.05 713.3,207.05 713.3,210 714.3,210 714.3,212.95 713.4,212.95 713.4,215.9 713.74,215.9 713.74,218.85 714.44,218.85 714.44,221.8 713.84,221.8 713.84,224.75 713.6,224.75 713.6,227.7 713.61,227.7 713.61,230.65 712.11,230.65 712.11,233.6 712.04,233.6 712.04,236.55 711.57,236.55 711.57,239.5 710.93,239.5 710.93,242.45 709.89,242.45 709.89,245.4 709.51,245.4 709.51,248.35 709.1,248.35 709.1,251.3 707.42,251.3 707.42,254.25 706.37,254.25 706.37,257.2 703.91,257.2 703.91,260.15 703.25,260.15 703.25,263.1 702.17,263.1 702.17,266.05 701.51,266.05 701.51,269 700.14,269 700.14,271.95 700.09,271.95 700.09,274.9 699.12,274.9 699.12,277.85 698.56,277.85 698.56,280.8 698.15,280.8 698.15,283.75 698.07,283.75 698.07,286.7 698.19,286.7 698.19,289.65 697.45,289.65 697.45,292.6 697.32,292.6 697.32,295.55 697.23,295.55 697.23,298.5 697.2,298.5 697.2,301.45 696.8,301.45 696.8,304.4 696.8,304.4" fill="none" stroke="#fdae61" stroke-width="1.7" stroke-linejoin="miter"/>
<path clip-path="url(#cBr)" d="M696.8,65.45 696.8,65.45 696.8,68.4 697,68.4 697,71.35 697.01,71.35 697.01,74.3 697.02,74.3 697.02,77.25 697.03,77.25 697.03,80.2 697.05,80.2 697.05,83.15 697.07,83.15 697.07,86.1 697.1,86.1 697.1,89.05 697.14,89.05 697.14,92 697.18,92 697.18,94.95 697.27,94.95 697.27,97.9 698.01,97.9 698.01,100.85 698.93,100.85 698.93,103.8 699.06,103.8 699.06,106.75 699.51,106.75 699.51,109.7 700.5,109.7 700.5,112.65 700.87,112.65 700.87,115.6 700.67,115.6 700.67,118.55 702.23,118.55 702.23,121.5 702.45,121.5 702.45,124.45 702.66,124.45 702.66,127.4 703.62,127.4 703.62,130.35 705.17,130.35 705.17,133.3 707.21,133.3 707.21,136.25 707.7,136.25 707.7,139.2 709.81,139.2 709.81,142.15 710.79,142.15 710.79,145.1 712.64,145.1 712.64,148.05 713.95,148.05 713.95,151 715.11,151 715.11,153.95 717.38,153.95 717.38,156.9 718.23,156.9 718.23,159.85 719.89,159.85 719.89,162.8 720.75,162.8 720.75,165.75 720.93,165.75 720.93,168.7 720.34,168.7 720.34,171.65 720.62,171.65 720.62,174.6 719.59,174.6 719.59,177.55 719.5,177.55 719.5,180.5 718.59,180.5 718.59,183.45 717.45,183.45 717.45,186.4 717.18,186.4 717.18,189.35 715.78,189.35 715.78,192.3 715.09,192.3 715.09,195.25 715.08,195.25 715.08,198.2 714.77,198.2 714.77,201.15 714.04,201.15 714.04,204.1 713.66,204.1 713.66,207.05 714.31,207.05 714.31,210 713.7,210 713.7,212.95 714.77,212.95 714.77,215.9 713.97,215.9 713.97,218.85 713.9,218.85 713.9,221.8 714.6,221.8 714.6,224.75 713.83,224.75 713.83,227.7 712.99,227.7 712.99,230.65 712.99,230.65 712.99,233.6 712.96,233.6 712.96,236.55 712.36,236.55 712.36,239.5 711.44,239.5 711.44,242.45 710.59,242.45 710.59,245.4 709.84,245.4 709.84,248.35 709.72,248.35 709.72,251.3 708.16,251.3 708.16,254.25 706.9,254.25 706.9,257.2 704.24,257.2 704.24,260.15 703.31,260.15 703.31,263.1 702.87,263.1 702.87,266.05 701.53,266.05 701.53,269 700.7,269 700.7,271.95 700.11,271.95 700.11,274.9 700.02,274.9 700.02,277.85 699.07,277.85 699.07,280.8 698.62,280.8 698.62,283.75 697.81,283.75 697.81,286.7 698.21,286.7 698.21,289.65 697.45,289.65 697.45,292.6 697.32,292.6 697.32,295.55 697.23,295.55 697.23,298.5 697.2,298.5 697.2,301.45 696.8,301.45 696.8,304.4 696.8,304.4" fill="none" stroke="#a6cee3" stroke-width="1.7" stroke-linejoin="miter"/>
<path clip-path="url(#cBr)" d="M696.8,65.45 696.8,65.45 696.8,68.4 697,68.4 697,71.35 697.01,71.35 697.01,74.3 697.02,74.3 697.02,77.25 697.03,77.25 697.03,80.2 697.05,80.2 697.05,83.15 697.08,83.15 697.08,86.1 697.11,86.1 697.11,89.05 697.14,89.05 697.14,92 697.18,92 697.18,94.95 697.24,94.95 697.24,97.9 697.45,97.9 697.45,100.85 697.49,100.85 697.49,103.8 697.89,103.8 697.89,106.75 697.99,106.75 697.99,109.7 699.06,109.7 699.06,112.65 699.2,112.65 699.2,115.6 700.12,115.6 700.12,118.55 700.37,118.55 700.37,121.5 701.35,121.5 701.35,124.45 702.18,124.45 702.18,127.4 702.38,127.4 702.38,130.35 704.47,130.35 704.47,133.3 705.78,133.3 705.78,136.25 707.15,136.25 707.15,139.2 708.56,139.2 708.56,142.15 709.49,142.15 709.49,145.1 711.13,145.1 711.13,148.05 712.89,148.05 712.89,151 714.84,151 714.84,153.95 715.86,153.95 715.86,156.9 717.31,156.9 717.31,159.85 718.5,159.85 718.5,162.8 719.58,162.8 719.58,165.75 719.22,165.75 719.22,168.7 719.03,168.7 719.03,171.65 719.22,171.65 719.22,174.6 719.28,174.6 719.28,177.55 717.54,177.55 717.54,180.5 717.02,180.5 717.02,183.45 716.89,183.45 716.89,186.4 715.93,186.4 715.93,189.35 714.36,189.35 714.36,192.3 714.25,192.3 714.25,195.25 714.06,195.25 714.06,198.2 712.92,198.2 712.92,201.15 712.58,201.15 712.58,204.1 712.49,204.1 712.49,207.05 713.44,207.05 713.44,210 712.58,210 712.58,212.95 713.13,212.95 713.13,215.9 712.85,215.9 712.85,218.85 713.16,218.85 713.16,221.8 713.14,221.8 713.14,224.75 712.1,224.75 712.1,227.7 712.58,227.7 712.58,230.65 711.77,230.65 711.77,233.6 710.78,233.6 710.78,236.55 710.58,236.55 710.58,239.5 710.25,239.5 710.25,242.45 709.68,242.45 709.68,245.4 708.39,245.4 708.39,248.35 707.65,248.35 707.65,251.3 706.99,251.3 706.99,254.25 704.88,254.25 704.88,257.2 703.14,257.2 703.14,260.15 702.9,260.15 702.9,263.1 701.4,263.1 701.4,266.05 700.62,266.05 700.62,269 700.11,269 700.11,271.95 698.69,271.95 698.69,274.9 698.05,274.9 698.05,277.85 698.11,277.85 698.11,280.8 698.07,280.8 698.07,283.75 697.65,283.75 697.65,286.7 697.57,286.7 697.57,289.65 697.46,289.65 697.46,292.6 697.35,292.6 697.35,295.55 697.26,295.55 697.26,298.5 697.2,298.5 697.2,301.45 696.8,301.45 696.8,304.4 696.8,304.4" fill="none" stroke="#1f78b4" stroke-width="2.0" stroke-linejoin="miter"/>
<line x1="696.8" y1="148.6" x2="757.6" y2="148.6" stroke="#e31a1c" stroke-width="1.0" stroke-dasharray="3.2,1.3"/>
<line x1="696.8" y1="263" x2="757.6" y2="263" stroke="#e31a1c" stroke-width="1.0" stroke-dasharray="3.2,1.3"/>
<line x1="696.8" y1="131.5" x2="757.6" y2="131.5" stroke="#fdae61" stroke-width="1.0" stroke-dasharray="3.2,1.3"/>
<line x1="696.8" y1="257.9" x2="757.6" y2="257.9" stroke="#fdae61" stroke-width="1.0" stroke-dasharray="3.2,1.3"/>
<line x1="696.8" y1="133.2" x2="757.6" y2="133.2" stroke="#a6cee3" stroke-width="1.0" stroke-dasharray="3.2,1.3"/>
<line x1="696.8" y1="257.7" x2="757.6" y2="257.7" stroke="#a6cee3" stroke-width="1.0" stroke-dasharray="3.2,1.3"/>
<line x1="696.8" y1="128" x2="757.6" y2="128" stroke="#1f78b4" stroke-width="1.0" stroke-dasharray="3.2,1.3"/>
<line x1="696.8" y1="257.6" x2="757.6" y2="257.6" stroke="#1f78b4" stroke-width="1.0" stroke-dasharray="3.2,1.3"/>
<path d="M457.7,304.3v1.8M462.8,304.3v1.8M467.9,304.3v1.8M473,304.3v1.8M478.1,304.3v1.8M483.2,304.3v1.8M488.3,304.3v1.8M498.5,304.3v1.8M503.6,304.3v1.8M508.7,304.3v1.8M513.8,304.3v1.8M518.9,304.3v1.8M524,304.3v1.8M529.1,304.3v1.8M534.2,304.3v1.8M539.3,304.3v1.8M549.5,304.3v1.8M554.6,304.3v1.8M559.7,304.3v1.8M564.8,304.3v1.8M569.9,304.3v1.8M575,304.3v1.8M580.1,304.3v1.8M585.2,304.3v1.8M590.3,304.3v1.8M600.5,304.3v1.8M605.6,304.3v1.8M610.7,304.3v1.8M615.8,304.3v1.8M620.9,304.3v1.8M626,304.3v1.8M631.1,304.3v1.8M636.2,304.3v1.8M641.3,304.3v1.8M651.5,304.3v1.8M656.6,304.3v1.8M661.7,304.3v1.8M666.8,304.3v1.8M671.9,304.3v1.8M677,304.3v1.8M682.1,304.3v1.8M687.2,304.3v1.8M692.3,304.3v1.8" stroke="#555" stroke-width="0.8"/>
<path d="M493.4,304.3v3M544.4,304.3v3M595.4,304.3v3M646.4,304.3v3" stroke="#555" stroke-width="0.8"/>
<path d="M453.4,301.2h-1.8M453.4,295.58h-1.8M453.4,289.97h-1.8M453.4,284.35h-1.8M453.4,278.74h-1.8M453.4,273.12h-1.8M453.4,267.5h-1.8M453.4,261.89h-1.8M453.4,256.27h-1.8M453.4,250.66h-1.8M453.4,245.04h-1.8M453.4,239.42h-1.8M453.4,233.81h-1.8M453.4,228.19h-1.8M453.4,222.58h-1.8M453.4,216.96h-1.8M453.4,211.34h-1.8M453.4,205.73h-1.8M453.4,200.11h-1.8M453.4,194.5h-1.8M453.4,188.88h-1.8M453.4,183.26h-1.8M453.4,177.65h-1.8M453.4,172.03h-1.8M453.4,166.42h-1.8M453.4,160.8h-1.8M453.4,155.18h-1.8M453.4,149.57h-1.8M453.4,143.95h-1.8M453.4,138.34h-1.8M453.4,132.72h-1.8M453.4,127.1h-1.8M453.4,121.49h-1.8M453.4,115.87h-1.8M453.4,110.26h-1.8M453.4,104.64h-1.8M453.4,99.02h-1.8M453.4,93.41h-1.8M453.4,87.79h-1.8M453.4,82.18h-1.8M453.4,76.56h-1.8M453.4,70.94h-1.8" stroke="#555" stroke-width="0.8"/>
<path d="M453.4,287.16h-3M453.4,259.08h-3M453.4,231h-3M453.4,202.92h-3M453.4,174.84h-3M453.4,146.76h-3M453.4,118.68h-3M453.4,90.6h-3" stroke="#555" stroke-width="0.8"/>
<path d="M453.4,8.2h-1.6M453.4,12.5h-1.6M453.4,16.8h-1.6M453.4,21.1h-1.6M453.4,25.4h-1.6M453.4,29.7h-1.6M453.4,34h-1.6M453.4,38.3h-1.6M453.4,42.6h-1.6M453.4,46.9h-1.6M453.4,51.2h-1.6M453.4,55.5h-1.6M453.4,59.8h-1.6M453.4,64.1h-1.6" stroke="#555" stroke-width="0.8"/>
<path d="M702.9,304.3v1.8M709,304.3v1.8M715.1,304.3v1.8M721.2,304.3v1.8M727.3,304.3v1.8M733.4,304.3v1.8M739.5,304.3v1.8M745.6,304.3v1.8M751.7,304.3v1.8" stroke="#555" stroke-width="0.8"/>
<path d="M729.2,304.3v3" stroke="#555" stroke-width="0.8"/>
<text x="493.4" y="317.3" font-size="11.2" fill="#262626" text-anchor="middle" textLength="17.2" lengthAdjust="spacingAndGlyphs">0.2</text>
<text x="544.4" y="317.3" font-size="11.2" fill="#262626" text-anchor="middle" textLength="17.2" lengthAdjust="spacingAndGlyphs">0.4</text>
<text x="595.4" y="317.3" font-size="11.2" fill="#262626" text-anchor="middle" textLength="17.2" lengthAdjust="spacingAndGlyphs">0.6</text>
<text x="646.4" y="317.3" font-size="11.2" fill="#262626" text-anchor="middle" textLength="17.2" lengthAdjust="spacingAndGlyphs">0.8</text>
<text x="448.4" y="94.6" font-size="11.2" fill="#262626" text-anchor="end" textLength="17.2" lengthAdjust="spacingAndGlyphs">0.6</text>
<text x="448.4" y="122.68" font-size="11.2" fill="#262626" text-anchor="end" textLength="17.2" lengthAdjust="spacingAndGlyphs">0.4</text>
<text x="448.4" y="150.76" font-size="11.2" fill="#262626" text-anchor="end" textLength="17.2" lengthAdjust="spacingAndGlyphs">0.2</text>
<text x="448.4" y="178.84" font-size="11.2" fill="#262626" text-anchor="end" textLength="17.2" lengthAdjust="spacingAndGlyphs">0.0</text>
<text x="448.4" y="206.92" font-size="11.2" fill="#262626" text-anchor="end" textLength="25.6" lengthAdjust="spacingAndGlyphs">−0.2</text>
<text x="448.4" y="235" font-size="11.2" fill="#262626" text-anchor="end" textLength="25.6" lengthAdjust="spacingAndGlyphs">−0.4</text>
<text x="448.4" y="263.08" font-size="11.2" fill="#262626" text-anchor="end" textLength="25.6" lengthAdjust="spacingAndGlyphs">−0.6</text>
<text x="448.4" y="291.16" font-size="11.2" fill="#262626" text-anchor="end" textLength="25.6" lengthAdjust="spacingAndGlyphs">−0.8</text>
<text x="574.3" y="332.5" font-size="14" fill="#262626" text-anchor="middle">q</text>
<g transform="translate(413.2,186) rotate(-90)"><text class="sf" x="-9" y="0" font-size="13" fill="#262626" font-style="italic">χ</text><text class="sf" x="-1.8" y="2.6" font-size="9" fill="#262626">eff</text></g>
<clipPath id="cP1"><rect x="23.2" y="352.6" width="202.4" height="131.7"/></clipPath>
<clipPath id="cP2"><rect x="265.6" y="352.6" width="202.6" height="131.7"/></clipPath>
<clipPath id="cP3"><rect x="496.8" y="345" width="213.7" height="138.7"/></clipPath>
<path clip-path="url(#cP1)" d="M16.9,484.3 16.9,484.3 17.63,484.3 18.36,484.3 19.09,484.3 19.81,484.3 20.54,484.3 21.27,484.3 22,484.3 22.73,484.29 23.46,484.29 24.18,484.29 24.91,484.29 25.64,484.29 26.37,484.28 27.1,484.28 27.83,484.28 28.55,484.27 29.28,484.27 30.01,484.26 30.74,484.26 31.47,484.26 32.2,484.25 32.93,484.25 33.65,484.24 34.38,484.23 35.11,484.23 35.84,484.22 36.57,484.21 37.3,484.2 38.02,484.19 38.75,484.16 39.48,484.12 40.21,484.08 40.94,484.03 41.67,483.96 42.39,483.89 43.12,483.79 43.85,483.57 44.58,483.26 45.31,482.89 46.04,482.47 46.77,482.04 47.49,481.53 48.22,480.94 48.95,480.25 49.68,479.47 50.41,478.62 51.14,477.59 51.86,476.35 52.59,474.97 53.32,473.48 54.05,471.92 54.78,470.19 55.51,468.33 56.24,466.37 56.96,464.35 57.69,462.27 58.42,460.05 59.15,457.76 59.88,455.43 60.61,453.12 61.33,450.85 62.06,448.58 62.79,446.28 63.52,443.92 64.25,441.47 64.98,438.85 65.7,436.11 66.43,433.34 67.16,430.62 67.89,428.03 68.62,425.62 69.35,423.32 70.08,421.08 70.8,418.84 71.53,416.54 72.26,414.14 72.99,411.39 73.72,408.45 74.45,405.73 75.17,403.68 75.9,401.98 76.63,400.49 77.36,399.6 78.09,399.61 78.82,400.36 79.54,401.57 80.27,402.98 81,404.88 81.73,407.48 82.46,410.42 83.19,413.69 83.92,417.47 84.64,421.37 85.37,425.43 86.1,429.64 86.83,433.82 87.56,437.89 88.29,442.03 89.01,446.02 89.74,449.59 90.47,452.64 91.2,455.42 91.93,457.92 92.66,460.13 93.38,462.14 94.11,463.99 94.84,465.57 95.57,466.81 96.3,467.83 97.03,468.69 97.76,469.36 98.48,469.84 99.21,470.24 99.94,470.45 100.67,470.4 101.4,470.22 102.13,469.96 102.85,469.66 103.58,469.29 104.31,468.74 105.04,468.12 105.77,467.52 106.5,466.97 107.23,466.39 107.95,465.81 108.68,465.27 109.41,464.8 110.14,464.44 110.87,464.18 111.6,463.92 112.32,463.69 113.05,463.48 113.78,463.31 114.51,463.18 115.24,463.11 115.97,463.1 116.69,463.16 117.42,463.26 118.15,463.37 118.88,463.47 119.61,463.53 120.34,463.53 121.07,463.5 121.79,463.46 122.52,463.4 123.25,463.33 123.98,463.19 124.71,462.88 125.44,462.42 126.16,461.85 126.89,461.22 127.62,460.56 128.35,459.84 129.08,459 129.81,458.03 130.53,456.92 131.26,455.68 131.99,454.3 132.72,452.63 133.45,450.47 134.18,448.01 134.91,445.44 135.63,442.92 136.36,440.3 137.09,437.57 137.82,434.8 138.55,432.03 139.28,429.13 140,426.04 140.73,422.96 141.46,420.11 142.19,417.71 142.92,415.87 143.65,414.26 144.37,412.93 145.1,412.04 145.83,411.44 146.56,410.96 147.29,410.74 148.02,410.93 148.75,411.53 149.47,412.37 150.2,413.65 150.93,415.74 151.66,418.3 152.39,421.38 153.12,425.37 153.84,429.76 154.57,434.11 155.3,438.78 156.03,443.43 156.76,447.55 157.49,451.18 158.22,454.54 158.94,457.79 159.67,461.05 160.4,464.38 161.13,467.63 161.86,470.67 162.59,473.34 163.31,475.73 164.04,477.88 164.77,479.48 165.5,480.63 166.23,481.67 166.96,482.52 167.68,483.14 168.41,483.44 169.14,483.59 169.87,483.72 170.6,483.83 171.33,483.92 172.06,484 172.78,484.07 173.51,484.12 174.24,484.15 174.97,484.17 175.7,484.17 176.43,484.18 177.15,484.18 177.88,484.18 178.61,484.19 179.34,484.19 180.07,484.2 180.8,484.2 181.52,484.2 182.25,484.21 182.98,484.21 183.71,484.21 184.44,484.22 185.17,484.22 185.9,484.22 186.62,484.23 187.35,484.23 188.08,484.23 188.81,484.23 189.54,484.24 190.27,484.24 190.99,484.24 191.72,484.24 192.45,484.25 193.18,484.25 193.91,484.25 194.64,484.25 195.36,484.26 196.09,484.26 196.82,484.26 197.55,484.26 198.28,484.26 199.01,484.26 199.74,484.27 200.46,484.27 201.19,484.27 201.92,484.27 202.65,484.27 203.38,484.27 204.11,484.28 204.83,484.28 205.56,484.28 206.29,484.28 207.02,484.28 207.75,484.28 208.48,484.28 209.21,484.28 209.93,484.29 210.66,484.29 211.39,484.29 212.12,484.29 212.85,484.29 213.58,484.29 214.3,484.29 215.03,484.29 215.76,484.29 216.49,484.29 217.22,484.29 217.95,484.29 218.67,484.29 219.4,484.3 220.13,484.3 220.86,484.3 221.59,484.3 222.32,484.3 223.05,484.3 223.77,484.3 224.5,484.3 225.23,484.3 225.96,484.3 226.69,484.3 227.42,484.3 228.14,484.3 228.87,484.3 229.6,484.3 230.33,484.3 231.06,484.3 231.79,484.3 232.51,484.3 233.24,484.3 233.97,484.3 234.7,484.3 234.7,484.3Z" fill="#1f77b4" fill-opacity="0.25" stroke="none"/>
<path clip-path="url(#cP1)" d="M16.9,484.3 17.63,484.3 18.36,484.3 19.09,484.3 19.81,484.3 20.54,484.3 21.27,484.3 22,484.3 22.73,484.29 23.46,484.29 24.18,484.29 24.91,484.29 25.64,484.29 26.37,484.28 27.1,484.28 27.83,484.28 28.55,484.27 29.28,484.27 30.01,484.26 30.74,484.26 31.47,484.26 32.2,484.25 32.93,484.25 33.65,484.24 34.38,484.23 35.11,484.23 35.84,484.22 36.57,484.21 37.3,484.2 38.02,484.19 38.75,484.16 39.48,484.12 40.21,484.08 40.94,484.03 41.67,483.96 42.39,483.89 43.12,483.79 43.85,483.57 44.58,483.26 45.31,482.89 46.04,482.47 46.77,482.04 47.49,481.53 48.22,480.94 48.95,480.25 49.68,479.47 50.41,478.62 51.14,477.59 51.86,476.35 52.59,474.97 53.32,473.48 54.05,471.92 54.78,470.19 55.51,468.33 56.24,466.37 56.96,464.35 57.69,462.27 58.42,460.05 59.15,457.76 59.88,455.43 60.61,453.12 61.33,450.85 62.06,448.58 62.79,446.28 63.52,443.92 64.25,441.47 64.98,438.85 65.7,436.11 66.43,433.34 67.16,430.62 67.89,428.03 68.62,425.62 69.35,423.32 70.08,421.08 70.8,418.84 71.53,416.54 72.26,414.14 72.99,411.39 73.72,408.45 74.45,405.73 75.17,403.68 75.9,401.98 76.63,400.49 77.36,399.6 78.09,399.61 78.82,400.36 79.54,401.57 80.27,402.98 81,404.88 81.73,407.48 82.46,410.42 83.19,413.69 83.92,417.47 84.64,421.37 85.37,425.43 86.1,429.64 86.83,433.82 87.56,437.89 88.29,442.03 89.01,446.02 89.74,449.59 90.47,452.64 91.2,455.42 91.93,457.92 92.66,460.13 93.38,462.14 94.11,463.99 94.84,465.57 95.57,466.81 96.3,467.83 97.03,468.69 97.76,469.36 98.48,469.84 99.21,470.24 99.94,470.45 100.67,470.4 101.4,470.22 102.13,469.96 102.85,469.66 103.58,469.29 104.31,468.74 105.04,468.12 105.77,467.52 106.5,466.97 107.23,466.39 107.95,465.81 108.68,465.27 109.41,464.8 110.14,464.44 110.87,464.18 111.6,463.92 112.32,463.69 113.05,463.48 113.78,463.31 114.51,463.18 115.24,463.11 115.97,463.1 116.69,463.16 117.42,463.26 118.15,463.37 118.88,463.47 119.61,463.53 120.34,463.53 121.07,463.5 121.79,463.46 122.52,463.4 123.25,463.33 123.98,463.19 124.71,462.88 125.44,462.42 126.16,461.85 126.89,461.22 127.62,460.56 128.35,459.84 129.08,459 129.81,458.03 130.53,456.92 131.26,455.68 131.99,454.3 132.72,452.63 133.45,450.47 134.18,448.01 134.91,445.44 135.63,442.92 136.36,440.3 137.09,437.57 137.82,434.8 138.55,432.03 139.28,429.13 140,426.04 140.73,422.96 141.46,420.11 142.19,417.71 142.92,415.87 143.65,414.26 144.37,412.93 145.1,412.04 145.83,411.44 146.56,410.96 147.29,410.74 148.02,410.93 148.75,411.53 149.47,412.37 150.2,413.65 150.93,415.74 151.66,418.3 152.39,421.38 153.12,425.37 153.84,429.76 154.57,434.11 155.3,438.78 156.03,443.43 156.76,447.55 157.49,451.18 158.22,454.54 158.94,457.79 159.67,461.05 160.4,464.38 161.13,467.63 161.86,470.67 162.59,473.34 163.31,475.73 164.04,477.88 164.77,479.48 165.5,480.63 166.23,481.67 166.96,482.52 167.68,483.14 168.41,483.44 169.14,483.59 169.87,483.72 170.6,483.83 171.33,483.92 172.06,484 172.78,484.07 173.51,484.12 174.24,484.15 174.97,484.17 175.7,484.17 176.43,484.18 177.15,484.18 177.88,484.18 178.61,484.19 179.34,484.19 180.07,484.2 180.8,484.2 181.52,484.2 182.25,484.21 182.98,484.21 183.71,484.21 184.44,484.22 185.17,484.22 185.9,484.22 186.62,484.23 187.35,484.23 188.08,484.23 188.81,484.23 189.54,484.24 190.27,484.24 190.99,484.24 191.72,484.24 192.45,484.25 193.18,484.25 193.91,484.25 194.64,484.25 195.36,484.26 196.09,484.26 196.82,484.26 197.55,484.26 198.28,484.26 199.01,484.26 199.74,484.27 200.46,484.27 201.19,484.27 201.92,484.27 202.65,484.27 203.38,484.27 204.11,484.28 204.83,484.28 205.56,484.28 206.29,484.28 207.02,484.28 207.75,484.28 208.48,484.28 209.21,484.28 209.93,484.29 210.66,484.29 211.39,484.29 212.12,484.29 212.85,484.29 213.58,484.29 214.3,484.29 215.03,484.29 215.76,484.29 216.49,484.29 217.22,484.29 217.95,484.29 218.67,484.29 219.4,484.3 220.13,484.3 220.86,484.3 221.59,484.3 222.32,484.3 223.05,484.3 223.77,484.3 224.5,484.3 225.23,484.3 225.96,484.3 226.69,484.3 227.42,484.3 228.14,484.3 228.87,484.3 229.6,484.3 230.33,484.3 231.06,484.3 231.79,484.3 232.51,484.3 233.24,484.3 233.97,484.3 234.7,484.3" fill="none" stroke="#1f77b4" stroke-width="1.0" stroke-linejoin="round"/>
<path clip-path="url(#cP1)" d="M16.9,484.3 16.9,484.3 17.63,484.3 18.36,484.3 19.09,484.3 19.81,484.3 20.54,484.3 21.27,484.3 22,484.29 22.73,484.29 23.46,484.29 24.18,484.29 24.91,484.28 25.64,484.28 26.37,484.28 27.1,484.27 27.83,484.27 28.55,484.27 29.28,484.26 30.01,484.26 30.74,484.25 31.47,484.24 32.2,484.24 32.93,484.23 33.65,484.22 34.38,484.22 35.11,484.21 35.84,484.19 36.57,484.15 37.3,484.1 38.02,484.04 38.75,483.96 39.48,483.87 40.21,483.65 40.94,483.23 41.67,482.64 42.39,481.9 43.12,481.01 43.85,479.48 44.58,477.26 45.31,474.55 46.04,471.57 46.77,468.23 47.49,463.9 48.22,459.16 48.95,454.7 49.68,450.82 50.41,447.12 51.14,443.55 51.86,440.08 52.59,436.66 53.32,433.26 54.05,430.11 54.78,427.18 55.51,424.23 56.24,421 56.96,417.26 57.69,412.25 58.42,406.2 59.15,401.59 59.88,397.29 60.61,393.25 61.33,389.49 62.06,386.01 62.79,382.83 63.52,379.97 64.25,377.44 64.98,375.07 65.7,372.8 66.43,370.68 67.16,368.75 67.89,367.06 68.62,365.66 69.35,364.59 70.08,363.76 70.8,362.98 71.53,362.28 72.26,361.69 72.99,361.26 73.72,361.02 74.45,361.02 75.17,361.34 75.9,361.9 76.63,362.76 77.36,364.69 78.09,367.39 78.82,370.32 79.54,373.18 80.27,376.21 81,379.51 81.73,383.14 82.46,387.15 83.19,391.64 83.92,397.62 84.64,404.82 85.37,411.8 86.1,417.22 86.83,421.58 87.56,425.48 88.29,429.04 89.01,432.4 89.74,435.72 90.47,439.07 91.2,442.38 91.93,445.59 92.66,448.62 93.38,451.4 94.11,453.87 94.84,456.09 95.57,458.1 96.3,459.86 97.03,461.35 97.76,462.6 98.48,463.71 99.21,464.81 99.94,465.72 100.67,466.24 101.4,466.62 102.13,466.96 102.85,467.25 103.58,467.5 104.31,467.68 105.04,467.8 105.77,467.86 106.5,467.84 107.23,467.8 107.95,467.72 108.68,467.64 109.41,467.56 110.14,467.49 110.87,467.44 111.6,467.43 112.32,467.51 113.05,467.68 113.78,467.93 114.51,468.22 115.24,468.53 115.97,468.84 116.69,469.22 117.42,469.68 118.15,470.2 118.88,470.75 119.61,471.33 120.34,471.91 121.07,472.48 121.79,473.04 122.52,473.62 123.25,474.23 123.98,474.84 124.71,475.45 125.44,476.05 126.16,476.62 126.89,477.17 127.62,477.71 128.35,478.25 129.08,478.77 129.81,479.28 130.53,479.77 131.26,480.22 131.99,480.63 132.72,481.02 133.45,481.42 134.18,481.81 134.91,482.19 135.63,482.54 136.36,482.85 137.09,483.11 137.82,483.31 138.55,483.43 139.28,483.51 140,483.58 140.73,483.64 141.46,483.7 142.19,483.76 142.92,483.81 143.65,483.86 144.37,483.9 145.1,483.94 145.83,483.98 146.56,484.01 147.29,484.03 148.02,484.05 148.75,484.07 149.47,484.08 150.2,484.08 150.93,484.08 151.66,484.08 152.39,484.08 153.12,484.08 153.84,484.07 154.57,484.07 155.3,484.06 156.03,484.06 156.76,484.05 157.49,484.04 158.22,484.03 158.94,484.03 159.67,484.02 160.4,484.01 161.13,484 161.86,483.99 162.59,483.98 163.31,483.97 164.04,483.96 164.77,483.95 165.5,483.94 166.23,483.93 166.96,483.92 167.68,483.92 168.41,483.91 169.14,483.9 169.87,483.89 170.6,483.89 171.33,483.88 172.06,483.88 172.78,483.87 173.51,483.87 174.24,483.87 174.97,483.87 175.7,483.87 176.43,483.87 177.15,483.87 177.88,483.88 178.61,483.89 179.34,483.9 180.07,483.91 180.8,483.92 181.52,483.94 182.25,483.95 182.98,483.97 183.71,483.98 184.44,484 185.17,484.01 185.9,484.02 186.62,484.04 187.35,484.05 188.08,484.06 188.81,484.07 189.54,484.08 190.27,484.08 190.99,484.09 191.72,484.1 192.45,484.1 193.18,484.11 193.91,484.11 194.64,484.12 195.36,484.12 196.09,484.13 196.82,484.14 197.55,484.14 198.28,484.15 199.01,484.15 199.74,484.16 200.46,484.16 201.19,484.17 201.92,484.17 202.65,484.18 203.38,484.18 204.11,484.19 204.83,484.19 205.56,484.2 206.29,484.2 207.02,484.2 207.75,484.21 208.48,484.21 209.21,484.22 209.93,484.22 210.66,484.23 211.39,484.23 212.12,484.23 212.85,484.24 213.58,484.24 214.3,484.25 215.03,484.25 215.76,484.25 216.49,484.26 217.22,484.26 217.95,484.26 218.67,484.27 219.4,484.27 220.13,484.27 220.86,484.27 221.59,484.28 222.32,484.28 223.05,484.28 223.77,484.28 224.5,484.29 225.23,484.29 225.96,484.29 226.69,484.29 227.42,484.29 228.14,484.29 228.87,484.3 229.6,484.3 230.33,484.3 231.06,484.3 231.79,484.3 232.51,484.3 233.24,484.3 233.97,484.3 234.7,484.3 234.7,484.3Z" fill="#ff7f0e" fill-opacity="0.25" stroke="none"/>
<path clip-path="url(#cP1)" d="M16.9,484.3 17.63,484.3 18.36,484.3 19.09,484.3 19.81,484.3 20.54,484.3 21.27,484.3 22,484.29 22.73,484.29 23.46,484.29 24.18,484.29 24.91,484.28 25.64,484.28 26.37,484.28 27.1,484.27 27.83,484.27 28.55,484.27 29.28,484.26 30.01,484.26 30.74,484.25 31.47,484.24 32.2,484.24 32.93,484.23 33.65,484.22 34.38,484.22 35.11,484.21 35.84,484.19 36.57,484.15 37.3,484.1 38.02,484.04 38.75,483.96 39.48,483.87 40.21,483.65 40.94,483.23 41.67,482.64 42.39,481.9 43.12,481.01 43.85,479.48 44.58,477.26 45.31,474.55 46.04,471.57 46.77,468.23 47.49,463.9 48.22,459.16 48.95,454.7 49.68,450.82 50.41,447.12 51.14,443.55 51.86,440.08 52.59,436.66 53.32,433.26 54.05,430.11 54.78,427.18 55.51,424.23 56.24,421 56.96,417.26 57.69,412.25 58.42,406.2 59.15,401.59 59.88,397.29 60.61,393.25 61.33,389.49 62.06,386.01 62.79,382.83 63.52,379.97 64.25,377.44 64.98,375.07 65.7,372.8 66.43,370.68 67.16,368.75 67.89,367.06 68.62,365.66 69.35,364.59 70.08,363.76 70.8,362.98 71.53,362.28 72.26,361.69 72.99,361.26 73.72,361.02 74.45,361.02 75.17,361.34 75.9,361.9 76.63,362.76 77.36,364.69 78.09,367.39 78.82,370.32 79.54,373.18 80.27,376.21 81,379.51 81.73,383.14 82.46,387.15 83.19,391.64 83.92,397.62 84.64,404.82 85.37,411.8 86.1,417.22 86.83,421.58 87.56,425.48 88.29,429.04 89.01,432.4 89.74,435.72 90.47,439.07 91.2,442.38 91.93,445.59 92.66,448.62 93.38,451.4 94.11,453.87 94.84,456.09 95.57,458.1 96.3,459.86 97.03,461.35 97.76,462.6 98.48,463.71 99.21,464.81 99.94,465.72 100.67,466.24 101.4,466.62 102.13,466.96 102.85,467.25 103.58,467.5 104.31,467.68 105.04,467.8 105.77,467.86 106.5,467.84 107.23,467.8 107.95,467.72 108.68,467.64 109.41,467.56 110.14,467.49 110.87,467.44 111.6,467.43 112.32,467.51 113.05,467.68 113.78,467.93 114.51,468.22 115.24,468.53 115.97,468.84 116.69,469.22 117.42,469.68 118.15,470.2 118.88,470.75 119.61,471.33 120.34,471.91 121.07,472.48 121.79,473.04 122.52,473.62 123.25,474.23 123.98,474.84 124.71,475.45 125.44,476.05 126.16,476.62 126.89,477.17 127.62,477.71 128.35,478.25 129.08,478.77 129.81,479.28 130.53,479.77 131.26,480.22 131.99,480.63 132.72,481.02 133.45,481.42 134.18,481.81 134.91,482.19 135.63,482.54 136.36,482.85 137.09,483.11 137.82,483.31 138.55,483.43 139.28,483.51 140,483.58 140.73,483.64 141.46,483.7 142.19,483.76 142.92,483.81 143.65,483.86 144.37,483.9 145.1,483.94 145.83,483.98 146.56,484.01 147.29,484.03 148.02,484.05 148.75,484.07 149.47,484.08 150.2,484.08 150.93,484.08 151.66,484.08 152.39,484.08 153.12,484.08 153.84,484.07 154.57,484.07 155.3,484.06 156.03,484.06 156.76,484.05 157.49,484.04 158.22,484.03 158.94,484.03 159.67,484.02 160.4,484.01 161.13,484 161.86,483.99 162.59,483.98 163.31,483.97 164.04,483.96 164.77,483.95 165.5,483.94 166.23,483.93 166.96,483.92 167.68,483.92 168.41,483.91 169.14,483.9 169.87,483.89 170.6,483.89 171.33,483.88 172.06,483.88 172.78,483.87 173.51,483.87 174.24,483.87 174.97,483.87 175.7,483.87 176.43,483.87 177.15,483.87 177.88,483.88 178.61,483.89 179.34,483.9 180.07,483.91 180.8,483.92 181.52,483.94 182.25,483.95 182.98,483.97 183.71,483.98 184.44,484 185.17,484.01 185.9,484.02 186.62,484.04 187.35,484.05 188.08,484.06 188.81,484.07 189.54,484.08 190.27,484.08 190.99,484.09 191.72,484.1 192.45,484.1 193.18,484.11 193.91,484.11 194.64,484.12 195.36,484.12 196.09,484.13 196.82,484.14 197.55,484.14 198.28,484.15 199.01,484.15 199.74,484.16 200.46,484.16 201.19,484.17 201.92,484.17 202.65,484.18 203.38,484.18 204.11,484.19 204.83,484.19 205.56,484.2 206.29,484.2 207.02,484.2 207.75,484.21 208.48,484.21 209.21,484.22 209.93,484.22 210.66,484.23 211.39,484.23 212.12,484.23 212.85,484.24 213.58,484.24 214.3,484.25 215.03,484.25 215.76,484.25 216.49,484.26 217.22,484.26 217.95,484.26 218.67,484.27 219.4,484.27 220.13,484.27 220.86,484.27 221.59,484.28 222.32,484.28 223.05,484.28 223.77,484.28 224.5,484.29 225.23,484.29 225.96,484.29 226.69,484.29 227.42,484.29 228.14,484.29 228.87,484.3 229.6,484.3 230.33,484.3 231.06,484.3 231.79,484.3 232.51,484.3 233.24,484.3 233.97,484.3 234.7,484.3" fill="none" stroke="#ff7f0e" stroke-width="1.0" stroke-linejoin="round"/>
<path clip-path="url(#cP1)" d="M16.9,484.3 16.9,484.3 17.63,484.3 18.36,484.3 19.09,484.3 19.81,484.3 20.54,484.3 21.27,484.3 22,484.29 22.73,484.29 23.46,484.29 24.18,484.29 24.91,484.28 25.64,484.28 26.37,484.28 27.1,484.27 27.83,484.27 28.55,484.27 29.28,484.26 30.01,484.26 30.74,484.25 31.47,484.24 32.2,484.24 32.93,484.23 33.65,484.22 34.38,484.22 35.11,484.21 35.84,484.18 36.57,484.15 37.3,484.1 38.02,484.03 38.75,483.95 39.48,483.86 40.21,483.64 40.94,483.22 41.67,482.62 42.39,481.87 43.12,480.96 43.85,479.41 44.58,477.15 45.31,474.41 46.04,471.38 46.77,467.99 47.49,463.59 48.22,458.78 48.95,454.25 49.68,450.31 50.41,446.56 51.14,442.94 51.86,439.42 52.59,435.95 53.32,432.5 54.05,429.3 54.78,426.32 55.51,423.32 56.24,420.05 56.96,416.25 57.69,411.17 58.42,405.03 59.15,400.35 59.88,395.99 60.61,391.89 61.33,388.07 62.06,384.54 62.79,381.31 63.52,378.41 64.25,375.84 64.98,373.44 65.7,371.15 66.43,369.02 67.16,367.07 67.89,365.36 68.62,363.92 69.35,362.8 70.08,361.9 70.8,361.05 71.53,360.27 72.26,359.62 72.99,359.13 73.72,358.86 74.45,358.87 75.17,359.28 75.9,359.99 76.63,360.98 77.36,362.97 78.09,365.67 78.82,368.61 79.54,371.51 80.27,374.59 81,377.94 81.73,381.62 82.46,385.7 83.19,390.25 83.92,396.32 84.64,403.62 85.37,410.71 86.1,416.21 86.83,420.64 87.56,424.59 88.29,428.21 89.01,431.62 89.74,434.99 90.47,438.38 91.2,441.72 91.93,444.95 92.66,448.02 93.38,450.86 94.11,453.43 94.84,455.79 95.57,457.96 96.3,459.84 97.03,461.36 97.76,462.6 98.48,463.71 99.21,464.81 99.94,465.72 100.67,466.24 101.4,466.58 102.13,466.85 102.85,467.07 103.58,467.27 104.31,467.44 105.04,467.62 105.77,467.82 106.5,468.04 107.23,468.25 107.95,468.46 108.68,468.67 109.41,468.88 110.14,469.09 110.87,469.29 111.6,469.49 112.32,469.68 113.05,469.85 113.78,470.02 114.51,470.21 115.24,470.43 115.97,470.7 116.69,471.04 117.42,471.47 118.15,471.94 118.88,472.44 119.61,472.95 120.34,473.45 121.07,473.91 121.79,474.33 122.52,474.73 123.25,475.11 123.98,475.5 124.71,475.88 125.44,476.28 126.16,476.69 126.89,477.13 127.62,477.62 128.35,478.14 129.08,478.67 129.81,479.21 130.53,479.72 131.26,480.2 131.99,480.63 132.72,481.02 133.45,481.42 134.18,481.81 134.91,482.19 135.63,482.54 136.36,482.85 137.09,483.11 137.82,483.31 138.55,483.43 139.28,483.51 140,483.58 140.73,483.64 141.46,483.7 142.19,483.76 142.92,483.81 143.65,483.86 144.37,483.9 145.1,483.94 145.83,483.98 146.56,484.01 147.29,484.03 148.02,484.05 148.75,484.07 149.47,484.08 150.2,484.08 150.93,484.08 151.66,484.08 152.39,484.08 153.12,484.08 153.84,484.07 154.57,484.07 155.3,484.06 156.03,484.06 156.76,484.05 157.49,484.04 158.22,484.03 158.94,484.03 159.67,484.02 160.4,484.01 161.13,484 161.86,483.99 162.59,483.98 163.31,483.97 164.04,483.96 164.77,483.95 165.5,483.94 166.23,483.93 166.96,483.92 167.68,483.92 168.41,483.91 169.14,483.9 169.87,483.89 170.6,483.89 171.33,483.88 172.06,483.88 172.78,483.87 173.51,483.87 174.24,483.87 174.97,483.87 175.7,483.87 176.43,483.87 177.15,483.87 177.88,483.88 178.61,483.89 179.34,483.9 180.07,483.91 180.8,483.92 181.52,483.94 182.25,483.95 182.98,483.97 183.71,483.98 184.44,484 185.17,484.01 185.9,484.02 186.62,484.04 187.35,484.05 188.08,484.06 188.81,484.07 189.54,484.08 190.27,484.08 190.99,484.09 191.72,484.1 192.45,484.1 193.18,484.11 193.91,484.11 194.64,484.12 195.36,484.12 196.09,484.13 196.82,484.14 197.55,484.14 198.28,484.15 199.01,484.15 199.74,484.16 200.46,484.16 201.19,484.17 201.92,484.17 202.65,484.18 203.38,484.18 204.11,484.19 204.83,484.19 205.56,484.2 206.29,484.2 207.02,484.2 207.75,484.21 208.48,484.21 209.21,484.22 209.93,484.22 210.66,484.23 211.39,484.23 212.12,484.23 212.85,484.24 213.58,484.24 214.3,484.25 215.03,484.25 215.76,484.25 216.49,484.26 217.22,484.26 217.95,484.26 218.67,484.27 219.4,484.27 220.13,484.27 220.86,484.27 221.59,484.28 222.32,484.28 223.05,484.28 223.77,484.28 224.5,484.29 225.23,484.29 225.96,484.29 226.69,484.29 227.42,484.29 228.14,484.29 228.87,484.3 229.6,484.3 230.33,484.3 231.06,484.3 231.79,484.3 232.51,484.3 233.24,484.3 233.97,484.3 234.7,484.3 234.7,484.3Z" fill="#2ca02c" fill-opacity="0.25" stroke="none"/>
<path clip-path="url(#cP1)" d="M16.9,484.3 17.63,484.3 18.36,484.3 19.09,484.3 19.81,484.3 20.54,484.3 21.27,484.3 22,484.29 22.73,484.29 23.46,484.29 24.18,484.29 24.91,484.28 25.64,484.28 26.37,484.28 27.1,484.27 27.83,484.27 28.55,484.27 29.28,484.26 30.01,484.26 30.74,484.25 31.47,484.24 32.2,484.24 32.93,484.23 33.65,484.22 34.38,484.22 35.11,484.21 35.84,484.18 36.57,484.15 37.3,484.1 38.02,484.03 38.75,483.95 39.48,483.86 40.21,483.64 40.94,483.22 41.67,482.62 42.39,481.87 43.12,480.96 43.85,479.41 44.58,477.15 45.31,474.41 46.04,471.38 46.77,467.99 47.49,463.59 48.22,458.78 48.95,454.25 49.68,450.31 50.41,446.56 51.14,442.94 51.86,439.42 52.59,435.95 53.32,432.5 54.05,429.3 54.78,426.32 55.51,423.32 56.24,420.05 56.96,416.25 57.69,411.17 58.42,405.03 59.15,400.35 59.88,395.99 60.61,391.89 61.33,388.07 62.06,384.54 62.79,381.31 63.52,378.41 64.25,375.84 64.98,373.44 65.7,371.15 66.43,369.02 67.16,367.07 67.89,365.36 68.62,363.92 69.35,362.8 70.08,361.9 70.8,361.05 71.53,360.27 72.26,359.62 72.99,359.13 73.72,358.86 74.45,358.87 75.17,359.28 75.9,359.99 76.63,360.98 77.36,362.97 78.09,365.67 78.82,368.61 79.54,371.51 80.27,374.59 81,377.94 81.73,381.62 82.46,385.7 83.19,390.25 83.92,396.32 84.64,403.62 85.37,410.71 86.1,416.21 86.83,420.64 87.56,424.59 88.29,428.21 89.01,431.62 89.74,434.99 90.47,438.38 91.2,441.72 91.93,444.95 92.66,448.02 93.38,450.86 94.11,453.43 94.84,455.79 95.57,457.96 96.3,459.84 97.03,461.36 97.76,462.6 98.48,463.71 99.21,464.81 99.94,465.72 100.67,466.24 101.4,466.58 102.13,466.85 102.85,467.07 103.58,467.27 104.31,467.44 105.04,467.62 105.77,467.82 106.5,468.04 107.23,468.25 107.95,468.46 108.68,468.67 109.41,468.88 110.14,469.09 110.87,469.29 111.6,469.49 112.32,469.68 113.05,469.85 113.78,470.02 114.51,470.21 115.24,470.43 115.97,470.7 116.69,471.04 117.42,471.47 118.15,471.94 118.88,472.44 119.61,472.95 120.34,473.45 121.07,473.91 121.79,474.33 122.52,474.73 123.25,475.11 123.98,475.5 124.71,475.88 125.44,476.28 126.16,476.69 126.89,477.13 127.62,477.62 128.35,478.14 129.08,478.67 129.81,479.21 130.53,479.72 131.26,480.2 131.99,480.63 132.72,481.02 133.45,481.42 134.18,481.81 134.91,482.19 135.63,482.54 136.36,482.85 137.09,483.11 137.82,483.31 138.55,483.43 139.28,483.51 140,483.58 140.73,483.64 141.46,483.7 142.19,483.76 142.92,483.81 143.65,483.86 144.37,483.9 145.1,483.94 145.83,483.98 146.56,484.01 147.29,484.03 148.02,484.05 148.75,484.07 149.47,484.08 150.2,484.08 150.93,484.08 151.66,484.08 152.39,484.08 153.12,484.08 153.84,484.07 154.57,484.07 155.3,484.06 156.03,484.06 156.76,484.05 157.49,484.04 158.22,484.03 158.94,484.03 159.67,484.02 160.4,484.01 161.13,484 161.86,483.99 162.59,483.98 163.31,483.97 164.04,483.96 164.77,483.95 165.5,483.94 166.23,483.93 166.96,483.92 167.68,483.92 168.41,483.91 169.14,483.9 169.87,483.89 170.6,483.89 171.33,483.88 172.06,483.88 172.78,483.87 173.51,483.87 174.24,483.87 174.97,483.87 175.7,483.87 176.43,483.87 177.15,483.87 177.88,483.88 178.61,483.89 179.34,483.9 180.07,483.91 180.8,483.92 181.52,483.94 182.25,483.95 182.98,483.97 183.71,483.98 184.44,484 185.17,484.01 185.9,484.02 186.62,484.04 187.35,484.05 188.08,484.06 188.81,484.07 189.54,484.08 190.27,484.08 190.99,484.09 191.72,484.1 192.45,484.1 193.18,484.11 193.91,484.11 194.64,484.12 195.36,484.12 196.09,484.13 196.82,484.14 197.55,484.14 198.28,484.15 199.01,484.15 199.74,484.16 200.46,484.16 201.19,484.17 201.92,484.17 202.65,484.18 203.38,484.18 204.11,484.19 204.83,484.19 205.56,484.2 206.29,484.2 207.02,484.2 207.75,484.21 208.48,484.21 209.21,484.22 209.93,484.22 210.66,484.23 211.39,484.23 212.12,484.23 212.85,484.24 213.58,484.24 214.3,484.25 215.03,484.25 215.76,484.25 216.49,484.26 217.22,484.26 217.95,484.26 218.67,484.27 219.4,484.27 220.13,484.27 220.86,484.27 221.59,484.28 222.32,484.28 223.05,484.28 223.77,484.28 224.5,484.29 225.23,484.29 225.96,484.29 226.69,484.29 227.42,484.29 228.14,484.29 228.87,484.3 229.6,484.3 230.33,484.3 231.06,484.3 231.79,484.3 232.51,484.3 233.24,484.3 233.97,484.3 234.7,484.3" fill="none" stroke="#2ca02c" stroke-width="1.0" stroke-linejoin="round"/>
<path clip-path="url(#cP1)" d="M16.9,484.3 16.9,484.3 17.63,484.3 18.36,484.3 19.09,484.3 19.81,484.3 20.54,484.3 21.27,484.3 22,484.29 22.73,484.29 23.46,484.29 24.18,484.29 24.91,484.29 25.64,484.28 26.37,484.28 27.1,484.28 27.83,484.27 28.55,484.27 29.28,484.26 30.01,484.26 30.74,484.25 31.47,484.25 32.2,484.24 32.93,484.23 33.65,484.23 34.38,484.22 35.11,484.21 35.84,484.19 36.57,484.15 37.3,484.1 38.02,484.04 38.75,483.96 39.48,483.87 40.21,483.66 40.94,483.25 41.67,482.66 42.39,481.93 43.12,481.05 43.85,479.53 44.58,477.33 45.31,474.65 46.04,471.7 46.77,468.39 47.49,464.1 48.22,459.41 48.95,454.99 49.68,451.15 50.41,447.49 51.14,443.96 51.86,440.52 52.59,437.14 53.32,433.77 54.05,430.65 54.78,427.75 55.51,424.83 56.24,421.63 56.96,417.93 57.69,412.97 58.42,406.98 59.15,402.41 59.88,398.16 60.61,394.16 61.33,390.44 62.06,386.99 62.79,383.85 63.52,381.02 64.25,378.51 64.98,376.13 65.7,373.83 66.43,371.67 67.16,369.72 67.89,368.03 68.62,366.69 69.35,365.75 70.08,365.13 70.8,364.55 71.53,364.05 72.26,363.63 72.99,363.33 73.72,363.17 74.45,363.15 75.17,363.23 75.9,363.39 76.63,363.8 77.36,365.64 78.09,368.45 78.82,371.47 79.54,374.22 80.27,377.08 81,380.16 81.73,383.54 82.46,387.33 83.19,391.63 83.92,397.53 84.64,404.75 85.37,411.78 86.1,417.22 86.83,421.58 87.56,425.48 88.29,429.04 89.01,432.4 89.74,435.72 90.47,439.07 91.2,442.38 91.93,445.59 92.66,448.62 93.38,451.4 94.11,453.87 94.84,456.09 95.57,458.1 96.3,459.86 97.03,461.35 97.76,462.6 98.48,463.71 99.21,464.81 99.94,465.72 100.67,466.24 101.4,466.62 102.13,466.96 102.85,467.25 103.58,467.5 104.31,467.68 105.04,467.8 105.77,467.86 106.5,467.84 107.23,467.8 107.95,467.72 108.68,467.64 109.41,467.56 110.14,467.49 110.87,467.44 111.6,467.43 112.32,467.51 113.05,467.68 113.78,467.93 114.51,468.22 115.24,468.53 115.97,468.84 116.69,469.22 117.42,469.68 118.15,470.2 118.88,470.75 119.61,471.33 120.34,471.91 121.07,472.48 121.79,473.04 122.52,473.62 123.25,474.23 123.98,474.84 124.71,475.45 125.44,476.05 126.16,476.62 126.89,477.17 127.62,477.71 128.35,478.25 129.08,478.77 129.81,479.28 130.53,479.77 131.26,480.22 131.99,480.63 132.72,481.02 133.45,481.42 134.18,481.81 134.91,482.19 135.63,482.54 136.36,482.85 137.09,483.11 137.82,483.31 138.55,483.43 139.28,483.51 140,483.58 140.73,483.64 141.46,483.7 142.19,483.76 142.92,483.81 143.65,483.86 144.37,483.9 145.1,483.94 145.83,483.98 146.56,484.01 147.29,484.03 148.02,484.05 148.75,484.07 149.47,484.08 150.2,484.08 150.93,484.08 151.66,484.08 152.39,484.08 153.12,484.08 153.84,484.07 154.57,484.07 155.3,484.06 156.03,484.06 156.76,484.05 157.49,484.04 158.22,484.03 158.94,484.03 159.67,484.02 160.4,484.01 161.13,484 161.86,483.99 162.59,483.98 163.31,483.97 164.04,483.96 164.77,483.95 165.5,483.94 166.23,483.93 166.96,483.92 167.68,483.92 168.41,483.91 169.14,483.9 169.87,483.89 170.6,483.89 171.33,483.88 172.06,483.88 172.78,483.87 173.51,483.87 174.24,483.87 174.97,483.87 175.7,483.87 176.43,483.87 177.15,483.87 177.88,483.88 178.61,483.89 179.34,483.9 180.07,483.91 180.8,483.92 181.52,483.94 182.25,483.95 182.98,483.97 183.71,483.98 184.44,484 185.17,484.01 185.9,484.02 186.62,484.04 187.35,484.05 188.08,484.06 188.81,484.07 189.54,484.08 190.27,484.08 190.99,484.09 191.72,484.1 192.45,484.1 193.18,484.11 193.91,484.11 194.64,484.12 195.36,484.12 196.09,484.13 196.82,484.14 197.55,484.14 198.28,484.15 199.01,484.15 199.74,484.16 200.46,484.16 201.19,484.17 201.92,484.17 202.65,484.18 203.38,484.18 204.11,484.19 204.83,484.19 205.56,484.2 206.29,484.2 207.02,484.2 207.75,484.21 208.48,484.21 209.21,484.22 209.93,484.22 210.66,484.23 211.39,484.23 212.12,484.23 212.85,484.24 213.58,484.24 214.3,484.25 215.03,484.25 215.76,484.25 216.49,484.26 217.22,484.26 217.95,484.26 218.67,484.27 219.4,484.27 220.13,484.27 220.86,484.27 221.59,484.28 222.32,484.28 223.05,484.28 223.77,484.28 224.5,484.29 225.23,484.29 225.96,484.29 226.69,484.29 227.42,484.29 228.14,484.29 228.87,484.3 229.6,484.3 230.33,484.3 231.06,484.3 231.79,484.3 232.51,484.3 233.24,484.3 233.97,484.3 234.7,484.3 234.7,484.3Z" fill="#d62728" fill-opacity="0.25" stroke="none"/>
<path clip-path="url(#cP1)" d="M16.9,484.3 17.63,484.3 18.36,484.3 19.09,484.3 19.81,484.3 20.54,484.3 21.27,484.3 22,484.29 22.73,484.29 23.46,484.29 24.18,484.29 24.91,484.29 25.64,484.28 26.37,484.28 27.1,484.28 27.83,484.27 28.55,484.27 29.28,484.26 30.01,484.26 30.74,484.25 31.47,484.25 32.2,484.24 32.93,484.23 33.65,484.23 34.38,484.22 35.11,484.21 35.84,484.19 36.57,484.15 37.3,484.1 38.02,484.04 38.75,483.96 39.48,483.87 40.21,483.66 40.94,483.25 41.67,482.66 42.39,481.93 43.12,481.05 43.85,479.53 44.58,477.33 45.31,474.65 46.04,471.7 46.77,468.39 47.49,464.1 48.22,459.41 48.95,454.99 49.68,451.15 50.41,447.49 51.14,443.96 51.86,440.52 52.59,437.14 53.32,433.77 54.05,430.65 54.78,427.75 55.51,424.83 56.24,421.63 56.96,417.93 57.69,412.97 58.42,406.98 59.15,402.41 59.88,398.16 60.61,394.16 61.33,390.44 62.06,386.99 62.79,383.85 63.52,381.02 64.25,378.51 64.98,376.13 65.7,373.83 66.43,371.67 67.16,369.72 67.89,368.03 68.62,366.69 69.35,365.75 70.08,365.13 70.8,364.55 71.53,364.05 72.26,363.63 72.99,363.33 73.72,363.17 74.45,363.15 75.17,363.23 75.9,363.39 76.63,363.8 77.36,365.64 78.09,368.45 78.82,371.47 79.54,374.22 80.27,377.08 81,380.16 81.73,383.54 82.46,387.33 83.19,391.63 83.92,397.53 84.64,404.75 85.37,411.78 86.1,417.22 86.83,421.58 87.56,425.48 88.29,429.04 89.01,432.4 89.74,435.72 90.47,439.07 91.2,442.38 91.93,445.59 92.66,448.62 93.38,451.4 94.11,453.87 94.84,456.09 95.57,458.1 96.3,459.86 97.03,461.35 97.76,462.6 98.48,463.71 99.21,464.81 99.94,465.72 100.67,466.24 101.4,466.62 102.13,466.96 102.85,467.25 103.58,467.5 104.31,467.68 105.04,467.8 105.77,467.86 106.5,467.84 107.23,467.8 107.95,467.72 108.68,467.64 109.41,467.56 110.14,467.49 110.87,467.44 111.6,467.43 112.32,467.51 113.05,467.68 113.78,467.93 114.51,468.22 115.24,468.53 115.97,468.84 116.69,469.22 117.42,469.68 118.15,470.2 118.88,470.75 119.61,471.33 120.34,471.91 121.07,472.48 121.79,473.04 122.52,473.62 123.25,474.23 123.98,474.84 124.71,475.45 125.44,476.05 126.16,476.62 126.89,477.17 127.62,477.71 128.35,478.25 129.08,478.77 129.81,479.28 130.53,479.77 131.26,480.22 131.99,480.63 132.72,481.02 133.45,481.42 134.18,481.81 134.91,482.19 135.63,482.54 136.36,482.85 137.09,483.11 137.82,483.31 138.55,483.43 139.28,483.51 140,483.58 140.73,483.64 141.46,483.7 142.19,483.76 142.92,483.81 143.65,483.86 144.37,483.9 145.1,483.94 145.83,483.98 146.56,484.01 147.29,484.03 148.02,484.05 148.75,484.07 149.47,484.08 150.2,484.08 150.93,484.08 151.66,484.08 152.39,484.08 153.12,484.08 153.84,484.07 154.57,484.07 155.3,484.06 156.03,484.06 156.76,484.05 157.49,484.04 158.22,484.03 158.94,484.03 159.67,484.02 160.4,484.01 161.13,484 161.86,483.99 162.59,483.98 163.31,483.97 164.04,483.96 164.77,483.95 165.5,483.94 166.23,483.93 166.96,483.92 167.68,483.92 168.41,483.91 169.14,483.9 169.87,483.89 170.6,483.89 171.33,483.88 172.06,483.88 172.78,483.87 173.51,483.87 174.24,483.87 174.97,483.87 175.7,483.87 176.43,483.87 177.15,483.87 177.88,483.88 178.61,483.89 179.34,483.9 180.07,483.91 180.8,483.92 181.52,483.94 182.25,483.95 182.98,483.97 183.71,483.98 184.44,484 185.17,484.01 185.9,484.02 186.62,484.04 187.35,484.05 188.08,484.06 188.81,484.07 189.54,484.08 190.27,484.08 190.99,484.09 191.72,484.1 192.45,484.1 193.18,484.11 193.91,484.11 194.64,484.12 195.36,484.12 196.09,484.13 196.82,484.14 197.55,484.14 198.28,484.15 199.01,484.15 199.74,484.16 200.46,484.16 201.19,484.17 201.92,484.17 202.65,484.18 203.38,484.18 204.11,484.19 204.83,484.19 205.56,484.2 206.29,484.2 207.02,484.2 207.75,484.21 208.48,484.21 209.21,484.22 209.93,484.22 210.66,484.23 211.39,484.23 212.12,484.23 212.85,484.24 213.58,484.24 214.3,484.25 215.03,484.25 215.76,484.25 216.49,484.26 217.22,484.26 217.95,484.26 218.67,484.27 219.4,484.27 220.13,484.27 220.86,484.27 221.59,484.28 222.32,484.28 223.05,484.28 223.77,484.28 224.5,484.29 225.23,484.29 225.96,484.29 226.69,484.29 227.42,484.29 228.14,484.29 228.87,484.3 229.6,484.3 230.33,484.3 231.06,484.3 231.79,484.3 232.51,484.3 233.24,484.3 233.97,484.3 234.7,484.3" fill="none" stroke="#d62728" stroke-width="1.0" stroke-linejoin="round"/>
<line x1="56.9" y1="352.6" x2="56.9" y2="484.3" stroke="#ff7f0e" stroke-width="1" stroke-dasharray="4,2" stroke-opacity="0.7"/>
<line x1="56.3" y1="352.6" x2="56.3" y2="484.3" stroke="#2ca02c" stroke-width="1" stroke-dasharray="4,2" stroke-opacity="0.7"/>
<line x1="57.39" y1="352.6" x2="57.39" y2="484.3" stroke="#d62728" stroke-width="1" stroke-dasharray="4,2" stroke-opacity="0.7"/>
<line x1="68.38" y1="352.6" x2="68.38" y2="484.3" stroke="#1f77b4" stroke-width="1" stroke-dasharray="4,2" stroke-opacity="0.7"/>
<line x1="96.59" y1="352.6" x2="96.59" y2="484.3" stroke="#2ca02c" stroke-width="1" stroke-dasharray="4,2" stroke-opacity="0.7"/>
<line x1="101.35" y1="352.6" x2="101.35" y2="484.3" stroke="#ff7f0e" stroke-width="1" stroke-dasharray="4,2" stroke-opacity="0.7"/>
<line x1="101.64" y1="352.6" x2="101.64" y2="484.3" stroke="#d62728" stroke-width="1" stroke-dasharray="4,2" stroke-opacity="0.7"/>
<line x1="151.05" y1="352.6" x2="151.05" y2="484.3" stroke="#1f77b4" stroke-width="1" stroke-dasharray="4,2" stroke-opacity="0.7"/>
<path clip-path="url(#cP2)" d="M265.1,484.3 265.1,484.3 265.82,484.3 266.53,484.3 267.25,484.3 267.97,484.3 268.69,484.29 269.4,484.29 270.12,484.29 270.84,484.29 271.56,484.28 272.27,484.28 272.99,484.27 273.71,484.27 274.43,484.26 275.14,484.25 275.86,484.25 276.58,484.24 277.3,484.23 278.01,484.22 278.73,484.2 279.45,484.15 280.17,484.07 280.88,483.98 281.6,483.87 282.32,483.75 283.03,483.58 283.75,483.34 284.47,482.97 285.19,481.98 285.9,478.94 286.62,474.48 287.34,469.3 288.06,462.28 288.77,452.22 289.49,435.49 290.21,411.12 290.93,381.78 291.64,362.94 292.36,359.06 293.08,360.59 293.8,369.73 294.51,392.6 295.23,414.17 295.95,431.92 296.67,447.1 297.38,457.13 298.1,464.17 298.82,467.93 299.53,468.43 300.25,468.67 300.97,468.53 301.69,467.61 302.4,466.53 303.12,465.66 303.84,464.77 304.56,464.24 305.27,464.38 305.99,464.98 306.71,465.72 307.43,466.6 308.14,467.66 308.86,468.63 309.58,469.5 310.3,470.34 311.01,471.08 311.73,471.69 312.45,472.21 313.17,472.67 313.88,473.07 314.6,473.44 315.32,473.76 316.03,474.04 316.75,474.31 317.47,474.55 318.19,474.77 318.9,475 319.62,475.24 320.34,475.48 321.06,475.68 321.77,475.8 322.49,475.83 323.21,475.76 323.93,475.61 324.64,475.39 325.36,475.11 326.08,474.79 326.8,474.42 327.51,474.03 328.23,473.63 328.95,473.15 329.67,472.55 330.38,471.82 331.1,470.97 331.82,469.99 332.53,468.88 333.25,467.64 333.97,465.67 334.69,462.93 335.4,460.07 336.12,457.74 336.84,456.26 337.56,454.93 338.27,453.76 338.99,452.79 339.71,452.09 340.43,451.68 341.14,451.4 341.86,451.15 342.58,450.96 343.3,450.83 344.01,450.77 344.73,450.84 345.45,451.1 346.17,451.49 346.88,451.94 347.6,452.4 348.32,452.87 349.03,453.43 349.75,454.05 350.47,454.71 351.19,455.41 351.9,456.16 352.62,456.96 353.34,457.79 354.06,458.65 354.77,459.54 355.49,460.44 356.21,461.36 356.93,462.28 357.64,463.22 358.36,464.21 359.08,465.22 359.8,466.26 360.51,467.31 361.23,468.36 361.95,469.39 362.67,470.39 363.38,471.36 364.1,472.3 364.82,473.26 365.53,474.22 366.25,475.17 366.97,476.08 367.69,476.96 368.4,477.79 369.12,478.55 369.84,479.24 370.56,479.9 371.27,480.55 371.99,481.18 372.71,481.76 373.43,482.26 374.14,482.66 374.86,482.95 375.58,483.14 376.3,483.32 377.01,483.49 377.73,483.64 378.45,483.77 379.17,483.89 379.88,483.98 380.6,484.06 381.32,484.11 382.03,484.13 382.75,484.14 383.47,484.15 384.19,484.16 384.9,484.17 385.62,484.18 386.34,484.19 387.06,484.2 387.77,484.2 388.49,484.21 389.21,484.22 389.93,484.22 390.64,484.23 391.36,484.23 392.08,484.24 392.8,484.24 393.51,484.24 394.23,484.25 394.95,484.25 395.67,484.25 396.38,484.26 397.1,484.26 397.82,484.26 398.53,484.26 399.25,484.26 399.97,484.26 400.69,484.27 401.4,484.27 402.12,484.27 402.84,484.27 403.56,484.27 404.27,484.27 404.99,484.27 405.71,484.27 406.43,484.27 407.14,484.27 407.86,484.27 408.58,484.27 409.3,484.27 410.01,484.27 410.73,484.27 411.45,484.28 412.17,484.28 412.88,484.28 413.6,484.28 414.32,484.28 415.03,484.28 415.75,484.28 416.47,484.28 417.19,484.28 417.9,484.28 418.62,484.28 419.34,484.28 420.06,484.28 420.77,484.28 421.49,484.28 422.21,484.28 422.93,484.28 423.64,484.28 424.36,484.28 425.08,484.29 425.8,484.29 426.51,484.29 427.23,484.29 427.95,484.29 428.67,484.29 429.38,484.29 430.1,484.29 430.82,484.29 431.53,484.29 432.25,484.29 432.97,484.29 433.69,484.29 434.4,484.29 435.12,484.29 435.84,484.29 436.56,484.29 437.27,484.29 437.99,484.29 438.71,484.29 439.43,484.29 440.14,484.29 440.86,484.29 441.58,484.29 442.3,484.29 443.01,484.29 443.73,484.29 444.45,484.29 445.17,484.29 445.88,484.29 446.6,484.3 447.32,484.3 448.03,484.3 448.75,484.3 449.47,484.3 450.19,484.3 450.9,484.3 451.62,484.3 452.34,484.3 453.06,484.3 453.77,484.3 454.49,484.3 455.21,484.3 455.93,484.3 456.64,484.3 457.36,484.3 458.08,484.3 458.8,484.3 459.51,484.3 460.23,484.3 460.95,484.3 461.67,484.3 462.38,484.3 463.1,484.3 463.82,484.3 464.53,484.3 465.25,484.3 465.97,484.3 466.69,484.3 467.4,484.3 468.12,484.3 468.84,484.3 469.56,484.3 470.27,484.3 470.99,484.3 471.71,484.3 472.43,484.3 473.14,484.3 473.86,484.3 474.58,484.3 475.3,484.3 476.01,484.3 476.73,484.3 477.45,484.3 478.17,484.3 478.88,484.3 479.6,484.3 479.6,484.3Z" fill="#1f77b4" fill-opacity="0.25" stroke="none"/>
<path clip-path="url(#cP2)" d="M265.1,484.3 265.82,484.3 266.53,484.3 267.25,484.3 267.97,484.3 268.69,484.29 269.4,484.29 270.12,484.29 270.84,484.29 271.56,484.28 272.27,484.28 272.99,484.27 273.71,484.27 274.43,484.26 275.14,484.25 275.86,484.25 276.58,484.24 277.3,484.23 278.01,484.22 278.73,484.2 279.45,484.15 280.17,484.07 280.88,483.98 281.6,483.87 282.32,483.75 283.03,483.58 283.75,483.34 284.47,482.97 285.19,481.98 285.9,478.94 286.62,474.48 287.34,469.3 288.06,462.28 288.77,452.22 289.49,435.49 290.21,411.12 290.93,381.78 291.64,362.94 292.36,359.06 293.08,360.59 293.8,369.73 294.51,392.6 295.23,414.17 295.95,431.92 296.67,447.1 297.38,457.13 298.1,464.17 298.82,467.93 299.53,468.43 300.25,468.67 300.97,468.53 301.69,467.61 302.4,466.53 303.12,465.66 303.84,464.77 304.56,464.24 305.27,464.38 305.99,464.98 306.71,465.72 307.43,466.6 308.14,467.66 308.86,468.63 309.58,469.5 310.3,470.34 311.01,471.08 311.73,471.69 312.45,472.21 313.17,472.67 313.88,473.07 314.6,473.44 315.32,473.76 316.03,474.04 316.75,474.31 317.47,474.55 318.19,474.77 318.9,475 319.62,475.24 320.34,475.48 321.06,475.68 321.77,475.8 322.49,475.83 323.21,475.76 323.93,475.61 324.64,475.39 325.36,475.11 326.08,474.79 326.8,474.42 327.51,474.03 328.23,473.63 328.95,473.15 329.67,472.55 330.38,471.82 331.1,470.97 331.82,469.99 332.53,468.88 333.25,467.64 333.97,465.67 334.69,462.93 335.4,460.07 336.12,457.74 336.84,456.26 337.56,454.93 338.27,453.76 338.99,452.79 339.71,452.09 340.43,451.68 341.14,451.4 341.86,451.15 342.58,450.96 343.3,450.83 344.01,450.77 344.73,450.84 345.45,451.1 346.17,451.49 346.88,451.94 347.6,452.4 348.32,452.87 349.03,453.43 349.75,454.05 350.47,454.71 351.19,455.41 351.9,456.16 352.62,456.96 353.34,457.79 354.06,458.65 354.77,459.54 355.49,460.44 356.21,461.36 356.93,462.28 357.64,463.22 358.36,464.21 359.08,465.22 359.8,466.26 360.51,467.31 361.23,468.36 361.95,469.39 362.67,470.39 363.38,471.36 364.1,472.3 364.82,473.26 365.53,474.22 366.25,475.17 366.97,476.08 367.69,476.96 368.4,477.79 369.12,478.55 369.84,479.24 370.56,479.9 371.27,480.55 371.99,481.18 372.71,481.76 373.43,482.26 374.14,482.66 374.86,482.95 375.58,483.14 376.3,483.32 377.01,483.49 377.73,483.64 378.45,483.77 379.17,483.89 379.88,483.98 380.6,484.06 381.32,484.11 382.03,484.13 382.75,484.14 383.47,484.15 384.19,484.16 384.9,484.17 385.62,484.18 386.34,484.19 387.06,484.2 387.77,484.2 388.49,484.21 389.21,484.22 389.93,484.22 390.64,484.23 391.36,484.23 392.08,484.24 392.8,484.24 393.51,484.24 394.23,484.25 394.95,484.25 395.67,484.25 396.38,484.26 397.1,484.26 397.82,484.26 398.53,484.26 399.25,484.26 399.97,484.26 400.69,484.27 401.4,484.27 402.12,484.27 402.84,484.27 403.56,484.27 404.27,484.27 404.99,484.27 405.71,484.27 406.43,484.27 407.14,484.27 407.86,484.27 408.58,484.27 409.3,484.27 410.01,484.27 410.73,484.27 411.45,484.28 412.17,484.28 412.88,484.28 413.6,484.28 414.32,484.28 415.03,484.28 415.75,484.28 416.47,484.28 417.19,484.28 417.9,484.28 418.62,484.28 419.34,484.28 420.06,484.28 420.77,484.28 421.49,484.28 422.21,484.28 422.93,484.28 423.64,484.28 424.36,484.28 425.08,484.29 425.8,484.29 426.51,484.29 427.23,484.29 427.95,484.29 428.67,484.29 429.38,484.29 430.1,484.29 430.82,484.29 431.53,484.29 432.25,484.29 432.97,484.29 433.69,484.29 434.4,484.29 435.12,484.29 435.84,484.29 436.56,484.29 437.27,484.29 437.99,484.29 438.71,484.29 439.43,484.29 440.14,484.29 440.86,484.29 441.58,484.29 442.3,484.29 443.01,484.29 443.73,484.29 444.45,484.29 445.17,484.29 445.88,484.29 446.6,484.3 447.32,484.3 448.03,484.3 448.75,484.3 449.47,484.3 450.19,484.3 450.9,484.3 451.62,484.3 452.34,484.3 453.06,484.3 453.77,484.3 454.49,484.3 455.21,484.3 455.93,484.3 456.64,484.3 457.36,484.3 458.08,484.3 458.8,484.3 459.51,484.3 460.23,484.3 460.95,484.3 461.67,484.3 462.38,484.3 463.1,484.3 463.82,484.3 464.53,484.3 465.25,484.3 465.97,484.3 466.69,484.3 467.4,484.3 468.12,484.3 468.84,484.3 469.56,484.3 470.27,484.3 470.99,484.3 471.71,484.3 472.43,484.3 473.14,484.3 473.86,484.3 474.58,484.3 475.3,484.3 476.01,484.3 476.73,484.3 477.45,484.3 478.17,484.3 478.88,484.3 479.6,484.3" fill="none" stroke="#1f77b4" stroke-width="1.0" stroke-linejoin="round"/>
<path clip-path="url(#cP2)" d="M265.1,484.3 265.1,484.3 265.82,484.3 266.53,484.3 267.25,484.3 267.97,484.3 268.69,484.3 269.4,484.3 270.12,484.29 270.84,484.29 271.56,484.29 272.27,484.29 272.99,484.29 273.71,484.29 274.43,484.28 275.14,484.28 275.86,484.28 276.58,484.27 277.3,484.27 278.01,484.27 278.73,484.26 279.45,484.25 280.17,484.24 280.88,484.23 281.6,484.21 282.32,484.19 283.03,484.17 283.75,484.14 284.47,484.11 285.19,484.08 285.9,484.04 286.62,484 287.34,483.96 288.06,483.89 288.77,483.79 289.49,483.65 290.21,483.49 290.93,483.3 291.64,483.08 292.36,482.85 293.08,482.6 293.8,482.34 294.51,482.06 295.23,481.76 295.95,481.39 296.67,480.94 297.38,480.44 298.1,479.91 298.82,479.34 299.53,478.77 300.25,478.17 300.97,477.49 301.69,476.76 302.4,476.01 303.12,475.25 303.84,474.52 304.56,473.85 305.27,473.18 305.99,472.43 306.71,471.73 307.43,471.22 308.14,471.02 308.86,471.04 309.58,471.1 310.3,471.19 311.01,471.3 311.73,471.43 312.45,471.56 313.17,471.7 313.88,471.88 314.6,472.1 315.32,472.35 316.03,472.62 316.75,472.89 317.47,473.14 318.19,473.36 318.9,473.57 319.62,473.8 320.34,474.02 321.06,474.2 321.77,474.31 322.49,474.33 323.21,474.2 323.93,473.92 324.64,473.55 325.36,473.13 326.08,472.65 326.8,472 327.51,471.15 328.23,470.05 328.95,468.07 329.67,465.46 330.38,462.94 331.1,460.27 331.82,457.46 332.53,454.61 333.25,451.81 333.97,449.14 334.69,446.71 335.4,444.55 336.12,442.45 336.84,440.42 337.56,438.49 338.27,436.7 338.99,435.09 339.71,433.7 340.43,432.57 341.14,431.56 341.86,430.63 342.58,429.82 343.3,429.12 344.01,428.58 344.73,428.19 345.45,427.84 346.17,427.56 346.88,427.39 347.6,427.38 348.32,427.53 349.03,427.8 349.75,428.16 350.47,428.6 351.19,429.09 351.9,429.59 352.62,430.21 353.34,430.99 354.06,431.92 354.77,432.97 355.49,434.1 356.21,435.29 356.93,436.51 357.64,437.82 358.36,439.31 359.08,440.93 359.8,442.64 360.51,444.41 361.23,446.2 361.95,447.96 362.67,449.71 363.38,451.51 364.1,453.36 364.82,455.21 365.53,457.06 366.25,458.87 366.97,460.63 367.69,462.35 368.4,464.12 369.12,465.88 369.84,467.61 370.56,469.25 371.27,470.76 371.99,472.09 372.71,473.23 373.43,474.31 374.14,475.35 374.86,476.33 375.58,477.24 376.3,478.08 377.01,478.83 377.73,479.49 378.45,480.05 379.17,480.51 379.88,480.93 380.6,481.33 381.32,481.7 382.03,482.04 382.75,482.33 383.47,482.58 384.19,482.78 384.9,482.93 385.62,483.02 386.34,483.1 387.06,483.18 387.77,483.25 388.49,483.32 389.21,483.38 389.93,483.44 390.64,483.49 391.36,483.53 392.08,483.57 392.8,483.59 393.51,483.62 394.23,483.63 394.95,483.64 395.67,483.63 396.38,483.63 397.1,483.61 397.82,483.6 398.53,483.58 399.25,483.56 399.97,483.53 400.69,483.5 401.4,483.48 402.12,483.45 402.84,483.42 403.56,483.4 404.27,483.37 404.99,483.35 405.71,483.33 406.43,483.32 407.14,483.31 407.86,483.3 408.58,483.31 409.3,483.31 410.01,483.33 410.73,483.35 411.45,483.37 412.17,483.4 412.88,483.43 413.6,483.46 414.32,483.49 415.03,483.53 415.75,483.57 416.47,483.6 417.19,483.64 417.9,483.68 418.62,483.71 419.34,483.74 420.06,483.77 420.77,483.79 421.49,483.81 422.21,483.83 422.93,483.85 423.64,483.87 424.36,483.89 425.08,483.91 425.8,483.93 426.51,483.95 427.23,483.97 427.95,483.99 428.67,484.01 429.38,484.03 430.1,484.05 430.82,484.07 431.53,484.08 432.25,484.1 432.97,484.11 433.69,484.13 434.4,484.14 435.12,484.16 435.84,484.17 436.56,484.18 437.27,484.19 437.99,484.2 438.71,484.2 439.43,484.21 440.14,484.21 440.86,484.22 441.58,484.22 442.3,484.22 443.01,484.23 443.73,484.23 444.45,484.23 445.17,484.24 445.88,484.24 446.6,484.24 447.32,484.24 448.03,484.25 448.75,484.25 449.47,484.25 450.19,484.25 450.9,484.26 451.62,484.26 452.34,484.26 453.06,484.26 453.77,484.26 454.49,484.27 455.21,484.27 455.93,484.27 456.64,484.27 457.36,484.27 458.08,484.27 458.8,484.28 459.51,484.28 460.23,484.28 460.95,484.28 461.67,484.28 462.38,484.28 463.1,484.29 463.82,484.29 464.53,484.29 465.25,484.29 465.97,484.29 466.69,484.29 467.4,484.29 468.12,484.29 468.84,484.29 469.56,484.29 470.27,484.3 470.99,484.3 471.71,484.3 472.43,484.3 473.14,484.3 473.86,484.3 474.58,484.3 475.3,484.3 476.01,484.3 476.73,484.3 477.45,484.3 478.17,484.3 478.88,484.3 479.6,484.3 479.6,484.3Z" fill="#ff7f0e" fill-opacity="0.25" stroke="none"/>
<path clip-path="url(#cP2)" d="M265.1,484.3 265.82,484.3 266.53,484.3 267.25,484.3 267.97,484.3 268.69,484.3 269.4,484.3 270.12,484.29 270.84,484.29 271.56,484.29 272.27,484.29 272.99,484.29 273.71,484.29 274.43,484.28 275.14,484.28 275.86,484.28 276.58,484.27 277.3,484.27 278.01,484.27 278.73,484.26 279.45,484.25 280.17,484.24 280.88,484.23 281.6,484.21 282.32,484.19 283.03,484.17 283.75,484.14 284.47,484.11 285.19,484.08 285.9,484.04 286.62,484 287.34,483.96 288.06,483.89 288.77,483.79 289.49,483.65 290.21,483.49 290.93,483.3 291.64,483.08 292.36,482.85 293.08,482.6 293.8,482.34 294.51,482.06 295.23,481.76 295.95,481.39 296.67,480.94 297.38,480.44 298.1,479.91 298.82,479.34 299.53,478.77 300.25,478.17 300.97,477.49 301.69,476.76 302.4,476.01 303.12,475.25 303.84,474.52 304.56,473.85 305.27,473.18 305.99,472.43 306.71,471.73 307.43,471.22 308.14,471.02 308.86,471.04 309.58,471.1 310.3,471.19 311.01,471.3 311.73,471.43 312.45,471.56 313.17,471.7 313.88,471.88 314.6,472.1 315.32,472.35 316.03,472.62 316.75,472.89 317.47,473.14 318.19,473.36 318.9,473.57 319.62,473.8 320.34,474.02 321.06,474.2 321.77,474.31 322.49,474.33 323.21,474.2 323.93,473.92 324.64,473.55 325.36,473.13 326.08,472.65 326.8,472 327.51,471.15 328.23,470.05 328.95,468.07 329.67,465.46 330.38,462.94 331.1,460.27 331.82,457.46 332.53,454.61 333.25,451.81 333.97,449.14 334.69,446.71 335.4,444.55 336.12,442.45 336.84,440.42 337.56,438.49 338.27,436.7 338.99,435.09 339.71,433.7 340.43,432.57 341.14,431.56 341.86,430.63 342.58,429.82 343.3,429.12 344.01,428.58 344.73,428.19 345.45,427.84 346.17,427.56 346.88,427.39 347.6,427.38 348.32,427.53 349.03,427.8 349.75,428.16 350.47,428.6 351.19,429.09 351.9,429.59 352.62,430.21 353.34,430.99 354.06,431.92 354.77,432.97 355.49,434.1 356.21,435.29 356.93,436.51 357.64,437.82 358.36,439.31 359.08,440.93 359.8,442.64 360.51,444.41 361.23,446.2 361.95,447.96 362.67,449.71 363.38,451.51 364.1,453.36 364.82,455.21 365.53,457.06 366.25,458.87 366.97,460.63 367.69,462.35 368.4,464.12 369.12,465.88 369.84,467.61 370.56,469.25 371.27,470.76 371.99,472.09 372.71,473.23 373.43,474.31 374.14,475.35 374.86,476.33 375.58,477.24 376.3,478.08 377.01,478.83 377.73,479.49 378.45,480.05 379.17,480.51 379.88,480.93 380.6,481.33 381.32,481.7 382.03,482.04 382.75,482.33 383.47,482.58 384.19,482.78 384.9,482.93 385.62,483.02 386.34,483.1 387.06,483.18 387.77,483.25 388.49,483.32 389.21,483.38 389.93,483.44 390.64,483.49 391.36,483.53 392.08,483.57 392.8,483.59 393.51,483.62 394.23,483.63 394.95,483.64 395.67,483.63 396.38,483.63 397.1,483.61 397.82,483.6 398.53,483.58 399.25,483.56 399.97,483.53 400.69,483.5 401.4,483.48 402.12,483.45 402.84,483.42 403.56,483.4 404.27,483.37 404.99,483.35 405.71,483.33 406.43,483.32 407.14,483.31 407.86,483.3 408.58,483.31 409.3,483.31 410.01,483.33 410.73,483.35 411.45,483.37 412.17,483.4 412.88,483.43 413.6,483.46 414.32,483.49 415.03,483.53 415.75,483.57 416.47,483.6 417.19,483.64 417.9,483.68 418.62,483.71 419.34,483.74 420.06,483.77 420.77,483.79 421.49,483.81 422.21,483.83 422.93,483.85 423.64,483.87 424.36,483.89 425.08,483.91 425.8,483.93 426.51,483.95 427.23,483.97 427.95,483.99 428.67,484.01 429.38,484.03 430.1,484.05 430.82,484.07 431.53,484.08 432.25,484.1 432.97,484.11 433.69,484.13 434.4,484.14 435.12,484.16 435.84,484.17 436.56,484.18 437.27,484.19 437.99,484.2 438.71,484.2 439.43,484.21 440.14,484.21 440.86,484.22 441.58,484.22 442.3,484.22 443.01,484.23 443.73,484.23 444.45,484.23 445.17,484.24 445.88,484.24 446.6,484.24 447.32,484.24 448.03,484.25 448.75,484.25 449.47,484.25 450.19,484.25 450.9,484.26 451.62,484.26 452.34,484.26 453.06,484.26 453.77,484.26 454.49,484.27 455.21,484.27 455.93,484.27 456.64,484.27 457.36,484.27 458.08,484.27 458.8,484.28 459.51,484.28 460.23,484.28 460.95,484.28 461.67,484.28 462.38,484.28 463.1,484.29 463.82,484.29 464.53,484.29 465.25,484.29 465.97,484.29 466.69,484.29 467.4,484.29 468.12,484.29 468.84,484.29 469.56,484.29 470.27,484.3 470.99,484.3 471.71,484.3 472.43,484.3 473.14,484.3 473.86,484.3 474.58,484.3 475.3,484.3 476.01,484.3 476.73,484.3 477.45,484.3 478.17,484.3 478.88,484.3 479.6,484.3" fill="none" stroke="#ff7f0e" stroke-width="1.0" stroke-linejoin="round"/>
<path clip-path="url(#cP2)" d="M265.1,484.3 265.1,484.3 265.82,484.3 266.53,484.3 267.25,484.3 267.97,484.3 268.69,484.3 269.4,484.3 270.12,484.29 270.84,484.29 271.56,484.29 272.27,484.29 272.99,484.29 273.71,484.29 274.43,484.28 275.14,484.28 275.86,484.28 276.58,484.27 277.3,484.27 278.01,484.27 278.73,484.26 279.45,484.25 280.17,484.24 280.88,484.23 281.6,484.21 282.32,484.19 283.03,484.17 283.75,484.14 284.47,484.11 285.19,484.08 285.9,484.04 286.62,484 287.34,483.96 288.06,483.89 288.77,483.79 289.49,483.65 290.21,483.49 290.93,483.3 291.64,483.08 292.36,482.85 293.08,482.6 293.8,482.34 294.51,482.06 295.23,481.76 295.95,481.37 296.67,480.91 297.38,480.4 298.1,479.86 298.82,479.31 299.53,478.76 300.25,478.22 300.97,477.65 301.69,477.05 302.4,476.45 303.12,475.84 303.84,475.25 304.56,474.67 305.27,474.08 305.99,473.4 306.71,472.75 307.43,472.27 308.14,472.08 308.86,472.1 309.58,472.16 310.3,472.24 311.01,472.34 311.73,472.46 312.45,472.58 313.17,472.71 313.88,472.87 314.6,473.08 315.32,473.31 316.03,473.56 316.75,473.8 317.47,474.03 318.19,474.23 318.9,474.43 319.62,474.64 320.34,474.84 321.06,475.01 321.77,475.11 322.49,475.12 323.21,474.88 323.93,474.41 324.64,473.8 325.36,473.17 326.08,472.58 326.8,471.93 327.51,471.12 328.23,470.05 328.95,468.07 329.67,465.46 330.38,462.94 331.1,460.27 331.82,457.46 332.53,454.61 333.25,451.81 333.97,449.14 334.69,446.71 335.4,444.55 336.12,442.47 336.84,440.47 337.56,438.57 338.27,436.79 338.99,435.18 339.71,433.76 340.43,432.54 341.14,431.42 341.86,430.38 342.58,429.44 343.3,428.64 344.01,428.04 344.73,427.63 345.45,427.27 346.17,426.99 346.88,426.82 347.6,426.81 348.32,426.96 349.03,427.23 349.75,427.6 350.47,428.05 351.19,428.53 351.9,429.04 352.62,429.67 353.34,430.46 354.06,431.4 354.77,432.45 355.49,433.6 356.21,434.8 356.93,436.04 357.64,437.36 358.36,438.85 359.08,440.48 359.8,442.21 360.51,444 361.23,445.81 361.95,447.59 362.67,449.38 363.38,451.24 364.1,453.14 364.82,455.06 365.53,456.97 366.25,458.83 366.97,460.62 367.69,462.37 368.4,464.14 369.12,465.91 369.84,467.63 370.56,469.26 371.27,470.76 371.99,472.09 372.71,473.23 373.43,474.31 374.14,475.35 374.86,476.33 375.58,477.24 376.3,478.08 377.01,478.83 377.73,479.49 378.45,480.05 379.17,480.51 379.88,480.93 380.6,481.33 381.32,481.7 382.03,482.04 382.75,482.33 383.47,482.58 384.19,482.78 384.9,482.93 385.62,483.02 386.34,483.1 387.06,483.18 387.77,483.25 388.49,483.32 389.21,483.38 389.93,483.44 390.64,483.49 391.36,483.53 392.08,483.57 392.8,483.59 393.51,483.62 394.23,483.63 394.95,483.64 395.67,483.63 396.38,483.63 397.1,483.61 397.82,483.6 398.53,483.58 399.25,483.56 399.97,483.53 400.69,483.5 401.4,483.48 402.12,483.45 402.84,483.42 403.56,483.4 404.27,483.37 404.99,483.35 405.71,483.33 406.43,483.32 407.14,483.31 407.86,483.3 408.58,483.31 409.3,483.31 410.01,483.33 410.73,483.35 411.45,483.37 412.17,483.4 412.88,483.43 413.6,483.46 414.32,483.49 415.03,483.53 415.75,483.57 416.47,483.6 417.19,483.64 417.9,483.68 418.62,483.71 419.34,483.74 420.06,483.77 420.77,483.79 421.49,483.81 422.21,483.83 422.93,483.85 423.64,483.87 424.36,483.89 425.08,483.91 425.8,483.93 426.51,483.95 427.23,483.97 427.95,483.99 428.67,484.01 429.38,484.03 430.1,484.05 430.82,484.07 431.53,484.08 432.25,484.1 432.97,484.11 433.69,484.13 434.4,484.14 435.12,484.16 435.84,484.17 436.56,484.18 437.27,484.19 437.99,484.2 438.71,484.2 439.43,484.21 440.14,484.21 440.86,484.22 441.58,484.22 442.3,484.22 443.01,484.23 443.73,484.23 444.45,484.23 445.17,484.24 445.88,484.24 446.6,484.24 447.32,484.24 448.03,484.25 448.75,484.25 449.47,484.25 450.19,484.25 450.9,484.26 451.62,484.26 452.34,484.26 453.06,484.26 453.77,484.26 454.49,484.27 455.21,484.27 455.93,484.27 456.64,484.27 457.36,484.27 458.08,484.27 458.8,484.28 459.51,484.28 460.23,484.28 460.95,484.28 461.67,484.28 462.38,484.28 463.1,484.29 463.82,484.29 464.53,484.29 465.25,484.29 465.97,484.29 466.69,484.29 467.4,484.29 468.12,484.29 468.84,484.29 469.56,484.29 470.27,484.3 470.99,484.3 471.71,484.3 472.43,484.3 473.14,484.3 473.86,484.3 474.58,484.3 475.3,484.3 476.01,484.3 476.73,484.3 477.45,484.3 478.17,484.3 478.88,484.3 479.6,484.3 479.6,484.3Z" fill="#2ca02c" fill-opacity="0.25" stroke="none"/>
<path clip-path="url(#cP2)" d="M265.1,484.3 265.82,484.3 266.53,484.3 267.25,484.3 267.97,484.3 268.69,484.3 269.4,484.3 270.12,484.29 270.84,484.29 271.56,484.29 272.27,484.29 272.99,484.29 273.71,484.29 274.43,484.28 275.14,484.28 275.86,484.28 276.58,484.27 277.3,484.27 278.01,484.27 278.73,484.26 279.45,484.25 280.17,484.24 280.88,484.23 281.6,484.21 282.32,484.19 283.03,484.17 283.75,484.14 284.47,484.11 285.19,484.08 285.9,484.04 286.62,484 287.34,483.96 288.06,483.89 288.77,483.79 289.49,483.65 290.21,483.49 290.93,483.3 291.64,483.08 292.36,482.85 293.08,482.6 293.8,482.34 294.51,482.06 295.23,481.76 295.95,481.37 296.67,480.91 297.38,480.4 298.1,479.86 298.82,479.31 299.53,478.76 300.25,478.22 300.97,477.65 301.69,477.05 302.4,476.45 303.12,475.84 303.84,475.25 304.56,474.67 305.27,474.08 305.99,473.4 306.71,472.75 307.43,472.27 308.14,472.08 308.86,472.1 309.58,472.16 310.3,472.24 311.01,472.34 311.73,472.46 312.45,472.58 313.17,472.71 313.88,472.87 314.6,473.08 315.32,473.31 316.03,473.56 316.75,473.8 317.47,474.03 318.19,474.23 318.9,474.43 319.62,474.64 320.34,474.84 321.06,475.01 321.77,475.11 322.49,475.12 323.21,474.88 323.93,474.41 324.64,473.8 325.36,473.17 326.08,472.58 326.8,471.93 327.51,471.12 328.23,470.05 328.95,468.07 329.67,465.46 330.38,462.94 331.1,460.27 331.82,457.46 332.53,454.61 333.25,451.81 333.97,449.14 334.69,446.71 335.4,444.55 336.12,442.47 336.84,440.47 337.56,438.57 338.27,436.79 338.99,435.18 339.71,433.76 340.43,432.54 341.14,431.42 341.86,430.38 342.58,429.44 343.3,428.64 344.01,428.04 344.73,427.63 345.45,427.27 346.17,426.99 346.88,426.82 347.6,426.81 348.32,426.96 349.03,427.23 349.75,427.6 350.47,428.05 351.19,428.53 351.9,429.04 352.62,429.67 353.34,430.46 354.06,431.4 354.77,432.45 355.49,433.6 356.21,434.8 356.93,436.04 357.64,437.36 358.36,438.85 359.08,440.48 359.8,442.21 360.51,444 361.23,445.81 361.95,447.59 362.67,449.38 363.38,451.24 364.1,453.14 364.82,455.06 365.53,456.97 366.25,458.83 366.97,460.62 367.69,462.37 368.4,464.14 369.12,465.91 369.84,467.63 370.56,469.26 371.27,470.76 371.99,472.09 372.71,473.23 373.43,474.31 374.14,475.35 374.86,476.33 375.58,477.24 376.3,478.08 377.01,478.83 377.73,479.49 378.45,480.05 379.17,480.51 379.88,480.93 380.6,481.33 381.32,481.7 382.03,482.04 382.75,482.33 383.47,482.58 384.19,482.78 384.9,482.93 385.62,483.02 386.34,483.1 387.06,483.18 387.77,483.25 388.49,483.32 389.21,483.38 389.93,483.44 390.64,483.49 391.36,483.53 392.08,483.57 392.8,483.59 393.51,483.62 394.23,483.63 394.95,483.64 395.67,483.63 396.38,483.63 397.1,483.61 397.82,483.6 398.53,483.58 399.25,483.56 399.97,483.53 400.69,483.5 401.4,483.48 402.12,483.45 402.84,483.42 403.56,483.4 404.27,483.37 404.99,483.35 405.71,483.33 406.43,483.32 407.14,483.31 407.86,483.3 408.58,483.31 409.3,483.31 410.01,483.33 410.73,483.35 411.45,483.37 412.17,483.4 412.88,483.43 413.6,483.46 414.32,483.49 415.03,483.53 415.75,483.57 416.47,483.6 417.19,483.64 417.9,483.68 418.62,483.71 419.34,483.74 420.06,483.77 420.77,483.79 421.49,483.81 422.21,483.83 422.93,483.85 423.64,483.87 424.36,483.89 425.08,483.91 425.8,483.93 426.51,483.95 427.23,483.97 427.95,483.99 428.67,484.01 429.38,484.03 430.1,484.05 430.82,484.07 431.53,484.08 432.25,484.1 432.97,484.11 433.69,484.13 434.4,484.14 435.12,484.16 435.84,484.17 436.56,484.18 437.27,484.19 437.99,484.2 438.71,484.2 439.43,484.21 440.14,484.21 440.86,484.22 441.58,484.22 442.3,484.22 443.01,484.23 443.73,484.23 444.45,484.23 445.17,484.24 445.88,484.24 446.6,484.24 447.32,484.24 448.03,484.25 448.75,484.25 449.47,484.25 450.19,484.25 450.9,484.26 451.62,484.26 452.34,484.26 453.06,484.26 453.77,484.26 454.49,484.27 455.21,484.27 455.93,484.27 456.64,484.27 457.36,484.27 458.08,484.27 458.8,484.28 459.51,484.28 460.23,484.28 460.95,484.28 461.67,484.28 462.38,484.28 463.1,484.29 463.82,484.29 464.53,484.29 465.25,484.29 465.97,484.29 466.69,484.29 467.4,484.29 468.12,484.29 468.84,484.29 469.56,484.29 470.27,484.3 470.99,484.3 471.71,484.3 472.43,484.3 473.14,484.3 473.86,484.3 474.58,484.3 475.3,484.3 476.01,484.3 476.73,484.3 477.45,484.3 478.17,484.3 478.88,484.3 479.6,484.3" fill="none" stroke="#2ca02c" stroke-width="1.0" stroke-linejoin="round"/>
<path clip-path="url(#cP2)" d="M265.1,484.3 265.1,484.3 265.82,484.3 266.53,484.3 267.25,484.3 267.97,484.3 268.69,484.3 269.4,484.3 270.12,484.29 270.84,484.29 271.56,484.29 272.27,484.29 272.99,484.29 273.71,484.29 274.43,484.28 275.14,484.28 275.86,484.28 276.58,484.27 277.3,484.27 278.01,484.27 278.73,484.26 279.45,484.25 280.17,484.24 280.88,484.23 281.6,484.21 282.32,484.19 283.03,484.17 283.75,484.14 284.47,484.11 285.19,484.08 285.9,484.04 286.62,484 287.34,483.96 288.06,483.89 288.77,483.79 289.49,483.65 290.21,483.49 290.93,483.3 291.64,483.08 292.36,482.85 293.08,482.6 293.8,482.34 294.51,482.06 295.23,481.76 295.95,481.36 296.67,480.88 297.38,480.36 298.1,479.81 298.82,479.27 299.53,478.75 300.25,478.27 300.97,477.79 301.69,477.31 302.4,476.84 303.12,476.36 303.84,475.88 304.56,475.4 305.27,474.87 305.99,474.25 306.71,473.64 307.43,473.19 308.14,473.01 308.86,473.03 309.58,473.08 310.3,473.16 311.01,473.25 311.73,473.36 312.45,473.47 313.17,473.59 313.88,473.74 314.6,473.93 315.32,474.15 316.03,474.37 316.75,474.6 317.47,474.81 318.19,475 318.9,475.18 319.62,475.38 320.34,475.56 321.06,475.71 321.77,475.81 322.49,475.82 323.21,475.47 323.93,474.82 324.64,474 325.36,473.2 326.08,472.53 326.8,471.88 327.51,471.11 328.23,470.05 328.95,468.07 329.67,465.46 330.38,462.94 331.1,460.27 331.82,457.46 332.53,454.61 333.25,451.81 333.97,449.14 334.69,446.71 335.4,444.55 336.12,442.45 336.84,440.42 337.56,438.49 338.27,436.7 338.99,435.09 339.71,433.7 340.43,432.57 341.14,431.56 341.86,430.63 342.58,429.82 343.3,429.12 344.01,428.58 344.73,428.19 345.45,427.84 346.17,427.56 346.88,427.39 347.6,427.38 348.32,427.53 349.03,427.8 349.75,428.16 350.47,428.6 351.19,429.09 351.9,429.59 352.62,430.21 353.34,430.99 354.06,431.92 354.77,432.97 355.49,434.1 356.21,435.29 356.93,436.51 357.64,437.82 358.36,439.31 359.08,440.93 359.8,442.64 360.51,444.41 361.23,446.2 361.95,447.96 362.67,449.71 363.38,451.51 364.1,453.36 364.82,455.21 365.53,457.06 366.25,458.87 366.97,460.63 367.69,462.35 368.4,464.12 369.12,465.88 369.84,467.61 370.56,469.25 371.27,470.76 371.99,472.09 372.71,473.23 373.43,474.31 374.14,475.35 374.86,476.33 375.58,477.24 376.3,478.08 377.01,478.83 377.73,479.49 378.45,480.05 379.17,480.51 379.88,480.95 380.6,481.37 381.32,481.77 382.03,482.13 382.75,482.44 383.47,482.69 384.19,482.87 384.9,482.96 385.62,482.97 386.34,482.97 387.06,482.96 387.77,482.96 388.49,482.95 389.21,482.94 389.93,482.93 390.64,482.91 391.36,482.9 392.08,482.88 392.8,482.87 393.51,482.85 394.23,482.83 394.95,482.81 395.67,482.79 396.38,482.75 397.1,482.7 397.82,482.65 398.53,482.58 399.25,482.51 399.97,482.44 400.69,482.36 401.4,482.29 402.12,482.21 402.84,482.13 403.56,482.06 404.27,482 404.99,481.94 405.71,481.89 406.43,481.85 407.14,481.82 407.86,481.81 408.58,481.81 409.3,481.83 410.01,481.85 410.73,481.88 411.45,481.93 412.17,481.98 412.88,482.03 413.6,482.09 414.32,482.16 415.03,482.23 415.75,482.3 416.47,482.37 417.19,482.45 417.9,482.52 418.62,482.59 419.34,482.66 420.06,482.72 420.77,482.78 421.49,482.84 422.21,482.89 422.93,482.95 423.64,483.01 424.36,483.08 425.08,483.14 425.8,483.21 426.51,483.28 427.23,483.35 427.95,483.41 428.67,483.48 429.38,483.55 430.1,483.61 430.82,483.68 431.53,483.74 432.25,483.8 432.97,483.86 433.69,483.92 434.4,483.97 435.12,484.01 435.84,484.06 436.56,484.1 437.27,484.13 437.99,484.16 438.71,484.18 439.43,484.2 440.14,484.21 440.86,484.22 441.58,484.22 442.3,484.22 443.01,484.23 443.73,484.23 444.45,484.23 445.17,484.24 445.88,484.24 446.6,484.24 447.32,484.24 448.03,484.25 448.75,484.25 449.47,484.25 450.19,484.25 450.9,484.26 451.62,484.26 452.34,484.26 453.06,484.26 453.77,484.27 454.49,484.27 455.21,484.27 455.93,484.27 456.64,484.27 457.36,484.27 458.08,484.28 458.8,484.28 459.51,484.28 460.23,484.28 460.95,484.28 461.67,484.28 462.38,484.29 463.1,484.29 463.82,484.29 464.53,484.29 465.25,484.29 465.97,484.29 466.69,484.29 467.4,484.29 468.12,484.29 468.84,484.29 469.56,484.3 470.27,484.3 470.99,484.3 471.71,484.3 472.43,484.3 473.14,484.3 473.86,484.3 474.58,484.3 475.3,484.3 476.01,484.3 476.73,484.3 477.45,484.3 478.17,484.3 478.88,484.3 479.6,484.3 479.6,484.3Z" fill="#d62728" fill-opacity="0.25" stroke="none"/>
<path clip-path="url(#cP2)" d="M265.1,484.3 265.82,484.3 266.53,484.3 267.25,484.3 267.97,484.3 268.69,484.3 269.4,484.3 270.12,484.29 270.84,484.29 271.56,484.29 272.27,484.29 272.99,484.29 273.71,484.29 274.43,484.28 275.14,484.28 275.86,484.28 276.58,484.27 277.3,484.27 278.01,484.27 278.73,484.26 279.45,484.25 280.17,484.24 280.88,484.23 281.6,484.21 282.32,484.19 283.03,484.17 283.75,484.14 284.47,484.11 285.19,484.08 285.9,484.04 286.62,484 287.34,483.96 288.06,483.89 288.77,483.79 289.49,483.65 290.21,483.49 290.93,483.3 291.64,483.08 292.36,482.85 293.08,482.6 293.8,482.34 294.51,482.06 295.23,481.76 295.95,481.36 296.67,480.88 297.38,480.36 298.1,479.81 298.82,479.27 299.53,478.75 300.25,478.27 300.97,477.79 301.69,477.31 302.4,476.84 303.12,476.36 303.84,475.88 304.56,475.4 305.27,474.87 305.99,474.25 306.71,473.64 307.43,473.19 308.14,473.01 308.86,473.03 309.58,473.08 310.3,473.16 311.01,473.25 311.73,473.36 312.45,473.47 313.17,473.59 313.88,473.74 314.6,473.93 315.32,474.15 316.03,474.37 316.75,474.6 317.47,474.81 318.19,475 318.9,475.18 319.62,475.38 320.34,475.56 321.06,475.71 321.77,475.81 322.49,475.82 323.21,475.47 323.93,474.82 324.64,474 325.36,473.2 326.08,472.53 326.8,471.88 327.51,471.11 328.23,470.05 328.95,468.07 329.67,465.46 330.38,462.94 331.1,460.27 331.82,457.46 332.53,454.61 333.25,451.81 333.97,449.14 334.69,446.71 335.4,444.55 336.12,442.45 336.84,440.42 337.56,438.49 338.27,436.7 338.99,435.09 339.71,433.7 340.43,432.57 341.14,431.56 341.86,430.63 342.58,429.82 343.3,429.12 344.01,428.58 344.73,428.19 345.45,427.84 346.17,427.56 346.88,427.39 347.6,427.38 348.32,427.53 349.03,427.8 349.75,428.16 350.47,428.6 351.19,429.09 351.9,429.59 352.62,430.21 353.34,430.99 354.06,431.92 354.77,432.97 355.49,434.1 356.21,435.29 356.93,436.51 357.64,437.82 358.36,439.31 359.08,440.93 359.8,442.64 360.51,444.41 361.23,446.2 361.95,447.96 362.67,449.71 363.38,451.51 364.1,453.36 364.82,455.21 365.53,457.06 366.25,458.87 366.97,460.63 367.69,462.35 368.4,464.12 369.12,465.88 369.84,467.61 370.56,469.25 371.27,470.76 371.99,472.09 372.71,473.23 373.43,474.31 374.14,475.35 374.86,476.33 375.58,477.24 376.3,478.08 377.01,478.83 377.73,479.49 378.45,480.05 379.17,480.51 379.88,480.95 380.6,481.37 381.32,481.77 382.03,482.13 382.75,482.44 383.47,482.69 384.19,482.87 384.9,482.96 385.62,482.97 386.34,482.97 387.06,482.96 387.77,482.96 388.49,482.95 389.21,482.94 389.93,482.93 390.64,482.91 391.36,482.9 392.08,482.88 392.8,482.87 393.51,482.85 394.23,482.83 394.95,482.81 395.67,482.79 396.38,482.75 397.1,482.7 397.82,482.65 398.53,482.58 399.25,482.51 399.97,482.44 400.69,482.36 401.4,482.29 402.12,482.21 402.84,482.13 403.56,482.06 404.27,482 404.99,481.94 405.71,481.89 406.43,481.85 407.14,481.82 407.86,481.81 408.58,481.81 409.3,481.83 410.01,481.85 410.73,481.88 411.45,481.93 412.17,481.98 412.88,482.03 413.6,482.09 414.32,482.16 415.03,482.23 415.75,482.3 416.47,482.37 417.19,482.45 417.9,482.52 418.62,482.59 419.34,482.66 420.06,482.72 420.77,482.78 421.49,482.84 422.21,482.89 422.93,482.95 423.64,483.01 424.36,483.08 425.08,483.14 425.8,483.21 426.51,483.28 427.23,483.35 427.95,483.41 428.67,483.48 429.38,483.55 430.1,483.61 430.82,483.68 431.53,483.74 432.25,483.8 432.97,483.86 433.69,483.92 434.4,483.97 435.12,484.01 435.84,484.06 436.56,484.1 437.27,484.13 437.99,484.16 438.71,484.18 439.43,484.2 440.14,484.21 440.86,484.22 441.58,484.22 442.3,484.22 443.01,484.23 443.73,484.23 444.45,484.23 445.17,484.24 445.88,484.24 446.6,484.24 447.32,484.24 448.03,484.25 448.75,484.25 449.47,484.25 450.19,484.25 450.9,484.26 451.62,484.26 452.34,484.26 453.06,484.26 453.77,484.27 454.49,484.27 455.21,484.27 455.93,484.27 456.64,484.27 457.36,484.27 458.08,484.28 458.8,484.28 459.51,484.28 460.23,484.28 460.95,484.28 461.67,484.28 462.38,484.29 463.1,484.29 463.82,484.29 464.53,484.29 465.25,484.29 465.97,484.29 466.69,484.29 467.4,484.29 468.12,484.29 468.84,484.29 469.56,484.3 470.27,484.3 470.99,484.3 471.71,484.3 472.43,484.3 473.14,484.3 473.86,484.3 474.58,484.3 475.3,484.3 476.01,484.3 476.73,484.3 477.45,484.3 478.17,484.3 478.88,484.3 479.6,484.3" fill="none" stroke="#d62728" stroke-width="1.0" stroke-linejoin="round"/>
<line x1="291.36" y1="352.6" x2="291.36" y2="484.3" stroke="#1f77b4" stroke-width="1" stroke-dasharray="4,2" stroke-opacity="0.7"/>
<line x1="317.1" y1="352.6" x2="317.1" y2="484.3" stroke="#ff7f0e" stroke-width="1" stroke-dasharray="4,2" stroke-opacity="0.7"/>
<line x1="320.09" y1="352.6" x2="320.09" y2="484.3" stroke="#d62728" stroke-width="1" stroke-dasharray="4,2" stroke-opacity="0.7"/>
<line x1="321.26" y1="352.6" x2="321.26" y2="484.3" stroke="#2ca02c" stroke-width="1" stroke-dasharray="4,2" stroke-opacity="0.7"/>
<line x1="357.01" y1="352.6" x2="357.01" y2="484.3" stroke="#1f77b4" stroke-width="1" stroke-dasharray="4,2" stroke-opacity="0.7"/>
<line x1="365.98" y1="352.6" x2="365.98" y2="484.3" stroke="#ff7f0e" stroke-width="1" stroke-dasharray="4,2" stroke-opacity="0.7"/>
<line x1="366.5" y1="352.6" x2="366.5" y2="484.3" stroke="#2ca02c" stroke-width="1" stroke-dasharray="4,2" stroke-opacity="0.7"/>
<line x1="368.06" y1="352.6" x2="368.06" y2="484.3" stroke="#d62728" stroke-width="1" stroke-dasharray="4,2" stroke-opacity="0.7"/>
<path clip-path="url(#cP3)" d="M496.8,483.7 496.8,483.7 497.51,483.7 498.23,483.69 498.94,483.69 499.66,483.68 500.37,483.66 501.09,483.65 501.8,483.61 502.52,483.53 503.23,483.4 503.95,482.92 504.66,481.41 505.38,479.09 506.09,476.23 506.81,471.95 507.52,465.19 508.24,457.44 508.95,449 509.66,439.29 510.38,429.93 511.09,422.43 511.81,414.2 512.52,400.32 513.24,386.51 513.95,375.27 514.67,366.18 515.38,357.92 516.1,352.43 516.81,352.69 517.53,354.89 518.24,357.76 518.96,362.17 519.67,370.1 520.39,381.34 521.1,395.87 521.82,411.38 522.53,421.99 523.24,432.26 523.96,440.86 524.67,448.45 525.39,454.59 526.1,459.08 526.82,463.2 527.53,466.43 528.25,468.07 528.96,468.03 529.68,467.58 530.39,466.92 531.11,466.22 531.82,465.41 532.54,464.34 533.25,463.14 533.97,462 534.68,461.05 535.39,460.47 536.11,460.05 536.82,459.68 537.54,459.39 538.25,459.23 538.97,459.23 539.68,459.56 540.4,460.17 541.11,460.93 541.83,461.76 542.54,462.59 543.26,463.59 543.97,464.74 544.69,465.98 545.4,467.26 546.12,468.63 546.83,470.17 547.54,471.69 548.26,472.99 548.97,474.07 549.69,475.09 550.4,476.02 551.12,476.85 551.83,477.54 552.55,478.08 553.26,478.53 553.98,478.94 554.69,479.3 555.41,479.6 556.12,479.84 556.84,480.03 557.55,480.19 558.27,480.35 558.98,480.49 559.69,480.61 560.41,480.71 561.12,480.78 561.84,480.82 562.55,480.82 563.27,480.8 563.98,480.76 564.7,480.69 565.41,480.61 566.13,480.51 566.84,480.4 567.56,480.27 568.27,480.14 568.99,479.99 569.7,479.76 570.42,479.47 571.13,479.16 571.85,478.83 572.56,478.48 573.27,478.12 573.99,477.75 574.7,477.36 575.42,476.95 576.13,476.54 576.85,476.11 577.56,475.68 578.28,475.24 578.99,474.79 579.71,474.33 580.42,473.87 581.14,473.4 581.85,472.9 582.57,472.38 583.28,471.83 584,471.27 584.71,470.69 585.42,470.09 586.14,469.49 586.85,468.89 587.57,468.28 588.28,467.68 589,467.09 589.71,466.51 590.43,465.95 591.14,465.41 591.86,464.89 592.57,464.37 593.29,463.82 594,463.26 594.72,462.69 595.43,462.14 596.15,461.6 596.86,461.09 597.57,460.62 598.29,460.21 599,459.85 599.72,459.57 600.43,459.37 601.15,459.21 601.86,459.07 602.58,458.93 603.29,458.81 604.01,458.69 604.72,458.59 605.44,458.5 606.15,458.44 606.87,458.39 607.58,458.36 608.3,458.35 609.01,458.39 609.73,458.47 610.44,458.6 611.15,458.76 611.87,458.95 612.58,459.16 613.3,459.39 614.01,459.62 614.73,459.86 615.44,460.1 616.16,460.33 616.87,460.54 617.59,460.74 618.3,460.95 619.02,461.17 619.73,461.39 620.45,461.62 621.16,461.85 621.88,462.08 622.59,462.32 623.3,462.56 624.02,462.81 624.73,463.05 625.45,463.3 626.16,463.56 626.88,463.81 627.59,464.08 628.31,464.36 629.02,464.64 629.74,464.94 630.45,465.24 631.17,465.54 631.88,465.83 632.6,466.12 633.31,466.4 634.03,466.67 634.74,466.93 635.45,467.16 636.17,467.37 636.88,467.57 637.6,467.75 638.31,467.93 639.03,468.12 639.74,468.33 640.46,468.56 641.17,468.81 641.89,469.08 642.6,469.36 643.32,469.65 644.03,469.95 644.75,470.25 645.46,470.55 646.18,470.86 646.89,471.16 647.61,471.46 648.32,471.75 649.03,472.04 649.75,472.31 650.46,472.57 651.18,472.84 651.89,473.11 652.61,473.37 653.32,473.63 654.04,473.89 654.75,474.15 655.47,474.4 656.18,474.64 656.9,474.88 657.61,475.11 658.33,475.33 659.04,475.55 659.76,475.76 660.47,475.96 661.18,476.16 661.9,476.36 662.61,476.55 663.33,476.74 664.04,476.92 664.76,477.1 665.47,477.27 666.19,477.45 666.9,477.61 667.62,477.78 668.33,477.94 669.05,478.1 669.76,478.26 670.48,478.42 671.19,478.58 671.91,478.74 672.62,478.89 673.33,479.04 674.05,479.18 674.76,479.32 675.48,479.45 676.19,479.57 676.91,479.68 677.62,479.78 678.34,479.86 679.05,479.94 679.77,480.02 680.48,480.09 681.2,480.15 681.91,480.21 682.63,480.27 683.34,480.32 684.06,480.38 684.77,480.44 685.48,480.49 686.2,480.56 686.91,480.62 687.63,480.69 688.34,480.76 689.06,480.84 689.77,480.92 690.49,481 691.2,481.09 691.92,481.17 692.63,481.25 693.35,481.33 694.06,481.41 694.78,481.48 695.49,481.56 696.21,481.62 696.92,481.68 697.64,481.74 698.35,481.79 699.06,481.85 699.78,481.9 700.49,481.95 701.21,482 701.92,482.05 702.64,482.1 703.35,482.15 704.07,482.2 704.78,482.24 705.5,482.28 706.21,482.32 706.93,482.36 707.64,482.4 708.36,482.43 709.07,482.46 709.79,482.49 710.5,482.52 710.5,483.7Z" fill="#1f77b4" fill-opacity="0.25" stroke="none"/>
<path clip-path="url(#cP3)" d="M496.8,483.7 497.51,483.7 498.23,483.69 498.94,483.69 499.66,483.68 500.37,483.66 501.09,483.65 501.8,483.61 502.52,483.53 503.23,483.4 503.95,482.92 504.66,481.41 505.38,479.09 506.09,476.23 506.81,471.95 507.52,465.19 508.24,457.44 508.95,449 509.66,439.29 510.38,429.93 511.09,422.43 511.81,414.2 512.52,400.32 513.24,386.51 513.95,375.27 514.67,366.18 515.38,357.92 516.1,352.43 516.81,352.69 517.53,354.89 518.24,357.76 518.96,362.17 519.67,370.1 520.39,381.34 521.1,395.87 521.82,411.38 522.53,421.99 523.24,432.26 523.96,440.86 524.67,448.45 525.39,454.59 526.1,459.08 526.82,463.2 527.53,466.43 528.25,468.07 528.96,468.03 529.68,467.58 530.39,466.92 531.11,466.22 531.82,465.41 532.54,464.34 533.25,463.14 533.97,462 534.68,461.05 535.39,460.47 536.11,460.05 536.82,459.68 537.54,459.39 538.25,459.23 538.97,459.23 539.68,459.56 540.4,460.17 541.11,460.93 541.83,461.76 542.54,462.59 543.26,463.59 543.97,464.74 544.69,465.98 545.4,467.26 546.12,468.63 546.83,470.17 547.54,471.69 548.26,472.99 548.97,474.07 549.69,475.09 550.4,476.02 551.12,476.85 551.83,477.54 552.55,478.08 553.26,478.53 553.98,478.94 554.69,479.3 555.41,479.6 556.12,479.84 556.84,480.03 557.55,480.19 558.27,480.35 558.98,480.49 559.69,480.61 560.41,480.71 561.12,480.78 561.84,480.82 562.55,480.82 563.27,480.8 563.98,480.76 564.7,480.69 565.41,480.61 566.13,480.51 566.84,480.4 567.56,480.27 568.27,480.14 568.99,479.99 569.7,479.76 570.42,479.47 571.13,479.16 571.85,478.83 572.56,478.48 573.27,478.12 573.99,477.75 574.7,477.36 575.42,476.95 576.13,476.54 576.85,476.11 577.56,475.68 578.28,475.24 578.99,474.79 579.71,474.33 580.42,473.87 581.14,473.4 581.85,472.9 582.57,472.38 583.28,471.83 584,471.27 584.71,470.69 585.42,470.09 586.14,469.49 586.85,468.89 587.57,468.28 588.28,467.68 589,467.09 589.71,466.51 590.43,465.95 591.14,465.41 591.86,464.89 592.57,464.37 593.29,463.82 594,463.26 594.72,462.69 595.43,462.14 596.15,461.6 596.86,461.09 597.57,460.62 598.29,460.21 599,459.85 599.72,459.57 600.43,459.37 601.15,459.21 601.86,459.07 602.58,458.93 603.29,458.81 604.01,458.69 604.72,458.59 605.44,458.5 606.15,458.44 606.87,458.39 607.58,458.36 608.3,458.35 609.01,458.39 609.73,458.47 610.44,458.6 611.15,458.76 611.87,458.95 612.58,459.16 613.3,459.39 614.01,459.62 614.73,459.86 615.44,460.1 616.16,460.33 616.87,460.54 617.59,460.74 618.3,460.95 619.02,461.17 619.73,461.39 620.45,461.62 621.16,461.85 621.88,462.08 622.59,462.32 623.3,462.56 624.02,462.81 624.73,463.05 625.45,463.3 626.16,463.56 626.88,463.81 627.59,464.08 628.31,464.36 629.02,464.64 629.74,464.94 630.45,465.24 631.17,465.54 631.88,465.83 632.6,466.12 633.31,466.4 634.03,466.67 634.74,466.93 635.45,467.16 636.17,467.37 636.88,467.57 637.6,467.75 638.31,467.93 639.03,468.12 639.74,468.33 640.46,468.56 641.17,468.81 641.89,469.08 642.6,469.36 643.32,469.65 644.03,469.95 644.75,470.25 645.46,470.55 646.18,470.86 646.89,471.16 647.61,471.46 648.32,471.75 649.03,472.04 649.75,472.31 650.46,472.57 651.18,472.84 651.89,473.11 652.61,473.37 653.32,473.63 654.04,473.89 654.75,474.15 655.47,474.4 656.18,474.64 656.9,474.88 657.61,475.11 658.33,475.33 659.04,475.55 659.76,475.76 660.47,475.96 661.18,476.16 661.9,476.36 662.61,476.55 663.33,476.74 664.04,476.92 664.76,477.1 665.47,477.27 666.19,477.45 666.9,477.61 667.62,477.78 668.33,477.94 669.05,478.1 669.76,478.26 670.48,478.42 671.19,478.58 671.91,478.74 672.62,478.89 673.33,479.04 674.05,479.18 674.76,479.32 675.48,479.45 676.19,479.57 676.91,479.68 677.62,479.78 678.34,479.86 679.05,479.94 679.77,480.02 680.48,480.09 681.2,480.15 681.91,480.21 682.63,480.27 683.34,480.32 684.06,480.38 684.77,480.44 685.48,480.49 686.2,480.56 686.91,480.62 687.63,480.69 688.34,480.76 689.06,480.84 689.77,480.92 690.49,481 691.2,481.09 691.92,481.17 692.63,481.25 693.35,481.33 694.06,481.41 694.78,481.48 695.49,481.56 696.21,481.62 696.92,481.68 697.64,481.74 698.35,481.79 699.06,481.85 699.78,481.9 700.49,481.95 701.21,482 701.92,482.05 702.64,482.1 703.35,482.15 704.07,482.2 704.78,482.24 705.5,482.28 706.21,482.32 706.93,482.36 707.64,482.4 708.36,482.43 709.07,482.46 709.79,482.49 710.5,482.52" fill="none" stroke="#1f77b4" stroke-width="1.0" stroke-linejoin="round"/>
<path clip-path="url(#cP3)" d="M496.8,483.7 496.8,483.7 497.51,483.7 498.23,483.7 498.94,483.7 499.66,483.69 500.37,483.69 501.09,483.68 501.8,483.68 502.52,483.67 503.23,483.67 503.95,483.66 504.66,483.64 505.38,483.62 506.09,483.59 506.81,483.55 507.52,483.51 508.24,483.47 508.95,483.42 509.66,483.37 510.38,483.32 511.09,483.26 511.81,483.2 512.52,483.14 513.24,483.08 513.95,483.02 514.67,482.95 515.38,482.88 516.1,482.8 516.81,482.71 517.53,482.61 518.24,482.5 518.96,482.37 519.67,482.24 520.39,482.09 521.1,481.92 521.82,481.7 522.53,481.43 523.24,481.12 523.96,480.76 524.67,480.37 525.39,479.94 526.1,479.48 526.82,479 527.53,478.49 528.25,477.88 528.96,477.11 529.68,476.21 530.39,475.23 531.11,474.2 531.82,473.18 532.54,472.21 533.25,471.32 533.97,470.57 534.68,469.97 535.39,469.4 536.11,468.82 536.82,468.26 537.54,467.74 538.25,467.26 538.97,466.84 539.68,466.51 540.4,466.27 541.11,466.14 541.83,466.15 542.54,466.36 543.26,466.74 543.97,467.26 544.69,467.88 545.4,468.58 546.12,469.33 546.83,470.08 547.54,470.82 548.26,471.49 548.97,472.18 549.69,472.97 550.4,473.83 551.12,474.71 551.83,475.59 552.55,476.41 553.26,477.16 553.98,477.79 554.69,478.26 555.41,478.56 556.12,478.8 556.84,479.03 557.55,479.25 558.27,479.44 558.98,479.61 559.69,479.75 560.41,479.86 561.12,479.94 561.84,479.98 562.55,479.98 563.27,479.95 563.98,479.88 564.7,479.8 565.41,479.68 566.13,479.54 566.84,479.39 567.56,479.21 568.27,479.02 568.99,478.81 569.7,478.47 570.42,478.05 571.13,477.61 571.85,477.16 572.56,476.7 573.27,476.22 573.99,475.73 574.7,475.24 575.42,474.76 576.13,474.28 576.85,473.8 577.56,473.31 578.28,472.83 578.99,472.32 579.71,471.81 580.42,471.27 581.14,470.71 581.85,470.12 582.57,469.51 583.28,468.87 584,468.21 584.71,467.55 585.42,466.87 586.14,466.2 586.85,465.52 587.57,464.83 588.28,464.14 589,463.44 589.71,462.73 590.43,462 591.14,461.25 591.86,460.47 592.57,459.65 593.29,458.77 594,457.87 594.72,456.95 595.43,456.05 596.15,455.17 596.86,454.36 597.57,453.61 598.29,452.89 599,452.19 599.72,451.52 600.43,450.88 601.15,450.26 601.86,449.68 602.58,449.14 603.29,448.6 604.01,448.05 604.72,447.52 605.44,447.05 606.15,446.66 606.87,446.4 607.58,446.25 608.3,446.13 609.01,446.02 609.73,445.93 610.44,445.87 611.15,445.85 611.87,445.86 612.58,445.93 613.3,446.04 614.01,446.19 614.73,446.35 615.44,446.53 616.16,446.7 616.87,446.85 617.59,447 618.3,447.14 619.02,447.29 619.73,447.44 620.45,447.6 621.16,447.75 621.88,447.91 622.59,448.08 623.3,448.24 624.02,448.41 624.73,448.58 625.45,448.75 626.16,448.93 626.88,449.1 627.59,449.28 628.31,449.47 629.02,449.66 629.74,449.86 630.45,450.07 631.17,450.29 631.88,450.52 632.6,450.76 633.31,451.02 634.03,451.28 634.74,451.56 635.45,451.84 636.17,452.12 636.88,452.41 637.6,452.71 638.31,453.01 639.03,453.31 639.74,453.6 640.46,453.9 641.17,454.21 641.89,454.53 642.6,454.86 643.32,455.19 644.03,455.52 644.75,455.86 645.46,456.19 646.18,456.53 646.89,456.86 647.61,457.18 648.32,457.51 649.03,457.82 649.75,458.12 650.46,458.42 651.18,458.72 651.89,459.02 652.61,459.32 653.32,459.61 654.04,459.9 654.75,460.19 655.47,460.47 656.18,460.75 656.9,461.02 657.61,461.28 658.33,461.53 659.04,461.78 659.76,462.02 660.47,462.26 661.18,462.49 661.9,462.71 662.61,462.94 663.33,463.15 664.04,463.37 664.76,463.58 665.47,463.78 666.19,463.99 666.9,464.19 667.62,464.39 668.33,464.58 669.05,464.78 669.76,464.97 670.48,465.16 671.19,465.34 671.91,465.53 672.62,465.71 673.33,465.89 674.05,466.06 674.76,466.24 675.48,466.41 676.19,466.57 676.91,466.74 677.62,466.9 678.34,467.07 679.05,467.23 679.77,467.38 680.48,467.54 681.2,467.7 681.91,467.85 682.63,468 683.34,468.15 684.06,468.3 684.77,468.44 685.48,468.58 686.2,468.71 686.91,468.84 687.63,468.97 688.34,469.08 689.06,469.19 689.77,469.3 690.49,469.4 691.2,469.5 691.92,469.59 692.63,469.69 693.35,469.79 694.06,469.89 694.78,470 695.49,470.11 696.21,470.24 696.92,470.37 697.64,470.5 698.35,470.64 699.06,470.78 699.78,470.93 700.49,471.1 701.21,471.29 701.92,471.51 702.64,471.76 703.35,472.09 704.07,472.52 704.78,473.01 705.5,473.53 706.21,474.06 706.93,474.6 707.64,475.17 708.36,475.78 709.07,476.42 709.79,477.09 710.5,477.78 710.5,483.7Z" fill="#ff7f0e" fill-opacity="0.25" stroke="none"/>
<path clip-path="url(#cP3)" d="M496.8,483.7 497.51,483.7 498.23,483.7 498.94,483.7 499.66,483.69 500.37,483.69 501.09,483.68 501.8,483.68 502.52,483.67 503.23,483.67 503.95,483.66 504.66,483.64 505.38,483.62 506.09,483.59 506.81,483.55 507.52,483.51 508.24,483.47 508.95,483.42 509.66,483.37 510.38,483.32 511.09,483.26 511.81,483.2 512.52,483.14 513.24,483.08 513.95,483.02 514.67,482.95 515.38,482.88 516.1,482.8 516.81,482.71 517.53,482.61 518.24,482.5 518.96,482.37 519.67,482.24 520.39,482.09 521.1,481.92 521.82,481.7 522.53,481.43 523.24,481.12 523.96,480.76 524.67,480.37 525.39,479.94 526.1,479.48 526.82,479 527.53,478.49 528.25,477.88 528.96,477.11 529.68,476.21 530.39,475.23 531.11,474.2 531.82,473.18 532.54,472.21 533.25,471.32 533.97,470.57 534.68,469.97 535.39,469.4 536.11,468.82 536.82,468.26 537.54,467.74 538.25,467.26 538.97,466.84 539.68,466.51 540.4,466.27 541.11,466.14 541.83,466.15 542.54,466.36 543.26,466.74 543.97,467.26 544.69,467.88 545.4,468.58 546.12,469.33 546.83,470.08 547.54,470.82 548.26,471.49 548.97,472.18 549.69,472.97 550.4,473.83 551.12,474.71 551.83,475.59 552.55,476.41 553.26,477.16 553.98,477.79 554.69,478.26 555.41,478.56 556.12,478.8 556.84,479.03 557.55,479.25 558.27,479.44 558.98,479.61 559.69,479.75 560.41,479.86 561.12,479.94 561.84,479.98 562.55,479.98 563.27,479.95 563.98,479.88 564.7,479.8 565.41,479.68 566.13,479.54 566.84,479.39 567.56,479.21 568.27,479.02 568.99,478.81 569.7,478.47 570.42,478.05 571.13,477.61 571.85,477.16 572.56,476.7 573.27,476.22 573.99,475.73 574.7,475.24 575.42,474.76 576.13,474.28 576.85,473.8 577.56,473.31 578.28,472.83 578.99,472.32 579.71,471.81 580.42,471.27 581.14,470.71 581.85,470.12 582.57,469.51 583.28,468.87 584,468.21 584.71,467.55 585.42,466.87 586.14,466.2 586.85,465.52 587.57,464.83 588.28,464.14 589,463.44 589.71,462.73 590.43,462 591.14,461.25 591.86,460.47 592.57,459.65 593.29,458.77 594,457.87 594.72,456.95 595.43,456.05 596.15,455.17 596.86,454.36 597.57,453.61 598.29,452.89 599,452.19 599.72,451.52 600.43,450.88 601.15,450.26 601.86,449.68 602.58,449.14 603.29,448.6 604.01,448.05 604.72,447.52 605.44,447.05 606.15,446.66 606.87,446.4 607.58,446.25 608.3,446.13 609.01,446.02 609.73,445.93 610.44,445.87 611.15,445.85 611.87,445.86 612.58,445.93 613.3,446.04 614.01,446.19 614.73,446.35 615.44,446.53 616.16,446.7 616.87,446.85 617.59,447 618.3,447.14 619.02,447.29 619.73,447.44 620.45,447.6 621.16,447.75 621.88,447.91 622.59,448.08 623.3,448.24 624.02,448.41 624.73,448.58 625.45,448.75 626.16,448.93 626.88,449.1 627.59,449.28 628.31,449.47 629.02,449.66 629.74,449.86 630.45,450.07 631.17,450.29 631.88,450.52 632.6,450.76 633.31,451.02 634.03,451.28 634.74,451.56 635.45,451.84 636.17,452.12 636.88,452.41 637.6,452.71 638.31,453.01 639.03,453.31 639.74,453.6 640.46,453.9 641.17,454.21 641.89,454.53 642.6,454.86 643.32,455.19 644.03,455.52 644.75,455.86 645.46,456.19 646.18,456.53 646.89,456.86 647.61,457.18 648.32,457.51 649.03,457.82 649.75,458.12 650.46,458.42 651.18,458.72 651.89,459.02 652.61,459.32 653.32,459.61 654.04,459.9 654.75,460.19 655.47,460.47 656.18,460.75 656.9,461.02 657.61,461.28 658.33,461.53 659.04,461.78 659.76,462.02 660.47,462.26 661.18,462.49 661.9,462.71 662.61,462.94 663.33,463.15 664.04,463.37 664.76,463.58 665.47,463.78 666.19,463.99 666.9,464.19 667.62,464.39 668.33,464.58 669.05,464.78 669.76,464.97 670.48,465.16 671.19,465.34 671.91,465.53 672.62,465.71 673.33,465.89 674.05,466.06 674.76,466.24 675.48,466.41 676.19,466.57 676.91,466.74 677.62,466.9 678.34,467.07 679.05,467.23 679.77,467.38 680.48,467.54 681.2,467.7 681.91,467.85 682.63,468 683.34,468.15 684.06,468.3 684.77,468.44 685.48,468.58 686.2,468.71 686.91,468.84 687.63,468.97 688.34,469.08 689.06,469.19 689.77,469.3 690.49,469.4 691.2,469.5 691.92,469.59 692.63,469.69 693.35,469.79 694.06,469.89 694.78,470 695.49,470.11 696.21,470.24 696.92,470.37 697.64,470.5 698.35,470.64 699.06,470.78 699.78,470.93 700.49,471.1 701.21,471.29 701.92,471.51 702.64,471.76 703.35,472.09 704.07,472.52 704.78,473.01 705.5,473.53 706.21,474.06 706.93,474.6 707.64,475.17 708.36,475.78 709.07,476.42 709.79,477.09 710.5,477.78" fill="none" stroke="#ff7f0e" stroke-width="1.0" stroke-linejoin="round"/>
<path clip-path="url(#cP3)" d="M496.8,483.7 496.8,483.7 497.51,483.7 498.23,483.7 498.94,483.7 499.66,483.69 500.37,483.69 501.09,483.68 501.8,483.68 502.52,483.67 503.23,483.67 503.95,483.66 504.66,483.64 505.38,483.62 506.09,483.59 506.81,483.55 507.52,483.51 508.24,483.47 508.95,483.42 509.66,483.37 510.38,483.32 511.09,483.26 511.81,483.2 512.52,483.14 513.24,483.08 513.95,483.02 514.67,482.95 515.38,482.88 516.1,482.8 516.81,482.71 517.53,482.61 518.24,482.5 518.96,482.37 519.67,482.24 520.39,482.09 521.1,481.92 521.82,481.69 522.53,481.41 523.24,481.08 523.96,480.72 524.67,480.31 525.39,479.88 526.1,479.43 526.82,478.96 527.53,478.49 528.25,477.96 528.96,477.33 529.68,476.64 530.39,475.89 531.11,475.13 531.82,474.37 532.54,473.64 533.25,472.97 533.97,472.39 534.68,471.9 535.39,471.42 536.11,470.93 536.82,470.45 537.54,470 538.25,469.58 538.97,469.22 539.68,468.92 540.4,468.71 541.11,468.6 541.83,468.61 542.54,468.79 543.26,469.13 543.97,469.58 544.69,470.13 545.4,470.74 546.12,471.39 546.83,472.03 547.54,472.65 548.26,473.21 548.97,473.75 549.69,474.35 550.4,474.99 551.12,475.64 551.83,476.27 552.55,476.88 553.26,477.43 553.98,477.91 554.69,478.28 555.41,478.55 556.12,478.79 556.84,479.01 557.55,479.23 558.27,479.42 558.98,479.59 559.69,479.74 560.41,479.85 561.12,479.93 561.84,479.98 562.55,479.98 563.27,479.95 563.98,479.88 564.7,479.8 565.41,479.68 566.13,479.54 566.84,479.39 567.56,479.21 568.27,479.02 568.99,478.81 569.7,478.47 570.42,478.05 571.13,477.61 571.85,477.16 572.56,476.7 573.27,476.22 573.99,475.73 574.7,475.24 575.42,474.76 576.13,474.28 576.85,473.8 577.56,473.31 578.28,472.83 578.99,472.32 579.71,471.81 580.42,471.27 581.14,470.71 581.85,470.12 582.57,469.51 583.28,468.87 584,468.21 584.71,467.55 585.42,466.87 586.14,466.2 586.85,465.52 587.57,464.83 588.28,464.14 589,463.44 589.71,462.73 590.43,462 591.14,461.25 591.86,460.47 592.57,459.65 593.29,458.77 594,457.87 594.72,456.95 595.43,456.05 596.15,455.17 596.86,454.36 597.57,453.61 598.29,452.89 599,452.19 599.72,451.52 600.43,450.88 601.15,450.26 601.86,449.68 602.58,449.14 603.29,448.6 604.01,448.05 604.72,447.52 605.44,447.05 606.15,446.66 606.87,446.4 607.58,446.25 608.3,446.13 609.01,446.02 609.73,445.93 610.44,445.87 611.15,445.85 611.87,445.85 612.58,445.88 613.3,445.92 614.01,445.98 614.73,446.05 615.44,446.13 616.16,446.22 616.87,446.3 617.59,446.4 618.3,446.52 619.02,446.65 619.73,446.8 620.45,446.97 621.16,447.14 621.88,447.33 622.59,447.51 623.3,447.7 624.02,447.88 624.73,448.06 625.45,448.23 626.16,448.41 626.88,448.59 627.59,448.77 628.31,448.96 629.02,449.15 629.74,449.35 630.45,449.57 631.17,449.79 631.88,450.02 632.6,450.27 633.31,450.53 634.03,450.8 634.74,451.07 635.45,451.36 636.17,451.65 636.88,451.94 637.6,452.24 638.31,452.55 639.03,452.85 639.74,453.15 640.46,453.46 641.17,453.77 641.89,454.09 642.6,454.42 643.32,454.76 644.03,455.1 644.75,455.44 645.46,455.78 646.18,456.12 646.89,456.46 647.61,456.79 648.32,457.11 649.03,457.43 649.75,457.74 650.46,458.04 651.18,458.34 651.89,458.64 652.61,458.94 653.32,459.23 654.04,459.53 654.75,459.81 655.47,460.1 656.18,460.38 656.9,460.65 657.61,460.92 658.33,461.19 659.04,461.46 659.76,461.72 660.47,461.98 661.18,462.23 661.9,462.49 662.61,462.74 663.33,462.99 664.04,463.23 664.76,463.47 665.47,463.71 666.19,463.94 666.9,464.16 667.62,464.37 668.33,464.58 669.05,464.79 669.76,464.98 670.48,465.17 671.19,465.36 671.91,465.55 672.62,465.73 673.33,465.9 674.05,466.07 674.76,466.24 675.48,466.41 676.19,466.58 676.91,466.74 677.62,466.9 678.34,467.07 679.05,467.23 679.77,467.38 680.48,467.54 681.2,467.7 681.91,467.85 682.63,468 683.34,468.15 684.06,468.3 684.77,468.44 685.48,468.58 686.2,468.71 686.91,468.84 687.63,468.97 688.34,469.08 689.06,469.19 689.77,469.3 690.49,469.4 691.2,469.5 691.92,469.59 692.63,469.69 693.35,469.79 694.06,469.89 694.78,470 695.49,470.11 696.21,470.24 696.92,470.37 697.64,470.5 698.35,470.64 699.06,470.78 699.78,470.93 700.49,471.1 701.21,471.29 701.92,471.51 702.64,471.76 703.35,472.09 704.07,472.52 704.78,473.01 705.5,473.53 706.21,474.06 706.93,474.6 707.64,475.17 708.36,475.78 709.07,476.42 709.79,477.09 710.5,477.78 710.5,483.7Z" fill="#2ca02c" fill-opacity="0.25" stroke="none"/>
<path clip-path="url(#cP3)" d="M496.8,483.7 497.51,483.7 498.23,483.7 498.94,483.7 499.66,483.69 500.37,483.69 501.09,483.68 501.8,483.68 502.52,483.67 503.23,483.67 503.95,483.66 504.66,483.64 505.38,483.62 506.09,483.59 506.81,483.55 507.52,483.51 508.24,483.47 508.95,483.42 509.66,483.37 510.38,483.32 511.09,483.26 511.81,483.2 512.52,483.14 513.24,483.08 513.95,483.02 514.67,482.95 515.38,482.88 516.1,482.8 516.81,482.71 517.53,482.61 518.24,482.5 518.96,482.37 519.67,482.24 520.39,482.09 521.1,481.92 521.82,481.69 522.53,481.41 523.24,481.08 523.96,480.72 524.67,480.31 525.39,479.88 526.1,479.43 526.82,478.96 527.53,478.49 528.25,477.96 528.96,477.33 529.68,476.64 530.39,475.89 531.11,475.13 531.82,474.37 532.54,473.64 533.25,472.97 533.97,472.39 534.68,471.9 535.39,471.42 536.11,470.93 536.82,470.45 537.54,470 538.25,469.58 538.97,469.22 539.68,468.92 540.4,468.71 541.11,468.6 541.83,468.61 542.54,468.79 543.26,469.13 543.97,469.58 544.69,470.13 545.4,470.74 546.12,471.39 546.83,472.03 547.54,472.65 548.26,473.21 548.97,473.75 549.69,474.35 550.4,474.99 551.12,475.64 551.83,476.27 552.55,476.88 553.26,477.43 553.98,477.91 554.69,478.28 555.41,478.55 556.12,478.79 556.84,479.01 557.55,479.23 558.27,479.42 558.98,479.59 559.69,479.74 560.41,479.85 561.12,479.93 561.84,479.98 562.55,479.98 563.27,479.95 563.98,479.88 564.7,479.8 565.41,479.68 566.13,479.54 566.84,479.39 567.56,479.21 568.27,479.02 568.99,478.81 569.7,478.47 570.42,478.05 571.13,477.61 571.85,477.16 572.56,476.7 573.27,476.22 573.99,475.73 574.7,475.24 575.42,474.76 576.13,474.28 576.85,473.8 577.56,473.31 578.28,472.83 578.99,472.32 579.71,471.81 580.42,471.27 581.14,470.71 581.85,470.12 582.57,469.51 583.28,468.87 584,468.21 584.71,467.55 585.42,466.87 586.14,466.2 586.85,465.52 587.57,464.83 588.28,464.14 589,463.44 589.71,462.73 590.43,462 591.14,461.25 591.86,460.47 592.57,459.65 593.29,458.77 594,457.87 594.72,456.95 595.43,456.05 596.15,455.17 596.86,454.36 597.57,453.61 598.29,452.89 599,452.19 599.72,451.52 600.43,450.88 601.15,450.26 601.86,449.68 602.58,449.14 603.29,448.6 604.01,448.05 604.72,447.52 605.44,447.05 606.15,446.66 606.87,446.4 607.58,446.25 608.3,446.13 609.01,446.02 609.73,445.93 610.44,445.87 611.15,445.85 611.87,445.85 612.58,445.88 613.3,445.92 614.01,445.98 614.73,446.05 615.44,446.13 616.16,446.22 616.87,446.3 617.59,446.4 618.3,446.52 619.02,446.65 619.73,446.8 620.45,446.97 621.16,447.14 621.88,447.33 622.59,447.51 623.3,447.7 624.02,447.88 624.73,448.06 625.45,448.23 626.16,448.41 626.88,448.59 627.59,448.77 628.31,448.96 629.02,449.15 629.74,449.35 630.45,449.57 631.17,449.79 631.88,450.02 632.6,450.27 633.31,450.53 634.03,450.8 634.74,451.07 635.45,451.36 636.17,451.65 636.88,451.94 637.6,452.24 638.31,452.55 639.03,452.85 639.74,453.15 640.46,453.46 641.17,453.77 641.89,454.09 642.6,454.42 643.32,454.76 644.03,455.1 644.75,455.44 645.46,455.78 646.18,456.12 646.89,456.46 647.61,456.79 648.32,457.11 649.03,457.43 649.75,457.74 650.46,458.04 651.18,458.34 651.89,458.64 652.61,458.94 653.32,459.23 654.04,459.53 654.75,459.81 655.47,460.1 656.18,460.38 656.9,460.65 657.61,460.92 658.33,461.19 659.04,461.46 659.76,461.72 660.47,461.98 661.18,462.23 661.9,462.49 662.61,462.74 663.33,462.99 664.04,463.23 664.76,463.47 665.47,463.71 666.19,463.94 666.9,464.16 667.62,464.37 668.33,464.58 669.05,464.79 669.76,464.98 670.48,465.17 671.19,465.36 671.91,465.55 672.62,465.73 673.33,465.9 674.05,466.07 674.76,466.24 675.48,466.41 676.19,466.58 676.91,466.74 677.62,466.9 678.34,467.07 679.05,467.23 679.77,467.38 680.48,467.54 681.2,467.7 681.91,467.85 682.63,468 683.34,468.15 684.06,468.3 684.77,468.44 685.48,468.58 686.2,468.71 686.91,468.84 687.63,468.97 688.34,469.08 689.06,469.19 689.77,469.3 690.49,469.4 691.2,469.5 691.92,469.59 692.63,469.69 693.35,469.79 694.06,469.89 694.78,470 695.49,470.11 696.21,470.24 696.92,470.37 697.64,470.5 698.35,470.64 699.06,470.78 699.78,470.93 700.49,471.1 701.21,471.29 701.92,471.51 702.64,471.76 703.35,472.09 704.07,472.52 704.78,473.01 705.5,473.53 706.21,474.06 706.93,474.6 707.64,475.17 708.36,475.78 709.07,476.42 709.79,477.09 710.5,477.78" fill="none" stroke="#2ca02c" stroke-width="1.0" stroke-linejoin="round"/>
<path clip-path="url(#cP3)" d="M496.8,483.7 496.8,483.7 497.51,483.7 498.23,483.7 498.94,483.7 499.66,483.69 500.37,483.69 501.09,483.68 501.8,483.68 502.52,483.67 503.23,483.67 503.95,483.66 504.66,483.64 505.38,483.62 506.09,483.59 506.81,483.55 507.52,483.51 508.24,483.47 508.95,483.42 509.66,483.37 510.38,483.32 511.09,483.26 511.81,483.2 512.52,483.14 513.24,483.08 513.95,483.02 514.67,482.95 515.38,482.88 516.1,482.8 516.81,482.71 517.53,482.61 518.24,482.5 518.96,482.37 519.67,482.24 520.39,482.09 521.1,481.92 521.82,481.68 522.53,481.39 523.24,481.05 523.96,480.67 524.67,480.26 525.39,479.83 526.1,479.38 526.82,478.93 527.53,478.49 528.25,478.02 528.96,477.49 529.68,476.92 530.39,476.33 531.11,475.73 531.82,475.14 532.54,474.57 533.25,474.03 533.97,473.55 534.68,473.14 535.39,472.72 536.11,472.29 536.82,471.86 537.54,471.45 538.25,471.07 538.97,470.74 539.68,470.48 540.4,470.28 541.11,470.18 541.83,470.19 542.54,470.36 543.26,470.66 543.97,471.08 544.69,471.58 545.4,472.13 546.12,472.71 546.83,473.29 547.54,473.83 548.26,474.3 548.97,474.76 549.69,475.23 550.4,475.73 551.12,476.23 551.83,476.72 552.55,477.18 553.26,477.61 553.98,477.99 554.69,478.3 555.41,478.55 556.12,478.77 556.84,478.99 557.55,479.21 558.27,479.4 558.98,479.58 559.69,479.73 560.41,479.85 561.12,479.93 561.84,479.98 562.55,479.98 563.27,479.95 563.98,479.88 564.7,479.8 565.41,479.68 566.13,479.54 566.84,479.39 567.56,479.21 568.27,479.02 568.99,478.81 569.7,478.47 570.42,478.05 571.13,477.61 571.85,477.16 572.56,476.7 573.27,476.22 573.99,475.73 574.7,475.24 575.42,474.76 576.13,474.28 576.85,473.8 577.56,473.31 578.28,472.83 578.99,472.32 579.71,471.81 580.42,471.27 581.14,470.71 581.85,470.12 582.57,469.51 583.28,468.87 584,468.21 584.71,467.55 585.42,466.87 586.14,466.2 586.85,465.52 587.57,464.83 588.28,464.14 589,463.44 589.71,462.73 590.43,462 591.14,461.25 591.86,460.47 592.57,459.65 593.29,458.77 594,457.87 594.72,456.95 595.43,456.05 596.15,455.17 596.86,454.36 597.57,453.61 598.29,452.9 599,452.22 599.72,451.56 600.43,450.92 601.15,450.31 601.86,449.72 602.58,449.14 603.29,448.56 604.01,447.94 604.72,447.33 605.44,446.77 606.15,446.32 606.87,446.03 607.58,445.88 608.3,445.75 609.01,445.64 609.73,445.55 610.44,445.49 611.15,445.47 611.87,445.49 612.58,445.59 613.3,445.76 614.01,445.96 614.73,446.2 615.44,446.43 616.16,446.66 616.87,446.85 617.59,447.02 618.3,447.18 619.02,447.33 619.73,447.48 620.45,447.63 621.16,447.79 621.88,447.94 622.59,448.09 623.3,448.25 624.02,448.41 624.73,448.58 625.45,448.75 626.16,448.93 626.88,449.1 627.59,449.28 628.31,449.47 629.02,449.66 629.74,449.86 630.45,450.07 631.17,450.29 631.88,450.52 632.6,450.76 633.31,451.02 634.03,451.28 634.74,451.56 635.45,451.84 636.17,452.12 636.88,452.41 637.6,452.71 638.31,453.01 639.03,453.31 639.74,453.6 640.46,453.9 641.17,454.21 641.89,454.53 642.6,454.86 643.32,455.19 644.03,455.52 644.75,455.86 645.46,456.19 646.18,456.53 646.89,456.86 647.61,457.18 648.32,457.51 649.03,457.82 649.75,458.12 650.46,458.42 651.18,458.72 651.89,459.02 652.61,459.32 653.32,459.61 654.04,459.9 654.75,460.19 655.47,460.47 656.18,460.75 656.9,461.02 657.61,461.28 658.33,461.53 659.04,461.78 659.76,462.02 660.47,462.26 661.18,462.49 661.9,462.71 662.61,462.94 663.33,463.15 664.04,463.37 664.76,463.58 665.47,463.78 666.19,463.99 666.9,464.19 667.62,464.39 668.33,464.58 669.05,464.78 669.76,464.97 670.48,465.16 671.19,465.34 671.91,465.53 672.62,465.71 673.33,465.89 674.05,466.06 674.76,466.24 675.48,466.41 676.19,466.57 676.91,466.74 677.62,466.9 678.34,467.07 679.05,467.23 679.77,467.38 680.48,467.54 681.2,467.7 681.91,467.85 682.63,468 683.34,468.15 684.06,468.3 684.77,468.44 685.48,468.58 686.2,468.71 686.91,468.84 687.63,468.97 688.34,469.08 689.06,469.19 689.77,469.3 690.49,469.4 691.2,469.5 691.92,469.59 692.63,469.69 693.35,469.79 694.06,469.89 694.78,470 695.49,470.11 696.21,470.24 696.92,470.37 697.64,470.5 698.35,470.64 699.06,470.78 699.78,470.93 700.49,471.1 701.21,471.29 701.92,471.51 702.64,471.76 703.35,472.09 704.07,472.52 704.78,473.01 705.5,473.53 706.21,474.06 706.93,474.6 707.64,475.17 708.36,475.78 709.07,476.42 709.79,477.09 710.5,477.78 710.5,483.7Z" fill="#d62728" fill-opacity="0.25" stroke="none"/>
<path clip-path="url(#cP3)" d="M496.8,483.7 497.51,483.7 498.23,483.7 498.94,483.7 499.66,483.69 500.37,483.69 501.09,483.68 501.8,483.68 502.52,483.67 503.23,483.67 503.95,483.66 504.66,483.64 505.38,483.62 506.09,483.59 506.81,483.55 507.52,483.51 508.24,483.47 508.95,483.42 509.66,483.37 510.38,483.32 511.09,483.26 511.81,483.2 512.52,483.14 513.24,483.08 513.95,483.02 514.67,482.95 515.38,482.88 516.1,482.8 516.81,482.71 517.53,482.61 518.24,482.5 518.96,482.37 519.67,482.24 520.39,482.09 521.1,481.92 521.82,481.68 522.53,481.39 523.24,481.05 523.96,480.67 524.67,480.26 525.39,479.83 526.1,479.38 526.82,478.93 527.53,478.49 528.25,478.02 528.96,477.49 529.68,476.92 530.39,476.33 531.11,475.73 531.82,475.14 532.54,474.57 533.25,474.03 533.97,473.55 534.68,473.14 535.39,472.72 536.11,472.29 536.82,471.86 537.54,471.45 538.25,471.07 538.97,470.74 539.68,470.48 540.4,470.28 541.11,470.18 541.83,470.19 542.54,470.36 543.26,470.66 543.97,471.08 544.69,471.58 545.4,472.13 546.12,472.71 546.83,473.29 547.54,473.83 548.26,474.3 548.97,474.76 549.69,475.23 550.4,475.73 551.12,476.23 551.83,476.72 552.55,477.18 553.26,477.61 553.98,477.99 554.69,478.3 555.41,478.55 556.12,478.77 556.84,478.99 557.55,479.21 558.27,479.4 558.98,479.58 559.69,479.73 560.41,479.85 561.12,479.93 561.84,479.98 562.55,479.98 563.27,479.95 563.98,479.88 564.7,479.8 565.41,479.68 566.13,479.54 566.84,479.39 567.56,479.21 568.27,479.02 568.99,478.81 569.7,478.47 570.42,478.05 571.13,477.61 571.85,477.16 572.56,476.7 573.27,476.22 573.99,475.73 574.7,475.24 575.42,474.76 576.13,474.28 576.85,473.8 577.56,473.31 578.28,472.83 578.99,472.32 579.71,471.81 580.42,471.27 581.14,470.71 581.85,470.12 582.57,469.51 583.28,468.87 584,468.21 584.71,467.55 585.42,466.87 586.14,466.2 586.85,465.52 587.57,464.83 588.28,464.14 589,463.44 589.71,462.73 590.43,462 591.14,461.25 591.86,460.47 592.57,459.65 593.29,458.77 594,457.87 594.72,456.95 595.43,456.05 596.15,455.17 596.86,454.36 597.57,453.61 598.29,452.9 599,452.22 599.72,451.56 600.43,450.92 601.15,450.31 601.86,449.72 602.58,449.14 603.29,448.56 604.01,447.94 604.72,447.33 605.44,446.77 606.15,446.32 606.87,446.03 607.58,445.88 608.3,445.75 609.01,445.64 609.73,445.55 610.44,445.49 611.15,445.47 611.87,445.49 612.58,445.59 613.3,445.76 614.01,445.96 614.73,446.2 615.44,446.43 616.16,446.66 616.87,446.85 617.59,447.02 618.3,447.18 619.02,447.33 619.73,447.48 620.45,447.63 621.16,447.79 621.88,447.94 622.59,448.09 623.3,448.25 624.02,448.41 624.73,448.58 625.45,448.75 626.16,448.93 626.88,449.1 627.59,449.28 628.31,449.47 629.02,449.66 629.74,449.86 630.45,450.07 631.17,450.29 631.88,450.52 632.6,450.76 633.31,451.02 634.03,451.28 634.74,451.56 635.45,451.84 636.17,452.12 636.88,452.41 637.6,452.71 638.31,453.01 639.03,453.31 639.74,453.6 640.46,453.9 641.17,454.21 641.89,454.53 642.6,454.86 643.32,455.19 644.03,455.52 644.75,455.86 645.46,456.19 646.18,456.53 646.89,456.86 647.61,457.18 648.32,457.51 649.03,457.82 649.75,458.12 650.46,458.42 651.18,458.72 651.89,459.02 652.61,459.32 653.32,459.61 654.04,459.9 654.75,460.19 655.47,460.47 656.18,460.75 656.9,461.02 657.61,461.28 658.33,461.53 659.04,461.78 659.76,462.02 660.47,462.26 661.18,462.49 661.9,462.71 662.61,462.94 663.33,463.15 664.04,463.37 664.76,463.58 665.47,463.78 666.19,463.99 666.9,464.19 667.62,464.39 668.33,464.58 669.05,464.78 669.76,464.97 670.48,465.16 671.19,465.34 671.91,465.53 672.62,465.71 673.33,465.89 674.05,466.06 674.76,466.24 675.48,466.41 676.19,466.57 676.91,466.74 677.62,466.9 678.34,467.07 679.05,467.23 679.77,467.38 680.48,467.54 681.2,467.7 681.91,467.85 682.63,468 683.34,468.15 684.06,468.3 684.77,468.44 685.48,468.58 686.2,468.71 686.91,468.84 687.63,468.97 688.34,469.08 689.06,469.19 689.77,469.3 690.49,469.4 691.2,469.5 691.92,469.59 692.63,469.69 693.35,469.79 694.06,469.89 694.78,470 695.49,470.11 696.21,470.24 696.92,470.37 697.64,470.5 698.35,470.64 699.06,470.78 699.78,470.93 700.49,471.1 701.21,471.29 701.92,471.51 702.64,471.76 703.35,472.09 704.07,472.52 704.78,473.01 705.5,473.53 706.21,474.06 706.93,474.6 707.64,475.17 708.36,475.78 709.07,476.42 709.79,477.09 710.5,477.78" fill="none" stroke="#d62728" stroke-width="1.0" stroke-linejoin="round"/>
<line x1="515.39" y1="345" x2="515.39" y2="483.7" stroke="#1f77b4" stroke-width="1" stroke-dasharray="4,2" stroke-opacity="0.7"/>
<line x1="552.79" y1="345" x2="552.79" y2="483.7" stroke="#ff7f0e" stroke-width="1" stroke-dasharray="4,2" stroke-opacity="0.7"/>
<line x1="567.75" y1="345" x2="567.75" y2="483.7" stroke="#d62728" stroke-width="1" stroke-dasharray="4,2" stroke-opacity="0.7"/>
<line x1="569.89" y1="345" x2="569.89" y2="483.7" stroke="#2ca02c" stroke-width="1" stroke-dasharray="4,2" stroke-opacity="0.7"/>
<line x1="644.04" y1="345" x2="644.04" y2="483.7" stroke="#1f77b4" stroke-width="1" stroke-dasharray="4,2" stroke-opacity="0.7"/>
<line x1="682.72" y1="345" x2="682.72" y2="483.7" stroke="#2ca02c" stroke-width="1" stroke-dasharray="4,2" stroke-opacity="0.7"/>
<line x1="683.57" y1="345" x2="683.57" y2="483.7" stroke="#ff7f0e" stroke-width="1" stroke-dasharray="4,2" stroke-opacity="0.7"/>
<line x1="684.21" y1="345" x2="684.21" y2="483.7" stroke="#d62728" stroke-width="1" stroke-dasharray="4,2" stroke-opacity="0.7"/>
<rect x="116.6" y="356.6" width="105.2" height="51.8" fill="#fff" fill-opacity="0.8" stroke="#8a8a8a" stroke-width="0.8"/>
<rect x="120.6" y="360.2" width="8.6" height="6.4" fill="#1f77b4" fill-opacity="0.25" stroke="#1f77b4" stroke-width="0.9"/>
<text class="sf" x="136" y="367" font-size="8.6" fill="#3a3a3a" textLength="79.5" lengthAdjust="spacingAndGlyphs">XPHM Nitz&amp;Capano</text>
<rect x="120.6" y="372.55" width="8.6" height="6.4" fill="#ff7f0e" fill-opacity="0.25" stroke="#ff7f0e" stroke-width="0.9"/>
<text class="sf" x="136" y="379.35" font-size="8.6" fill="#3a3a3a" textLength="82.6" lengthAdjust="spacingAndGlyphs">XPHM PV=223 FS=0</text>
<rect x="120.6" y="384.9" width="8.6" height="6.4" fill="#2ca02c" fill-opacity="0.25" stroke="#2ca02c" stroke-width="0.9"/>
<text class="sf" x="136" y="391.7" font-size="8.6" fill="#3a3a3a" textLength="82.6" lengthAdjust="spacingAndGlyphs">XPHM PV=223 FS=2</text>
<rect x="120.6" y="397.25" width="8.6" height="6.4" fill="#d62728" fill-opacity="0.25" stroke="#d62728" stroke-width="0.9"/>
<text class="sf" x="136" y="404.05" font-size="8.6" fill="#3a3a3a" textLength="82.6" lengthAdjust="spacingAndGlyphs">XPHM PV=223 FS=3</text>
<rect x="23.2" y="352.6" width="202.4" height="131.7" fill="none" stroke="#333" stroke-width="1.1"/>
<rect x="265.6" y="352.6" width="202.6" height="131.7" fill="none" stroke="#333" stroke-width="1.1"/>
<rect x="496.8" y="345" width="213.7" height="138.7" fill="none" stroke="#333" stroke-width="1.1"/>
<path d="M26.8,484.3v2.5M76.3,484.3v2.5M125.8,484.3v2.5M175.3,484.3v2.5M224.8,484.3v2.5" stroke="#333" stroke-width="0.8"/>
<path d="M23.2,484.3h-2.5M23.2,441.03h-2.5M23.2,397.76h-2.5M23.2,354.49h-2.5" stroke="#333" stroke-width="0.8"/>
<text class="sf" x="26.8" y="494.6" font-size="9.3" fill="#333" text-anchor="middle" textLength="8.6" lengthAdjust="spacingAndGlyphs">50</text>
<text class="sf" x="76.3" y="494.6" font-size="9.3" fill="#333" text-anchor="middle" textLength="12.9" lengthAdjust="spacingAndGlyphs">100</text>
<text class="sf" x="125.8" y="494.6" font-size="9.3" fill="#333" text-anchor="middle" textLength="12.9" lengthAdjust="spacingAndGlyphs">150</text>
<text class="sf" x="175.3" y="494.6" font-size="9.3" fill="#333" text-anchor="middle" textLength="12.9" lengthAdjust="spacingAndGlyphs">200</text>
<text class="sf" x="224.8" y="494.6" font-size="9.3" fill="#333" text-anchor="middle" textLength="12.9" lengthAdjust="spacingAndGlyphs">250</text>
<text class="sf" x="17.9" y="487.6" font-size="9.3" fill="#333" text-anchor="end" textLength="16" lengthAdjust="spacingAndGlyphs">0.00</text>
<text class="sf" x="17.9" y="444.33" font-size="9.3" fill="#333" text-anchor="end" textLength="16" lengthAdjust="spacingAndGlyphs">0.01</text>
<text class="sf" x="17.9" y="401.06" font-size="9.3" fill="#333" text-anchor="end" textLength="16" lengthAdjust="spacingAndGlyphs">0.02</text>
<text class="sf" x="17.9" y="357.79" font-size="9.3" fill="#333" text-anchor="end" textLength="16" lengthAdjust="spacingAndGlyphs">0.03</text>
<path d="M271.6,484.3v2.5M336.6,484.3v2.5M401.6,484.3v2.5M466.6,484.3v2.5" stroke="#333" stroke-width="0.8"/>
<path d="M265.6,484.3h-2.5M265.6,451.1h-2.5M265.6,417.9h-2.5M265.6,384.7h-2.5" stroke="#333" stroke-width="0.8"/>
<text class="sf" x="271.6" y="494.6" font-size="9.3" fill="#333" text-anchor="middle" textLength="4.3" lengthAdjust="spacingAndGlyphs">0</text>
<text class="sf" x="336.6" y="494.6" font-size="9.3" fill="#333" text-anchor="middle" textLength="8.6" lengthAdjust="spacingAndGlyphs">50</text>
<text class="sf" x="401.6" y="494.6" font-size="9.3" fill="#333" text-anchor="middle" textLength="12.9" lengthAdjust="spacingAndGlyphs">100</text>
<text class="sf" x="466.6" y="494.6" font-size="9.3" fill="#333" text-anchor="middle" textLength="12.9" lengthAdjust="spacingAndGlyphs">150</text>
<text class="sf" x="260.4" y="487.6" font-size="9.3" fill="#333" text-anchor="end" textLength="16" lengthAdjust="spacingAndGlyphs">0.00</text>
<text class="sf" x="260.4" y="454.4" font-size="9.3" fill="#333" text-anchor="end" textLength="16" lengthAdjust="spacingAndGlyphs">0.02</text>
<text class="sf" x="260.4" y="421.2" font-size="9.3" fill="#333" text-anchor="end" textLength="16" lengthAdjust="spacingAndGlyphs">0.04</text>
<text class="sf" x="260.4" y="388" font-size="9.3" fill="#333" text-anchor="end" textLength="16" lengthAdjust="spacingAndGlyphs">0.06</text>
<path d="M496.8,483.7v2.5M539.54,483.7v2.5M582.28,483.7v2.5M625.02,483.7v2.5M667.76,483.7v2.5M710.5,483.7v2.5" stroke="#333" stroke-width="0.8"/>
<path d="M496.8,483.7h-2.5M496.8,449.9h-2.5M496.8,416.1h-2.5M496.8,382.3h-2.5M496.8,348.5h-2.5" stroke="#333" stroke-width="0.8"/>
<text class="sf" x="496.8" y="494" font-size="9.3" fill="#333" text-anchor="middle" textLength="11.6" lengthAdjust="spacingAndGlyphs">0.0</text>
<text class="sf" x="539.54" y="494" font-size="9.3" fill="#333" text-anchor="middle" textLength="11.6" lengthAdjust="spacingAndGlyphs">0.2</text>
<text class="sf" x="582.28" y="494" font-size="9.3" fill="#333" text-anchor="middle" textLength="11.6" lengthAdjust="spacingAndGlyphs">0.4</text>
<text class="sf" x="625.02" y="494" font-size="9.3" fill="#333" text-anchor="middle" textLength="11.6" lengthAdjust="spacingAndGlyphs">0.6</text>
<text class="sf" x="667.76" y="494" font-size="9.3" fill="#333" text-anchor="middle" textLength="11.6" lengthAdjust="spacingAndGlyphs">0.8</text>
<text class="sf" x="710.5" y="494" font-size="9.3" fill="#333" text-anchor="middle" textLength="11.6" lengthAdjust="spacingAndGlyphs">1.0</text>
<text class="sf" x="492.3" y="487" font-size="9.3" fill="#333" text-anchor="end">0</text>
<text class="sf" x="492.3" y="453.2" font-size="9.3" fill="#333" text-anchor="end">2</text>
<text class="sf" x="492.3" y="419.4" font-size="9.3" fill="#333" text-anchor="end">4</text>
<text class="sf" x="492.3" y="385.6" font-size="9.3" fill="#333" text-anchor="end">6</text>
<text class="sf" x="492.3" y="351.8" font-size="9.3" fill="#333" text-anchor="end">8</text>
<text class="sf" x="101.2" y="508.3" font-size="13" fill="#333" font-style="italic" textLength="10.2" lengthAdjust="spacingAndGlyphs">m</text>
<text class="sf" x="111.8" y="511.5" font-size="8.5" fill="#333">1</text>
<text class="sf" x="111.6" y="504" font-size="8.8" fill="#333" font-style="italic" textLength="11" lengthAdjust="spacingAndGlyphs">src</text>
<text class="sf" x="123.4" y="508.3" font-size="13" fill="#333">[</text>
<text class="sf" x="125.8" y="508.3" font-size="13" fill="#333" font-style="italic" textLength="10.2" lengthAdjust="spacingAndGlyphs">M</text>
<circle cx="139.8" cy="507.3" r="2.3" fill="none" stroke="#333" stroke-width="0.7"/><circle cx="139.8" cy="507.3" r="0.6" fill="#333"/>
<text class="sf" x="143.2" y="508.3" font-size="13" fill="#333">]</text>
<text class="sf" x="343" y="508.3" font-size="13" fill="#333" font-style="italic" textLength="10.2" lengthAdjust="spacingAndGlyphs">m</text>
<text class="sf" x="353.6" y="511.5" font-size="8.5" fill="#333">2</text>
<text class="sf" x="353.4" y="504" font-size="8.8" fill="#333" font-style="italic" textLength="11" lengthAdjust="spacingAndGlyphs">src</text>
<text class="sf" x="365.2" y="508.3" font-size="13" fill="#333">[</text>
<text class="sf" x="367.6" y="508.3" font-size="13" fill="#333" font-style="italic" textLength="10.2" lengthAdjust="spacingAndGlyphs">M</text>
<circle cx="381.6" cy="507.3" r="2.3" fill="none" stroke="#333" stroke-width="0.7"/><circle cx="381.6" cy="507.3" r="0.6" fill="#333"/>
<text class="sf" x="385" y="508.3" font-size="13" fill="#333">]</text>
<text class="sf" x="603.2" y="508.3" font-size="13" fill="#333" font-style="italic" text-anchor="middle">q</text>
</svg></body></html>
